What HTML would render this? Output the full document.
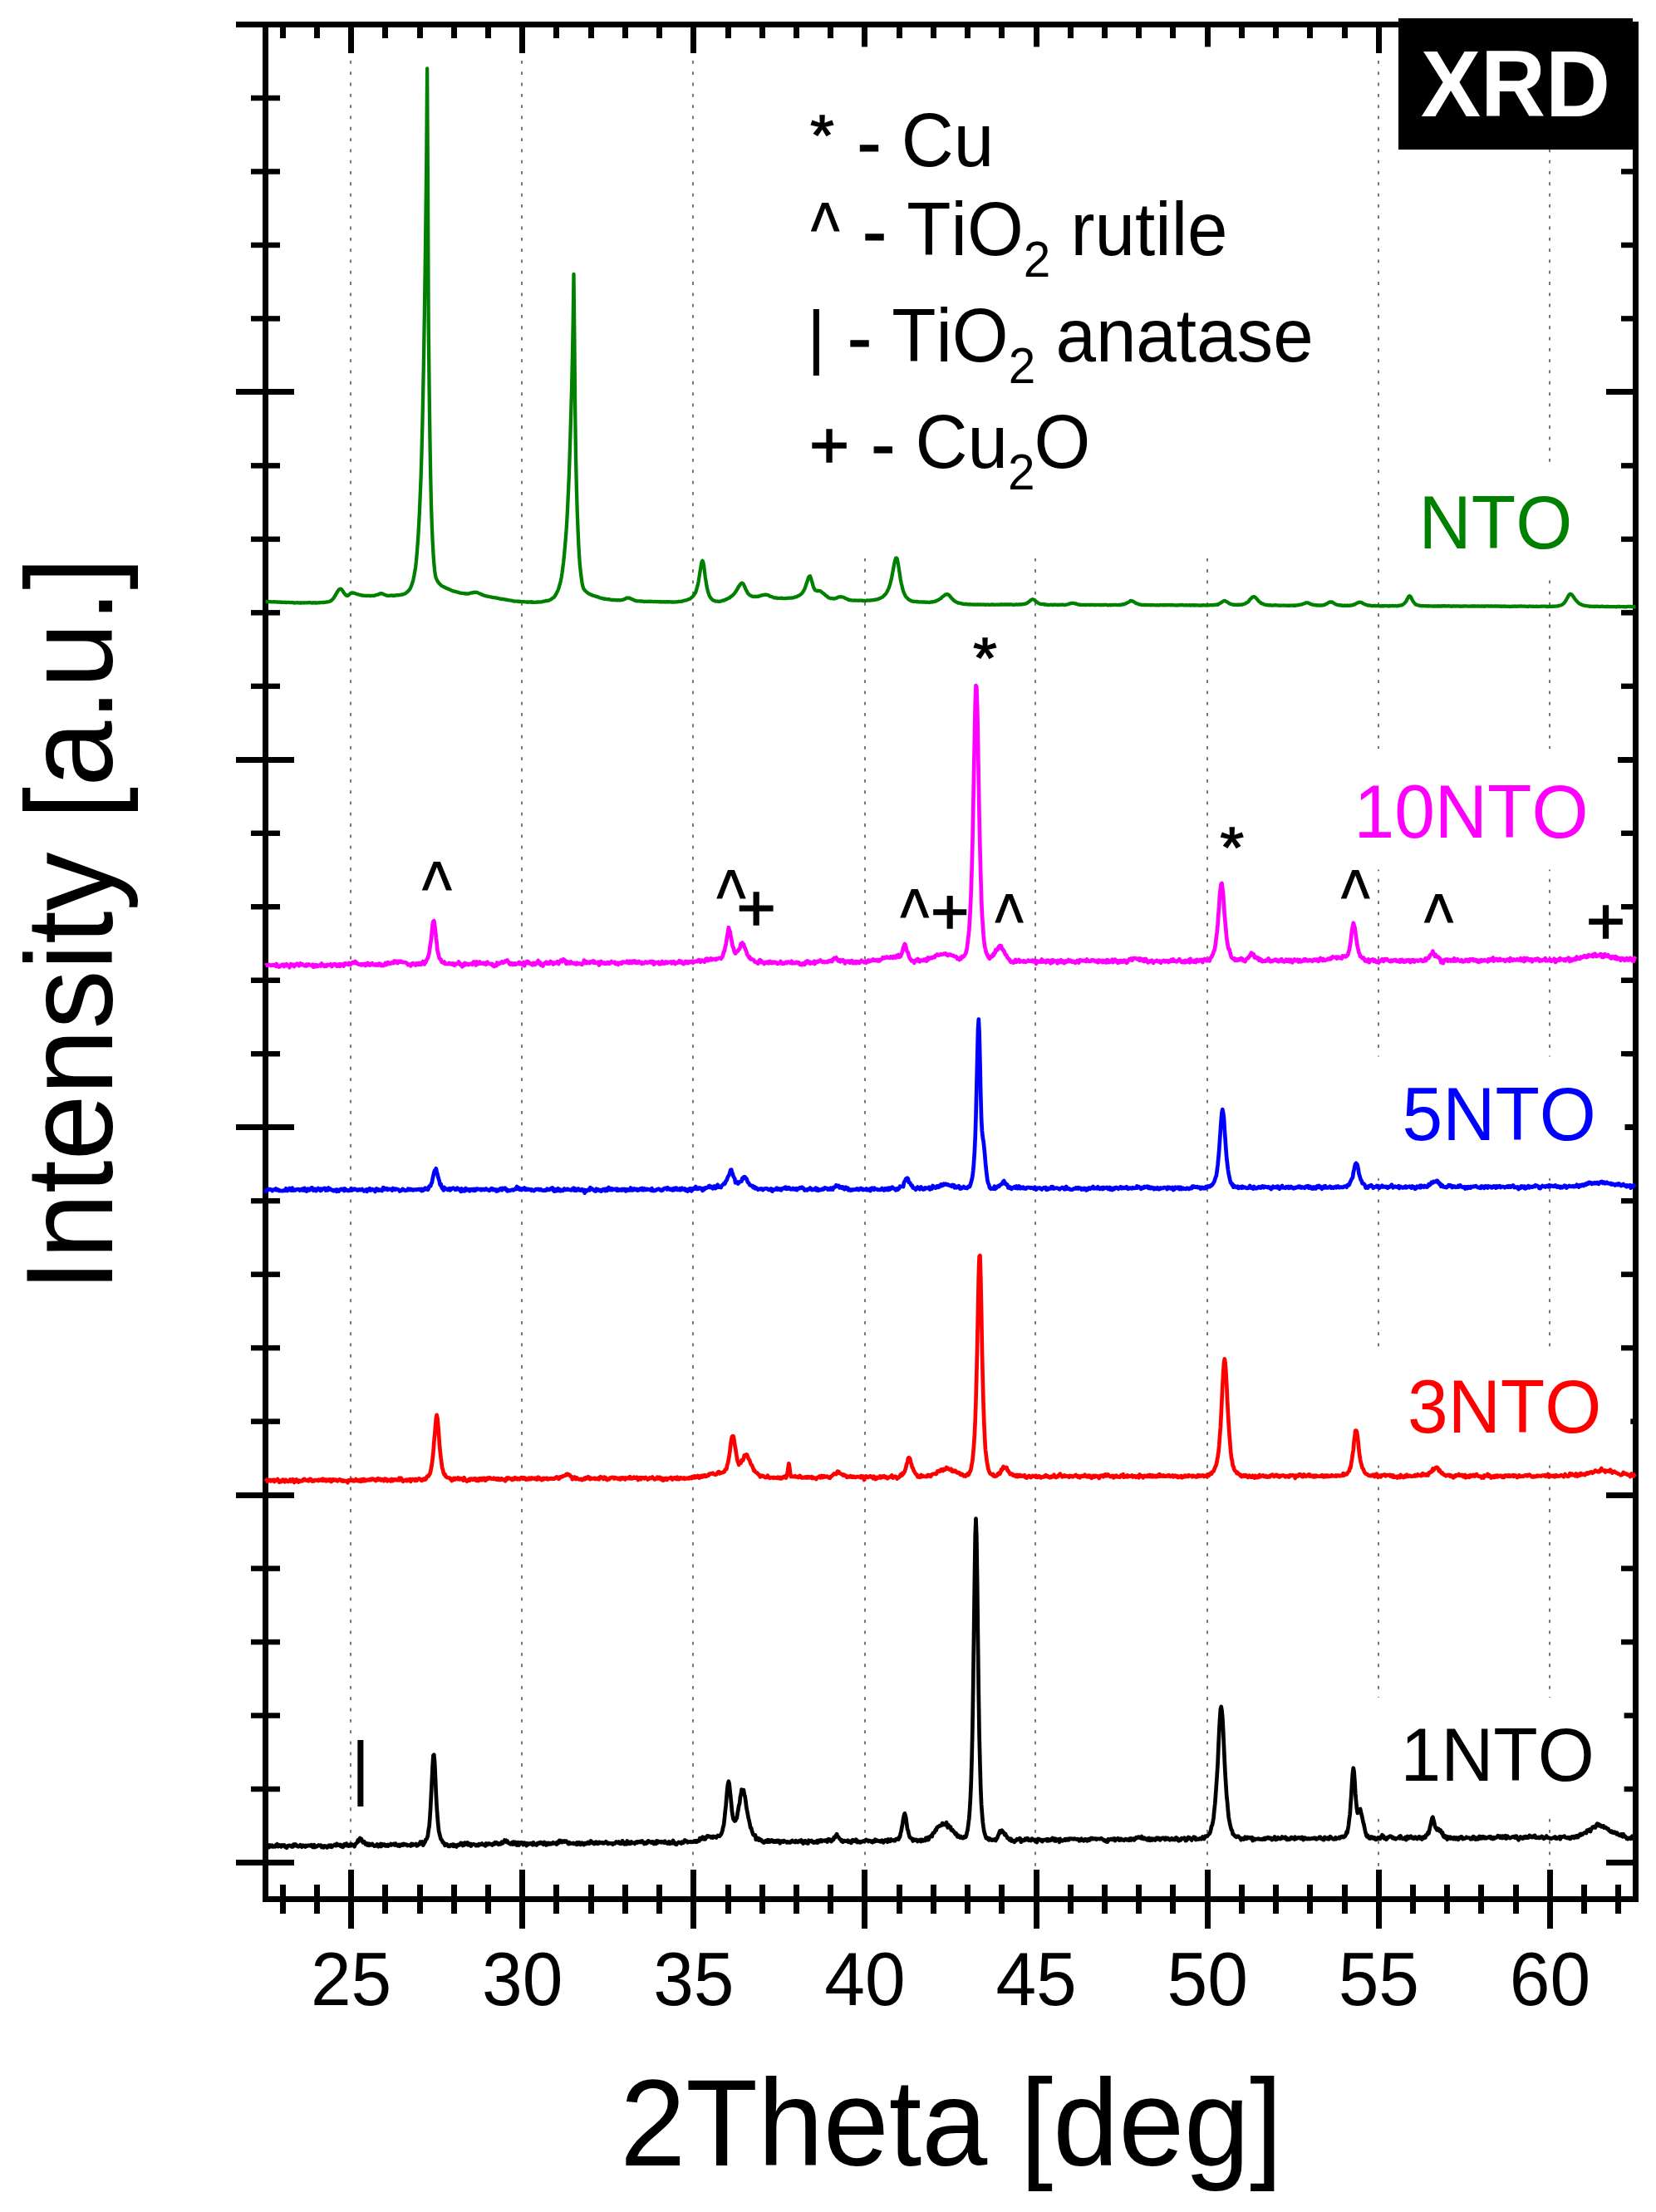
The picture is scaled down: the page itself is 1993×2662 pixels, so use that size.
<!DOCTYPE html>
<html lang="en"><head><meta charset="utf-8"><title>XRD</title>
<style>html,body{margin:0;padding:0;background:#fff}svg{display:block}</style></head>
<body>
<svg width="1993" height="2662" viewBox="0 0 1993 2662" font-family='"Liberation Sans", sans-serif' style="font-kerning:none">
<rect width="1993" height="2662" fill="#fff"/>
<g stroke="#777" stroke-width="2" stroke-dasharray="3.8 9.506" fill="none">
<path d="M422 73V2250"/>
<path d="M628 73V2250"/>
<path d="M834 73V2250"/>
<path d="M1041 73V2250"/>
<path d="M1246 73V2250"/>
<path d="M1453 73V2250"/>
<path d="M1659 73V2250"/>
<path d="M1865 73V2250"/>
</g>
<g fill="#000">
<rect x="284" y="26" width="1688" height="7"/>
<rect x="316" y="26" width="7" height="2263"/>
<rect x="1965" y="26" width="7" height="2263"/>
<rect x="316" y="2282" width="1656" height="7"/>
<rect x="337" y="26" width="7" height="20"/>
<rect x="337" y="2268" width="7" height="35"/>
<rect x="378" y="26" width="7" height="20"/>
<rect x="378" y="2268" width="7" height="35"/>
<rect x="419" y="26" width="7" height="38"/>
<rect x="419" y="2250" width="7" height="71"/>
<rect x="460" y="26" width="7" height="20"/>
<rect x="460" y="2268" width="7" height="35"/>
<rect x="502" y="26" width="7" height="20"/>
<rect x="502" y="2268" width="7" height="35"/>
<rect x="543" y="26" width="7" height="20"/>
<rect x="543" y="2268" width="7" height="35"/>
<rect x="584" y="26" width="7" height="20"/>
<rect x="584" y="2268" width="7" height="35"/>
<rect x="625" y="26" width="7" height="38"/>
<rect x="625" y="2250" width="7" height="71"/>
<rect x="666" y="26" width="7" height="20"/>
<rect x="666" y="2268" width="7" height="35"/>
<rect x="708" y="26" width="7" height="20"/>
<rect x="708" y="2268" width="7" height="35"/>
<rect x="749" y="26" width="7" height="20"/>
<rect x="749" y="2268" width="7" height="35"/>
<rect x="790" y="26" width="7" height="20"/>
<rect x="790" y="2268" width="7" height="35"/>
<rect x="831" y="26" width="7" height="38"/>
<rect x="831" y="2250" width="7" height="71"/>
<rect x="873" y="26" width="7" height="20"/>
<rect x="873" y="2268" width="7" height="35"/>
<rect x="914" y="26" width="7" height="20"/>
<rect x="914" y="2268" width="7" height="35"/>
<rect x="955" y="26" width="7" height="20"/>
<rect x="955" y="2268" width="7" height="35"/>
<rect x="996" y="26" width="7" height="20"/>
<rect x="996" y="2268" width="7" height="35"/>
<rect x="1037" y="26" width="7" height="38"/>
<rect x="1037" y="2250" width="7" height="71"/>
<rect x="1079" y="26" width="7" height="20"/>
<rect x="1079" y="2268" width="7" height="35"/>
<rect x="1120" y="26" width="7" height="20"/>
<rect x="1120" y="2268" width="7" height="35"/>
<rect x="1161" y="26" width="7" height="20"/>
<rect x="1161" y="2268" width="7" height="35"/>
<rect x="1202" y="26" width="7" height="20"/>
<rect x="1202" y="2268" width="7" height="35"/>
<rect x="1244" y="26" width="7" height="38"/>
<rect x="1244" y="2250" width="7" height="71"/>
<rect x="1285" y="26" width="7" height="20"/>
<rect x="1285" y="2268" width="7" height="35"/>
<rect x="1326" y="26" width="7" height="20"/>
<rect x="1326" y="2268" width="7" height="35"/>
<rect x="1367" y="26" width="7" height="20"/>
<rect x="1367" y="2268" width="7" height="35"/>
<rect x="1408" y="26" width="7" height="20"/>
<rect x="1408" y="2268" width="7" height="35"/>
<rect x="1450" y="26" width="7" height="38"/>
<rect x="1450" y="2250" width="7" height="71"/>
<rect x="1491" y="26" width="7" height="20"/>
<rect x="1491" y="2268" width="7" height="35"/>
<rect x="1532" y="26" width="7" height="20"/>
<rect x="1532" y="2268" width="7" height="35"/>
<rect x="1573" y="26" width="7" height="20"/>
<rect x="1573" y="2268" width="7" height="35"/>
<rect x="1615" y="26" width="7" height="20"/>
<rect x="1615" y="2268" width="7" height="35"/>
<rect x="1656" y="26" width="7" height="38"/>
<rect x="1656" y="2250" width="7" height="71"/>
<rect x="1697" y="26" width="7" height="20"/>
<rect x="1697" y="2268" width="7" height="35"/>
<rect x="1738" y="26" width="7" height="20"/>
<rect x="1738" y="2268" width="7" height="35"/>
<rect x="1779" y="26" width="7" height="20"/>
<rect x="1779" y="2268" width="7" height="35"/>
<rect x="1821" y="26" width="7" height="20"/>
<rect x="1821" y="2268" width="7" height="35"/>
<rect x="1862" y="26" width="7" height="38"/>
<rect x="1862" y="2250" width="7" height="71"/>
<rect x="1903" y="26" width="7" height="20"/>
<rect x="1903" y="2268" width="7" height="35"/>
<rect x="1944" y="26" width="7" height="20"/>
<rect x="1944" y="2268" width="7" height="35"/>
<rect x="284" y="26" width="70" height="7"/>
<rect x="1933" y="26" width="36" height="7"/>
<rect x="302" y="114.73" width="35" height="6.5"/>
<rect x="1951" y="114.73" width="17" height="6.5"/>
<rect x="302" y="203.21" width="35" height="6.5"/>
<rect x="1951" y="203.21" width="17" height="6.5"/>
<rect x="302" y="291.69" width="35" height="6.5"/>
<rect x="1951" y="291.69" width="17" height="6.5"/>
<rect x="302" y="380.17" width="35" height="6.5"/>
<rect x="1951" y="380.17" width="17" height="6.5"/>
<rect x="284" y="468" width="70" height="7"/>
<rect x="1933" y="468" width="36" height="7"/>
<rect x="302" y="557.13" width="35" height="6.5"/>
<rect x="1951" y="557.13" width="17" height="6.5"/>
<rect x="302" y="645.61" width="35" height="6.5"/>
<rect x="1951" y="645.61" width="17" height="6.5"/>
<rect x="302" y="734.09" width="35" height="6.5"/>
<rect x="1951" y="734.09" width="17" height="6.5"/>
<rect x="302" y="822.57" width="35" height="6.5"/>
<rect x="1951" y="822.57" width="17" height="6.5"/>
<rect x="284" y="911" width="70" height="7"/>
<rect x="1933" y="911" width="36" height="7"/>
<rect x="302" y="999.53" width="35" height="6.5"/>
<rect x="1951" y="999.53" width="17" height="6.5"/>
<rect x="302" y="1088.01" width="35" height="6.5"/>
<rect x="1951" y="1088.01" width="17" height="6.5"/>
<rect x="302" y="1176.49" width="35" height="6.5"/>
<rect x="1951" y="1176.49" width="17" height="6.5"/>
<rect x="302" y="1264.97" width="35" height="6.5"/>
<rect x="1951" y="1264.97" width="17" height="6.5"/>
<rect x="284" y="1353" width="70" height="7"/>
<rect x="1933" y="1353" width="36" height="7"/>
<rect x="302" y="1441.93" width="35" height="6.5"/>
<rect x="1951" y="1441.93" width="17" height="6.5"/>
<rect x="302" y="1530.41" width="35" height="6.5"/>
<rect x="1951" y="1530.41" width="17" height="6.5"/>
<rect x="302" y="1618.89" width="35" height="6.5"/>
<rect x="1951" y="1618.89" width="17" height="6.5"/>
<rect x="302" y="1707.37" width="35" height="6.5"/>
<rect x="1951" y="1707.37" width="17" height="6.5"/>
<rect x="284" y="1796" width="70" height="7"/>
<rect x="1933" y="1796" width="36" height="7"/>
<rect x="302" y="1884.33" width="35" height="6.5"/>
<rect x="1951" y="1884.33" width="17" height="6.5"/>
<rect x="302" y="1972.81" width="35" height="6.5"/>
<rect x="1951" y="1972.81" width="17" height="6.5"/>
<rect x="302" y="2061.29" width="35" height="6.5"/>
<rect x="1951" y="2061.29" width="17" height="6.5"/>
<rect x="302" y="2149.77" width="35" height="6.5"/>
<rect x="1951" y="2149.77" width="17" height="6.5"/>
<rect x="284" y="2238" width="70" height="7"/>
<rect x="1933" y="2238" width="36" height="7"/>
</g>
<g fill="#fff">
<rect x="938" y="56.4" width="675" height="615.6"/>
<rect x="1678" y="556" width="250" height="142"/>
<rect x="1603" y="901" width="344" height="145.5"/>
<rect x="1657" y="1271.5" width="298.5" height="146.5"/>
<rect x="1657" y="1626" width="305.3" height="137.5"/>
<rect x="1657" y="2043" width="297.6" height="146"/>
</g>
<rect x="1683" y="22" width="282" height="158" fill="#000"/>
<polyline points="319.5,723.9 320.3,723.9 321.1,724.1 322.0,724.1 322.8,724.3 323.6,724.2 324.4,724.0 325.3,724.0 326.1,724.3 326.9,724.4 327.7,724.3 328.6,724.4 329.4,724.2 330.2,724.1 331.0,724.3 331.9,724.4 332.7,724.4 333.5,724.5 334.3,724.5 335.2,724.6 336.0,724.7 336.8,724.5 337.6,724.8 338.5,724.6 339.3,724.6 340.1,724.8 340.9,724.8 341.8,724.9 342.6,724.7 343.4,725.0 344.2,724.8 345.1,725.2 345.9,724.8 346.7,724.9 347.5,725.0 348.4,724.8 349.2,725.2 350.0,725.2 350.8,725.1 351.7,725.0 352.5,725.1 353.3,725.4 354.1,725.5 355.0,725.6 355.8,725.3 356.6,725.3 357.4,725.4 358.3,725.1 359.1,725.3 359.9,725.5 360.7,725.6 361.5,725.4 362.4,725.6 363.2,725.4 364.0,725.4 364.8,725.4 365.7,725.5 366.5,725.4 367.3,725.4 368.1,725.3 369.0,725.4 369.8,725.3 370.6,725.1 371.4,725.3 372.3,725.2 373.1,725.0 373.9,725.3 374.7,725.5 375.6,725.6 376.4,725.5 377.2,725.1 378.0,725.4 378.9,725.5 379.7,725.1 380.5,725.5 381.3,725.5 382.2,725.4 383.0,725.3 383.8,725.2 384.6,725.4 385.5,725.0 386.3,725.1 387.1,725.1 387.9,725.1 388.8,724.8 389.6,725.1 390.4,724.9 391.2,724.8 392.1,724.6 392.9,724.5 393.7,724.4 394.5,724.3 395.4,724.2 396.2,724.0 397.0,723.6 397.8,723.1 398.7,722.9 399.5,721.9 400.3,721.1 401.1,720.4 401.9,719.2 402.8,717.7 403.6,716.5 404.4,714.9 405.2,713.6 406.1,712.0 406.9,710.9 407.7,709.8 408.5,709.0 409.4,708.7 410.2,708.9 411.0,709.1 411.8,710.3 412.7,711.4 413.5,713.0 414.3,713.9 415.1,715.3 416.0,715.7 416.8,716.7 417.6,716.9 418.4,716.8 419.3,716.4 420.1,715.7 420.9,715.1 421.7,714.3 422.6,713.6 423.4,713.5 424.2,713.8 425.0,713.5 425.9,713.7 426.7,713.8 427.5,714.2 428.3,714.5 429.2,714.8 430.0,715.2 430.8,715.2 431.6,715.5 432.5,715.8 433.3,715.9 434.1,716.0 434.9,716.5 435.8,716.4 436.6,716.7 437.4,716.7 438.2,716.9 439.1,716.8 439.9,716.8 440.7,716.9 441.5,717.0 442.4,716.8 443.2,716.9 444.0,716.9 444.8,717.0 445.6,717.1 446.5,717.0 447.3,716.8 448.1,716.8 448.9,716.8 449.8,716.8 450.6,716.8 451.4,716.4 452.2,716.2 453.1,716.0 453.9,715.6 454.7,715.7 455.5,715.1 456.4,715.0 457.2,714.3 458.0,714.5 458.8,714.2 459.7,714.4 460.5,714.6 461.3,714.9 462.1,715.3 463.0,715.8 463.8,716.0 464.6,716.4 465.4,716.6 466.3,716.8 467.1,716.7 467.9,716.8 468.7,716.8 469.6,716.7 470.4,716.7 471.2,716.5 472.0,716.6 472.9,716.9 473.7,716.7 474.5,716.6 475.3,716.8 476.2,716.5 477.0,716.4 477.8,716.2 478.6,716.4 479.5,716.1 480.3,716.1 481.1,716.1 481.9,715.9 482.8,715.7 483.6,715.6 484.4,715.5 485.2,715.4 486.0,714.8 486.9,714.6 487.7,714.3 488.5,713.7 489.3,712.9 490.2,712.4 491.0,711.6 491.8,710.7 492.6,709.8 493.5,708.7 494.3,706.9 495.1,705.1 495.9,702.7 496.8,699.9 497.6,696.7 498.4,692.7 499.2,688.1 500.1,682.8 500.9,675.8 501.7,667.0 502.5,656.6 503.4,643.6 504.2,629.4 505.0,613.1 505.8,594.2 506.7,571.8 507.5,545.1 508.3,513.7 509.1,476.1 510.0,431.6 510.8,381.7 511.6,328.0 512.4,265.3 513.3,189.1 514.1,82.4 514.9,215.4 515.7,390.0 516.6,468.8 517.4,526.0 518.2,572.2 519.0,608.3 519.9,634.4 520.7,653.2 521.5,667.2 522.3,678.1 523.2,686.8 524.0,692.7 524.8,695.6 525.6,697.3 526.4,699.1 527.3,700.5 528.1,701.4 528.9,702.5 529.7,703.4 530.6,704.2 531.4,704.9 532.2,705.3 533.0,705.8 533.9,706.1 534.7,706.7 535.5,706.9 536.3,707.4 537.2,707.9 538.0,708.1 538.8,708.6 539.6,708.9 540.5,709.2 541.3,709.5 542.1,709.8 542.9,710.5 543.8,710.7 544.6,711.0 545.4,711.4 546.2,711.5 547.1,711.7 547.9,712.0 548.7,711.9 549.5,712.2 550.4,712.7 551.2,712.8 552.0,712.9 552.8,713.4 553.7,713.6 554.5,713.7 555.3,713.8 556.1,713.8 557.0,714.0 557.8,714.2 558.6,714.2 559.4,714.4 560.3,714.5 561.1,714.6 561.9,714.3 562.7,714.6 563.6,714.7 564.4,714.2 565.2,713.9 566.0,713.9 566.8,713.5 567.7,713.3 568.5,713.5 569.3,713.0 570.1,713.1 571.0,712.7 571.8,713.0 572.6,712.8 573.4,712.8 574.3,713.0 575.1,713.4 575.9,713.7 576.7,714.1 577.6,714.5 578.4,714.7 579.2,715.3 580.0,715.4 580.9,716.0 581.7,716.3 582.5,716.7 583.3,716.7 584.2,717.0 585.0,717.3 585.8,717.5 586.6,717.6 587.5,717.8 588.3,718.0 589.1,718.2 589.9,718.2 590.8,718.5 591.6,718.7 592.4,718.9 593.2,719.0 594.1,719.1 594.9,719.2 595.7,719.3 596.5,719.4 597.4,719.5 598.2,720.0 599.0,719.8 599.8,720.0 600.7,720.3 601.5,720.5 602.3,720.6 603.1,720.9 604.0,721.0 604.8,721.0 605.6,720.8 606.4,721.3 607.3,721.3 608.1,721.5 608.9,721.6 609.7,721.9 610.5,721.9 611.4,722.2 612.2,722.3 613.0,722.3 613.8,722.5 614.7,722.7 615.5,722.7 616.3,723.0 617.1,723.1 618.0,723.3 618.8,723.5 619.6,723.6 620.4,723.6 621.3,723.6 622.1,723.7 622.9,723.5 623.7,724.0 624.6,723.7 625.4,724.1 626.2,723.9 627.0,724.1 627.9,724.1 628.7,724.2 629.5,724.1 630.3,724.0 631.2,724.4 632.0,724.3 632.8,724.3 633.6,724.4 634.5,724.8 635.3,724.5 636.1,724.6 636.9,724.4 637.8,724.7 638.6,724.4 639.4,724.1 640.2,724.9 641.1,724.4 641.9,724.8 642.7,724.8 643.5,724.8 644.4,724.7 645.2,724.7 646.0,724.8 646.8,724.5 647.7,724.5 648.5,724.6 649.3,724.4 650.1,724.3 650.9,724.5 651.8,724.3 652.6,724.1 653.4,723.9 654.2,723.6 655.1,723.7 655.9,723.5 656.7,722.9 657.5,723.0 658.4,723.0 659.2,723.0 660.0,722.7 660.8,722.3 661.7,722.1 662.5,721.5 663.3,721.2 664.1,720.4 665.0,719.9 665.8,719.3 666.6,718.9 667.4,717.8 668.3,716.6 669.1,715.2 669.9,713.6 670.7,712.1 671.6,710.0 672.4,707.9 673.2,705.2 674.0,702.4 674.9,698.7 675.7,694.6 676.5,689.5 677.3,683.5 678.2,676.5 679.0,668.3 679.8,659.9 680.6,650.3 681.5,638.9 682.3,626.4 683.1,611.3 683.9,593.8 684.8,573.7 685.6,550.6 686.4,523.9 687.2,496.8 688.1,466.1 688.9,431.1 689.7,387.3 690.5,330.0 691.3,400.3 692.2,494.5 693.0,550.0 693.8,584.6 694.6,612.1 695.5,636.2 696.3,654.5 697.1,668.5 697.9,679.8 698.8,688.3 699.6,694.9 700.4,700.3 701.2,704.8 702.1,707.6 702.9,709.2 703.7,710.3 704.5,711.1 705.4,712.0 706.2,712.6 707.0,713.2 707.8,714.0 708.7,714.4 709.5,715.0 710.3,715.1 711.1,715.6 712.0,715.9 712.8,716.4 713.6,716.6 714.4,716.8 715.3,717.0 716.1,717.5 716.9,717.8 717.7,718.1 718.6,717.8 719.4,718.2 720.2,718.9 721.0,719.0 721.9,719.3 722.7,719.7 723.5,719.8 724.3,719.9 725.2,720.1 726.0,720.6 726.8,720.3 727.6,720.8 728.5,720.7 729.3,720.8 730.1,721.2 730.9,721.0 731.7,721.3 732.6,721.2 733.4,721.2 734.2,721.5 735.0,721.9 735.9,721.8 736.7,722.0 737.5,722.0 738.3,722.0 739.2,722.0 740.0,722.2 740.8,722.0 741.6,722.3 742.5,722.1 743.3,722.4 744.1,722.4 744.9,722.2 745.8,722.4 746.6,722.3 747.4,722.2 748.2,722.0 749.1,721.9 749.9,721.8 750.7,721.3 751.5,720.9 752.4,720.8 753.2,720.0 754.0,719.7 754.8,719.5 755.7,719.6 756.5,719.6 757.3,719.7 758.1,719.9 759.0,720.4 759.8,720.8 760.6,721.1 761.4,721.3 762.3,721.9 763.1,722.2 763.9,722.6 764.7,722.8 765.6,723.2 766.4,723.4 767.2,723.4 768.0,723.3 768.9,723.3 769.7,723.4 770.5,723.4 771.3,723.6 772.2,723.5 773.0,723.6 773.8,723.6 774.6,723.9 775.4,724.0 776.3,723.9 777.1,723.8 777.9,724.0 778.7,723.9 779.6,723.8 780.4,724.0 781.2,723.9 782.0,723.7 782.9,724.0 783.7,724.0 784.5,723.8 785.3,723.8 786.2,724.1 787.0,724.1 787.8,724.1 788.6,723.9 789.5,724.1 790.3,724.2 791.1,723.9 791.9,724.1 792.8,724.1 793.6,724.3 794.4,723.9 795.2,724.2 796.1,724.5 796.9,724.2 797.7,724.3 798.5,724.4 799.4,724.2 800.2,724.5 801.0,724.4 801.8,724.1 802.7,724.4 803.5,724.2 804.3,724.5 805.1,724.2 806.0,724.3 806.8,724.3 807.6,724.4 808.4,724.6 809.3,724.4 810.1,724.5 810.9,724.7 811.7,724.4 812.6,724.4 813.4,724.3 814.2,724.4 815.0,724.4 815.8,724.1 816.7,724.0 817.5,723.9 818.3,723.8 819.1,724.0 820.0,723.7 820.8,723.7 821.6,723.4 822.4,723.1 823.3,722.8 824.1,722.7 824.9,722.6 825.7,722.3 826.6,722.1 827.4,721.7 828.2,721.4 829.0,721.0 829.9,720.8 830.7,720.5 831.5,719.7 832.3,718.9 833.2,718.5 834.0,717.4 834.8,716.6 835.6,715.4 836.5,713.9 837.3,712.6 838.1,709.8 838.9,707.0 839.8,703.8 840.6,699.8 841.4,695.0 842.2,689.7 843.1,684.5 843.9,679.6 844.7,675.9 845.5,674.7 846.4,677.0 847.2,681.4 848.0,688.0 848.8,694.5 849.7,700.1 850.5,705.3 851.3,709.1 852.1,712.3 853.0,714.8 853.8,717.1 854.6,718.4 855.4,719.8 856.2,720.6 857.1,721.5 857.9,722.3 858.7,722.6 859.5,722.8 860.4,723.2 861.2,723.6 862.0,723.7 862.8,723.7 863.7,723.5 864.5,723.8 865.3,723.8 866.1,723.8 867.0,723.6 867.8,723.4 868.6,723.2 869.4,723.0 870.3,722.5 871.1,722.7 871.9,722.1 872.7,722.0 873.6,721.4 874.4,720.8 875.2,720.8 876.0,720.1 876.9,719.7 877.7,719.6 878.5,719.1 879.3,718.1 880.2,717.8 881.0,716.9 881.8,716.4 882.6,715.7 883.5,714.5 884.3,713.7 885.1,712.3 885.9,711.5 886.8,709.8 887.6,708.5 888.4,707.2 889.2,705.5 890.1,704.6 890.9,703.1 891.7,702.5 892.5,701.7 893.4,701.7 894.2,702.2 895.0,703.4 895.8,705.2 896.6,706.9 897.5,709.2 898.3,710.7 899.1,711.9 899.9,713.9 900.8,714.7 901.6,715.7 902.4,716.2 903.2,716.5 904.1,717.2 904.9,717.4 905.7,717.8 906.5,717.9 907.4,718.0 908.2,717.8 909.0,718.0 909.8,717.9 910.7,718.0 911.5,717.7 912.3,717.7 913.1,717.8 914.0,717.1 914.8,717.1 915.6,716.9 916.4,716.5 917.3,716.4 918.1,716.2 918.9,716.1 919.7,715.8 920.6,715.7 921.4,715.8 922.2,715.7 923.0,715.9 923.9,716.1 924.7,716.2 925.5,716.9 926.3,717.5 927.2,717.6 928.0,717.9 928.8,718.2 929.6,718.4 930.5,718.8 931.3,719.2 932.1,719.5 932.9,719.5 933.8,719.4 934.6,719.5 935.4,720.0 936.2,719.9 937.1,719.9 937.9,719.9 938.7,719.8 939.5,720.1 940.3,719.9 941.2,719.7 942.0,720.1 942.8,720.1 943.6,720.1 944.5,720.2 945.3,720.0 946.1,720.2 946.9,719.8 947.8,719.8 948.6,719.7 949.4,719.8 950.2,719.7 951.1,719.7 951.9,719.7 952.7,719.6 953.5,719.4 954.4,719.3 955.2,719.3 956.0,718.8 956.8,718.4 957.7,718.5 958.5,718.3 959.3,717.7 960.1,717.5 961.0,716.9 961.8,716.6 962.6,716.2 963.4,715.6 964.3,714.7 965.1,714.1 965.9,712.9 966.7,711.8 967.6,710.2 968.4,708.6 969.2,706.6 970.0,704.1 970.9,701.6 971.7,699.1 972.5,696.6 973.3,694.5 974.2,693.5 975.0,693.3 975.8,695.4 976.6,698.1 977.5,701.0 978.3,704.2 979.1,706.7 979.9,708.3 980.7,709.9 981.6,710.6 982.4,710.6 983.2,711.1 984.0,711.0 984.9,710.9 985.7,711.0 986.5,711.2 987.3,711.4 988.2,711.9 989.0,712.6 989.8,713.3 990.6,714.0 991.5,714.5 992.3,715.2 993.1,715.9 993.9,716.8 994.8,717.2 995.6,717.9 996.4,718.6 997.2,719.3 998.1,719.5 998.9,719.9 999.7,720.1 1000.5,720.2 1001.4,720.2 1002.2,720.3 1003.0,720.5 1003.8,720.4 1004.7,720.4 1005.5,720.0 1006.3,719.9 1007.1,719.6 1008.0,719.0 1008.8,718.6 1009.6,718.4 1010.4,718.3 1011.3,718.2 1012.1,718.4 1012.9,718.3 1013.7,718.5 1014.6,718.7 1015.4,718.8 1016.2,719.5 1017.0,719.8 1017.9,720.2 1018.7,720.5 1019.5,721.0 1020.3,721.2 1021.1,721.8 1022.0,722.0 1022.8,722.0 1023.6,722.2 1024.4,722.4 1025.3,722.3 1026.1,722.7 1026.9,722.7 1027.7,722.6 1028.6,722.5 1029.4,722.6 1030.2,722.7 1031.0,722.6 1031.9,722.7 1032.7,722.6 1033.5,722.8 1034.3,722.7 1035.2,722.6 1036.0,722.7 1036.8,722.7 1037.6,722.6 1038.5,723.1 1039.3,722.9 1040.1,722.9 1040.9,723.0 1041.8,722.9 1042.6,722.9 1043.4,722.6 1044.2,722.5 1045.1,722.6 1045.9,722.7 1046.7,722.5 1047.5,722.5 1048.4,722.4 1049.2,722.4 1050.0,722.2 1050.8,722.2 1051.7,722.2 1052.5,721.7 1053.3,721.8 1054.1,721.5 1055.0,721.4 1055.8,721.4 1056.6,721.0 1057.4,720.9 1058.3,720.2 1059.1,720.0 1059.9,719.6 1060.7,719.2 1061.5,718.8 1062.4,718.3 1063.2,717.4 1064.0,716.7 1064.8,715.8 1065.7,715.2 1066.5,713.9 1067.3,712.6 1068.1,711.1 1069.0,709.2 1069.8,707.4 1070.6,705.0 1071.4,702.3 1072.3,698.9 1073.1,695.2 1073.9,691.0 1074.7,686.8 1075.6,682.2 1076.4,677.8 1077.2,674.3 1078.0,671.8 1078.9,671.4 1079.7,672.5 1080.5,676.0 1081.3,680.9 1082.2,686.6 1083.0,691.9 1083.8,697.1 1084.6,701.4 1085.5,705.1 1086.3,708.7 1087.1,711.2 1087.9,713.4 1088.8,715.3 1089.6,717.0 1090.4,718.4 1091.2,719.0 1092.1,719.8 1092.9,720.9 1093.7,721.5 1094.5,721.9 1095.4,722.4 1096.2,722.9 1097.0,723.4 1097.8,723.4 1098.7,723.8 1099.5,723.7 1100.3,723.8 1101.1,724.0 1102.0,723.8 1102.8,723.9 1103.6,724.3 1104.4,724.0 1105.2,724.4 1106.1,724.4 1106.9,724.5 1107.7,724.4 1108.5,724.3 1109.4,724.5 1110.2,724.5 1111.0,724.5 1111.8,724.6 1112.7,724.5 1113.5,724.6 1114.3,724.8 1115.1,724.7 1116.0,724.7 1116.8,724.8 1117.6,724.8 1118.4,725.0 1119.3,724.9 1120.1,724.5 1120.9,724.4 1121.7,724.5 1122.6,724.4 1123.4,724.1 1124.2,724.1 1125.0,723.8 1125.9,723.6 1126.7,723.1 1127.5,722.8 1128.3,722.4 1129.2,722.1 1130.0,721.5 1130.8,721.0 1131.6,720.5 1132.5,720.0 1133.3,719.1 1134.1,718.3 1134.9,717.8 1135.8,717.2 1136.6,716.5 1137.4,715.7 1138.2,715.5 1139.1,715.4 1139.9,715.2 1140.7,715.4 1141.5,715.8 1142.4,716.5 1143.2,717.2 1144.0,718.5 1144.8,719.3 1145.6,720.3 1146.5,721.2 1147.3,721.8 1148.1,722.8 1148.9,723.3 1149.8,724.0 1150.6,724.3 1151.4,724.8 1152.2,725.0 1153.1,725.6 1153.9,725.4 1154.7,725.8 1155.5,726.1 1156.4,726.1 1157.2,726.4 1158.0,726.4 1158.8,726.9 1159.7,726.8 1160.5,727.1 1161.3,727.0 1162.1,727.0 1163.0,726.9 1163.8,727.1 1164.6,727.3 1165.4,727.3 1166.3,727.4 1167.1,727.2 1167.9,727.6 1168.7,727.3 1169.6,727.3 1170.4,727.6 1171.2,727.7 1172.0,727.5 1172.9,727.5 1173.7,727.7 1174.5,727.5 1175.3,727.7 1176.2,727.4 1177.0,727.5 1177.8,727.6 1178.6,727.7 1179.5,727.4 1180.3,727.7 1181.1,727.7 1181.9,727.7 1182.8,727.6 1183.6,727.5 1184.4,727.6 1185.2,727.6 1186.0,727.8 1186.9,727.6 1187.7,727.6 1188.5,727.7 1189.3,727.5 1190.2,727.8 1191.0,727.8 1191.8,727.8 1192.6,727.6 1193.5,727.4 1194.3,727.4 1195.1,727.6 1195.9,727.6 1196.8,727.8 1197.6,727.8 1198.4,727.7 1199.2,727.6 1200.1,727.6 1200.9,727.6 1201.7,727.8 1202.5,727.7 1203.4,727.6 1204.2,727.4 1205.0,727.6 1205.8,727.3 1206.7,727.7 1207.5,727.7 1208.3,727.4 1209.1,727.5 1210.0,727.4 1210.8,727.5 1211.6,727.6 1212.4,727.5 1213.3,727.4 1214.1,727.6 1214.9,727.5 1215.7,727.5 1216.6,727.3 1217.4,727.5 1218.2,727.6 1219.0,727.7 1219.9,728.0 1220.7,727.8 1221.5,727.7 1222.3,727.7 1223.2,727.4 1224.0,727.6 1224.8,727.7 1225.6,727.3 1226.4,727.5 1227.3,727.5 1228.1,727.2 1228.9,727.5 1229.7,727.1 1230.6,727.1 1231.4,727.1 1232.2,726.9 1233.0,726.9 1233.9,726.6 1234.7,726.4 1235.5,726.0 1236.3,725.7 1237.2,724.8 1238.0,724.5 1238.8,723.8 1239.6,723.0 1240.5,722.3 1241.3,721.8 1242.1,721.5 1242.9,721.2 1243.8,721.5 1244.6,722.0 1245.4,722.3 1246.2,723.3 1247.1,724.2 1247.9,724.4 1248.7,725.3 1249.5,725.7 1250.4,726.2 1251.2,726.5 1252.0,726.9 1252.8,726.8 1253.7,727.1 1254.5,727.1 1255.3,727.1 1256.1,727.0 1257.0,727.5 1257.8,727.6 1258.6,727.5 1259.4,727.6 1260.3,727.9 1261.1,727.9 1261.9,728.0 1262.7,727.9 1263.6,727.8 1264.4,727.7 1265.2,727.6 1266.0,727.8 1266.9,728.1 1267.7,727.9 1268.5,727.8 1269.3,727.6 1270.1,727.7 1271.0,727.8 1271.8,727.8 1272.6,728.0 1273.4,727.9 1274.3,728.0 1275.1,727.8 1275.9,727.8 1276.7,727.9 1277.6,727.6 1278.4,727.7 1279.2,727.6 1280.0,727.8 1280.9,728.0 1281.7,727.9 1282.5,727.8 1283.3,727.7 1284.2,727.5 1285.0,727.3 1285.8,727.0 1286.6,726.6 1287.5,726.5 1288.3,726.3 1289.1,725.8 1289.9,725.8 1290.8,725.9 1291.6,725.8 1292.4,725.8 1293.2,726.2 1294.1,726.6 1294.9,726.5 1295.7,726.9 1296.5,727.0 1297.4,727.3 1298.2,727.5 1299.0,727.9 1299.8,727.7 1300.7,727.8 1301.5,727.8 1302.3,727.8 1303.1,727.8 1304.0,727.8 1304.8,727.9 1305.6,728.0 1306.4,728.1 1307.3,727.8 1308.1,727.8 1308.9,727.8 1309.7,727.9 1310.5,727.9 1311.4,728.0 1312.2,727.7 1313.0,728.0 1313.8,727.9 1314.7,727.8 1315.5,727.8 1316.3,728.0 1317.1,727.9 1318.0,728.2 1318.8,728.0 1319.6,728.0 1320.4,727.8 1321.3,727.8 1322.1,728.1 1322.9,728.1 1323.7,728.0 1324.6,728.0 1325.4,728.0 1326.2,728.1 1327.0,728.2 1327.9,727.8 1328.7,728.0 1329.5,727.8 1330.3,727.8 1331.2,727.9 1332.0,727.8 1332.8,728.3 1333.6,728.3 1334.5,728.1 1335.3,728.1 1336.1,727.9 1336.9,728.3 1337.8,728.0 1338.6,728.0 1339.4,728.1 1340.2,728.0 1341.1,727.8 1341.9,727.9 1342.7,727.9 1343.5,728.0 1344.4,728.1 1345.2,728.1 1346.0,728.1 1346.8,727.9 1347.7,728.0 1348.5,728.0 1349.3,727.6 1350.1,727.7 1350.9,727.4 1351.8,727.2 1352.6,727.4 1353.4,727.1 1354.2,726.7 1355.1,726.2 1355.9,726.1 1356.7,725.3 1357.5,725.0 1358.4,724.6 1359.2,724.2 1360.0,723.4 1360.8,722.8 1361.7,723.1 1362.5,723.3 1363.3,723.6 1364.1,723.9 1365.0,724.6 1365.8,724.9 1366.6,725.6 1367.4,726.1 1368.3,726.3 1369.1,726.5 1369.9,726.9 1370.7,727.2 1371.6,727.4 1372.4,727.7 1373.2,727.8 1374.0,728.1 1374.9,728.0 1375.7,727.8 1376.5,728.1 1377.3,728.0 1378.2,728.0 1379.0,728.1 1379.8,728.1 1380.6,727.9 1381.5,728.0 1382.3,728.2 1383.1,728.0 1383.9,728.1 1384.8,728.1 1385.6,728.3 1386.4,728.0 1387.2,728.1 1388.1,728.1 1388.9,728.2 1389.7,728.2 1390.5,728.3 1391.3,728.3 1392.2,728.4 1393.0,728.2 1393.8,728.3 1394.6,728.4 1395.5,728.4 1396.3,727.9 1397.1,728.2 1397.9,728.2 1398.8,728.0 1399.6,728.3 1400.4,728.4 1401.2,728.0 1402.1,728.0 1402.9,728.3 1403.7,728.3 1404.5,728.0 1405.4,728.0 1406.2,728.2 1407.0,728.0 1407.8,728.0 1408.7,728.3 1409.5,728.1 1410.3,727.9 1411.1,728.2 1412.0,728.1 1412.8,728.4 1413.6,728.4 1414.4,728.3 1415.3,728.4 1416.1,728.5 1416.9,728.4 1417.7,728.3 1418.6,728.2 1419.4,728.3 1420.2,728.1 1421.0,728.0 1421.9,728.1 1422.7,728.0 1423.5,728.1 1424.3,728.3 1425.2,728.3 1426.0,728.3 1426.8,728.4 1427.6,728.1 1428.5,728.4 1429.3,728.3 1430.1,728.3 1430.9,728.4 1431.8,728.1 1432.6,728.6 1433.4,728.3 1434.2,728.2 1435.0,728.4 1435.9,728.2 1436.7,728.4 1437.5,728.5 1438.3,728.2 1439.2,728.5 1440.0,728.3 1440.8,728.3 1441.6,728.3 1442.5,728.4 1443.3,728.6 1444.1,728.7 1444.9,728.6 1445.8,728.4 1446.6,728.5 1447.4,728.3 1448.2,728.2 1449.1,728.4 1449.9,728.3 1450.7,728.6 1451.5,728.4 1452.4,728.4 1453.2,728.5 1454.0,728.3 1454.8,728.3 1455.7,728.4 1456.5,728.1 1457.3,728.1 1458.1,728.2 1459.0,728.3 1459.8,728.1 1460.6,727.9 1461.4,727.9 1462.3,728.1 1463.1,727.8 1463.9,727.6 1464.7,727.4 1465.6,727.8 1466.4,727.2 1467.2,726.4 1468.0,726.1 1468.9,725.7 1469.7,725.0 1470.5,724.6 1471.3,724.1 1472.2,723.4 1473.0,723.1 1473.8,723.0 1474.6,723.3 1475.4,723.7 1476.3,724.1 1477.1,724.5 1477.9,725.3 1478.7,725.6 1479.6,726.4 1480.4,726.6 1481.2,727.0 1482.0,727.2 1482.9,727.4 1483.7,727.7 1484.5,727.7 1485.3,728.0 1486.2,727.7 1487.0,728.0 1487.8,727.8 1488.6,728.0 1489.5,727.6 1490.3,728.0 1491.1,727.8 1491.9,727.7 1492.8,727.9 1493.6,727.7 1494.4,727.7 1495.2,727.7 1496.1,727.2 1496.9,727.0 1497.7,726.8 1498.5,726.5 1499.4,725.9 1500.2,725.4 1501.0,725.1 1501.8,724.4 1502.7,723.7 1503.5,722.5 1504.3,721.3 1505.1,720.8 1506.0,719.9 1506.8,718.9 1507.6,718.5 1508.4,718.2 1509.3,718.1 1510.1,718.4 1510.9,719.0 1511.7,719.9 1512.6,720.6 1513.4,721.9 1514.2,722.6 1515.0,723.7 1515.8,724.2 1516.7,724.8 1517.5,725.7 1518.3,726.3 1519.1,726.3 1520.0,726.7 1520.8,727.2 1521.6,727.4 1522.4,727.8 1523.3,727.8 1524.1,728.0 1524.9,728.3 1525.7,728.0 1526.6,728.2 1527.4,728.5 1528.2,728.4 1529.0,728.2 1529.9,728.5 1530.7,728.7 1531.5,728.7 1532.3,728.4 1533.2,728.4 1534.0,728.4 1534.8,728.2 1535.6,728.4 1536.5,728.3 1537.3,728.4 1538.1,728.7 1538.9,728.6 1539.8,728.7 1540.6,728.9 1541.4,728.6 1542.2,728.7 1543.1,728.7 1543.9,728.7 1544.7,728.5 1545.5,728.6 1546.4,728.6 1547.2,728.6 1548.0,728.7 1548.8,728.8 1549.7,728.7 1550.5,728.8 1551.3,728.7 1552.1,728.9 1553.0,728.7 1553.8,728.7 1554.6,728.6 1555.4,728.7 1556.2,728.7 1557.1,728.9 1557.9,728.5 1558.7,728.8 1559.5,728.6 1560.4,728.4 1561.2,728.3 1562.0,728.4 1562.8,728.0 1563.7,728.0 1564.5,727.8 1565.3,727.7 1566.1,727.6 1567.0,727.2 1567.8,727.0 1568.6,726.5 1569.4,726.3 1570.3,726.1 1571.1,725.6 1571.9,725.4 1572.7,725.3 1573.6,725.3 1574.4,725.6 1575.2,725.9 1576.0,726.2 1576.9,726.6 1577.7,727.1 1578.5,727.1 1579.3,727.7 1580.2,727.6 1581.0,728.0 1581.8,728.2 1582.6,728.2 1583.5,728.4 1584.3,728.1 1585.1,728.5 1585.9,728.4 1586.8,728.4 1587.6,728.6 1588.4,728.6 1589.2,728.4 1590.1,728.6 1590.9,728.5 1591.7,728.3 1592.5,728.1 1593.4,728.1 1594.2,727.9 1595.0,727.4 1595.8,726.8 1596.7,726.6 1597.5,726.2 1598.3,725.5 1599.1,725.0 1599.9,724.7 1600.8,724.5 1601.6,724.4 1602.4,724.6 1603.2,724.5 1604.1,725.2 1604.9,725.6 1605.7,726.1 1606.5,726.6 1607.4,727.1 1608.2,727.5 1609.0,727.7 1609.8,728.0 1610.7,728.2 1611.5,728.2 1612.3,728.5 1613.1,728.1 1614.0,728.3 1614.8,728.8 1615.6,728.7 1616.4,728.8 1617.3,728.9 1618.1,728.5 1618.9,728.9 1619.7,728.6 1620.6,728.6 1621.4,728.8 1622.2,728.6 1623.0,728.8 1623.9,728.9 1624.7,728.6 1625.5,728.5 1626.3,728.5 1627.2,728.4 1628.0,728.1 1628.8,727.7 1629.6,727.8 1630.5,727.4 1631.3,726.7 1632.1,726.4 1632.9,725.9 1633.8,725.5 1634.6,725.2 1635.4,724.7 1636.2,724.8 1637.1,724.8 1637.9,724.8 1638.7,725.0 1639.5,725.6 1640.3,726.1 1641.2,726.6 1642.0,726.9 1642.8,727.3 1643.6,727.5 1644.5,727.8 1645.3,728.3 1646.1,728.5 1646.9,728.4 1647.8,728.6 1648.6,728.7 1649.4,728.7 1650.2,729.0 1651.1,729.1 1651.9,729.1 1652.7,729.0 1653.5,729.0 1654.4,729.0 1655.2,729.1 1656.0,729.0 1656.8,729.2 1657.7,729.2 1658.5,729.2 1659.3,729.0 1660.1,729.3 1661.0,729.3 1661.8,729.5 1662.6,729.3 1663.4,729.1 1664.3,729.1 1665.1,729.3 1665.9,729.1 1666.7,729.0 1667.6,729.2 1668.4,729.2 1669.2,729.2 1670.0,729.3 1670.9,729.2 1671.7,729.5 1672.5,729.0 1673.3,729.3 1674.2,729.2 1675.0,729.2 1675.8,729.0 1676.6,729.0 1677.5,729.3 1678.3,729.2 1679.1,729.0 1679.9,729.2 1680.7,729.3 1681.6,729.1 1682.4,728.9 1683.2,729.0 1684.0,728.6 1684.9,728.7 1685.7,728.6 1686.5,728.3 1687.3,728.1 1688.2,727.7 1689.0,727.1 1689.8,726.4 1690.6,725.7 1691.5,724.6 1692.3,723.6 1693.1,721.8 1693.9,720.6 1694.8,718.8 1695.6,717.6 1696.4,717.2 1697.2,717.6 1698.1,718.6 1698.9,720.5 1699.7,722.0 1700.5,723.4 1701.4,724.7 1702.2,725.8 1703.0,726.6 1703.8,727.5 1704.7,727.6 1705.5,728.0 1706.3,728.3 1707.1,728.6 1708.0,728.7 1708.8,728.9 1709.6,729.0 1710.4,729.2 1711.3,729.2 1712.1,729.3 1712.9,729.0 1713.7,729.2 1714.6,729.1 1715.4,729.3 1716.2,729.1 1717.0,729.3 1717.9,729.3 1718.7,729.5 1719.5,729.2 1720.3,729.4 1721.1,729.4 1722.0,729.4 1722.8,729.3 1723.6,729.4 1724.4,729.7 1725.3,729.4 1726.1,729.5 1726.9,729.5 1727.7,729.4 1728.6,729.4 1729.4,729.6 1730.2,729.5 1731.0,729.1 1731.9,729.5 1732.7,729.4 1733.5,729.5 1734.3,729.3 1735.2,729.6 1736.0,729.2 1736.8,729.4 1737.6,729.2 1738.5,729.4 1739.3,729.2 1740.1,729.5 1740.9,729.3 1741.8,729.5 1742.6,729.3 1743.4,729.1 1744.2,729.3 1745.1,729.3 1745.9,729.6 1746.7,729.8 1747.5,729.4 1748.4,729.5 1749.2,729.6 1750.0,729.3 1750.8,729.4 1751.7,729.6 1752.5,729.5 1753.3,729.4 1754.1,729.3 1755.0,729.5 1755.8,729.6 1756.6,729.5 1757.4,729.6 1758.3,729.8 1759.1,729.6 1759.9,729.6 1760.7,729.4 1761.6,729.5 1762.4,729.5 1763.2,729.4 1764.0,729.3 1764.8,729.3 1765.7,729.5 1766.5,729.6 1767.3,729.6 1768.1,729.7 1769.0,729.7 1769.8,729.5 1770.6,729.5 1771.4,729.5 1772.3,729.4 1773.1,729.6 1773.9,729.4 1774.7,729.6 1775.6,729.3 1776.4,729.5 1777.2,729.7 1778.0,729.3 1778.9,729.5 1779.7,729.5 1780.5,729.5 1781.3,729.6 1782.2,729.6 1783.0,729.4 1783.8,729.4 1784.6,729.6 1785.5,729.6 1786.3,729.4 1787.1,729.8 1787.9,729.4 1788.8,729.4 1789.6,729.3 1790.4,729.4 1791.2,729.4 1792.1,729.7 1792.9,729.3 1793.7,729.5 1794.5,729.6 1795.4,729.3 1796.2,729.5 1797.0,729.7 1797.8,729.5 1798.7,729.5 1799.5,729.5 1800.3,729.5 1801.1,729.6 1802.0,729.4 1802.8,729.6 1803.6,729.6 1804.4,729.6 1805.2,729.5 1806.1,729.8 1806.9,729.6 1807.7,729.8 1808.5,729.6 1809.4,729.6 1810.2,729.5 1811.0,729.6 1811.8,729.8 1812.7,729.7 1813.5,729.7 1814.3,729.8 1815.1,729.8 1816.0,729.7 1816.8,730.1 1817.6,730.1 1818.4,729.8 1819.3,729.6 1820.1,729.6 1820.9,729.8 1821.7,729.6 1822.6,729.7 1823.4,729.4 1824.2,729.8 1825.0,729.9 1825.9,729.6 1826.7,729.7 1827.5,729.7 1828.3,729.4 1829.2,729.7 1830.0,729.6 1830.8,729.5 1831.6,729.5 1832.5,729.7 1833.3,729.7 1834.1,729.7 1834.9,729.7 1835.8,729.6 1836.6,729.8 1837.4,729.8 1838.2,730.0 1839.1,730.0 1839.9,729.7 1840.7,729.5 1841.5,729.7 1842.4,729.6 1843.2,729.8 1844.0,729.8 1844.8,729.6 1845.6,729.8 1846.5,729.9 1847.3,729.8 1848.1,729.8 1848.9,729.7 1849.8,729.7 1850.6,730.0 1851.4,729.9 1852.2,729.9 1853.1,729.9 1853.9,729.9 1854.7,729.7 1855.5,729.7 1856.4,729.7 1857.2,729.7 1858.0,729.7 1858.8,729.7 1859.7,729.7 1860.5,729.7 1861.3,730.1 1862.1,729.9 1863.0,730.1 1863.8,729.8 1864.6,730.0 1865.4,729.8 1866.3,730.0 1867.1,729.7 1867.9,730.0 1868.7,729.7 1869.6,729.8 1870.4,729.6 1871.2,729.7 1872.0,729.7 1872.9,729.5 1873.7,729.3 1874.5,729.5 1875.3,729.2 1876.2,728.8 1877.0,728.8 1877.8,728.5 1878.6,728.3 1879.5,728.0 1880.3,727.5 1881.1,726.9 1881.9,726.1 1882.8,725.3 1883.6,724.1 1884.4,722.9 1885.2,721.6 1886.0,720.1 1886.9,718.4 1887.7,717.0 1888.5,715.7 1889.3,715.0 1890.2,715.0 1891.0,715.1 1891.8,715.7 1892.6,716.9 1893.5,717.8 1894.3,719.1 1895.1,720.5 1895.9,721.5 1896.8,722.4 1897.6,723.5 1898.4,724.2 1899.2,725.0 1900.1,725.8 1900.9,726.5 1901.7,726.9 1902.5,727.3 1903.4,727.6 1904.2,728.0 1905.0,728.3 1905.8,728.5 1906.7,728.6 1907.5,728.8 1908.3,729.0 1909.1,729.2 1910.0,729.2 1910.8,729.3 1911.6,729.4 1912.4,729.5 1913.3,729.8 1914.1,729.8 1914.9,729.6 1915.7,729.7 1916.6,729.8 1917.4,729.8 1918.2,729.7 1919.0,730.1 1919.9,729.7 1920.7,729.9 1921.5,729.8 1922.3,729.7 1923.2,729.9 1924.0,729.8 1924.8,730.0 1925.6,730.1 1926.5,729.8 1927.3,729.9 1928.1,729.6 1928.9,729.9 1929.7,729.8 1930.6,730.2 1931.4,730.1 1932.2,730.1 1933.0,730.0 1933.9,730.0 1934.7,730.1 1935.5,729.9 1936.3,730.2 1937.2,730.1 1938.0,730.2 1938.8,730.0 1939.6,730.2 1940.5,730.2 1941.3,730.1 1942.1,730.2 1942.9,730.1 1943.8,730.1 1944.6,730.3 1945.4,730.4 1946.2,729.9 1947.1,730.2 1947.9,729.9 1948.7,730.1 1949.5,730.0 1950.4,730.1 1951.2,730.1 1952.0,730.2 1952.8,730.2 1953.7,730.1 1954.5,730.3 1955.3,730.2 1956.1,730.3 1957.0,730.4 1957.8,730.2 1958.6,730.1 1959.4,729.8 1960.3,729.9 1961.1,730.0 1961.9,730.1 1962.7,730.0 1963.6,730.0 1964.4,730.2 1965.2,730.2 1966.0,730.3 1966.9,730.3 1967.7,730.1 1968.5,730.0" fill="none" stroke="#008000" stroke-width="4.3" stroke-linejoin="round" stroke-linecap="butt"/>
<polyline points="319.5,1161.9 320.3,1161.2 321.1,1161.6 322.0,1161.8 322.8,1161.1 323.6,1161.1 324.4,1161.2 325.3,1161.7 326.1,1162.1 326.9,1161.4 327.7,1161.1 328.6,1161.6 329.4,1161.2 330.2,1161.7 331.0,1162.0 331.9,1162.8 332.7,1159.9 333.5,1161.5 334.3,1162.4 335.2,1163.4 336.0,1163.6 336.8,1162.6 337.6,1162.8 338.5,1161.3 339.3,1161.1 340.1,1161.8 340.9,1160.7 341.8,1163.0 342.6,1160.9 343.4,1160.8 344.2,1162.2 345.1,1160.3 345.9,1161.8 346.7,1161.8 347.5,1162.8 348.4,1164.2 349.2,1161.5 350.0,1160.2 350.8,1161.5 351.7,1162.0 352.5,1160.7 353.3,1161.8 354.1,1163.0 355.0,1161.8 355.8,1160.5 356.6,1160.7 357.4,1159.8 358.3,1160.9 359.1,1160.8 359.9,1162.4 360.7,1159.7 361.5,1159.4 362.4,1160.8 363.2,1161.2 364.0,1160.2 364.8,1161.1 365.7,1161.7 366.5,1162.2 367.3,1162.3 368.1,1162.5 369.0,1160.6 369.8,1162.2 370.6,1161.1 371.4,1160.3 372.3,1160.8 373.1,1161.3 373.9,1161.6 374.7,1162.1 375.6,1162.0 376.4,1160.8 377.2,1163.8 378.0,1161.9 378.9,1163.2 379.7,1161.1 380.5,1162.9 381.3,1161.4 382.2,1163.0 383.0,1162.5 383.8,1162.3 384.6,1161.3 385.5,1161.5 386.3,1162.4 387.1,1159.4 387.9,1161.0 388.8,1161.0 389.6,1161.5 390.4,1163.0 391.2,1162.8 392.1,1161.6 392.9,1162.7 393.7,1161.0 394.5,1160.9 395.4,1161.5 396.2,1161.5 397.0,1160.9 397.8,1160.3 398.7,1161.9 399.5,1163.1 400.3,1161.4 401.1,1161.5 401.9,1160.3 402.8,1161.2 403.6,1160.2 404.4,1161.3 405.2,1162.7 406.1,1162.0 406.9,1161.1 407.7,1162.5 408.5,1160.3 409.4,1162.7 410.2,1161.6 411.0,1160.4 411.8,1161.1 412.7,1160.4 413.5,1162.7 414.3,1161.1 415.1,1159.3 416.0,1159.6 416.8,1160.4 417.6,1159.9 418.4,1160.7 419.3,1160.8 420.1,1159.0 420.9,1160.5 421.7,1161.1 422.6,1159.4 423.4,1159.2 424.2,1158.2 425.0,1158.2 425.9,1158.8 426.7,1157.7 427.5,1157.0 428.3,1159.2 429.2,1158.4 430.0,1159.7 430.8,1159.9 431.6,1160.5 432.5,1160.7 433.3,1160.7 434.1,1160.2 434.9,1161.4 435.8,1160.4 436.6,1161.1 437.4,1160.1 438.2,1160.6 439.1,1159.9 439.9,1162.1 440.7,1161.1 441.5,1160.2 442.4,1158.9 443.2,1159.4 444.0,1161.4 444.8,1159.9 445.6,1161.5 446.5,1160.6 447.3,1160.2 448.1,1159.2 448.9,1160.5 449.8,1161.3 450.6,1161.4 451.4,1161.5 452.2,1160.4 453.1,1161.6 453.9,1160.5 454.7,1160.8 455.5,1161.4 456.4,1159.6 457.2,1160.9 458.0,1160.1 458.8,1162.1 459.7,1161.1 460.5,1161.7 461.3,1162.2 462.1,1161.5 463.0,1161.1 463.8,1158.9 464.6,1161.2 465.4,1158.9 466.3,1159.8 467.1,1158.1 467.9,1159.8 468.7,1159.4 469.6,1159.7 470.4,1158.7 471.2,1159.1 472.0,1158.2 472.9,1158.2 473.7,1159.1 474.5,1156.5 475.3,1158.3 476.2,1158.2 477.0,1156.8 477.8,1157.6 478.6,1159.1 479.5,1157.9 480.3,1156.8 481.1,1157.7 481.9,1157.7 482.8,1156.7 483.6,1157.6 484.4,1158.1 485.2,1158.0 486.0,1158.2 486.9,1158.1 487.7,1158.4 488.5,1158.4 489.3,1159.1 490.2,1159.6 491.0,1161.2 491.8,1160.8 492.6,1160.5 493.5,1161.3 494.3,1162.4 495.1,1159.8 495.9,1160.7 496.8,1159.1 497.6,1159.8 498.4,1160.5 499.2,1160.8 500.1,1161.7 500.9,1159.3 501.7,1159.8 502.5,1160.9 503.4,1160.9 504.2,1159.0 505.0,1159.8 505.8,1160.7 506.7,1160.8 507.5,1158.7 508.3,1159.6 509.1,1157.0 510.0,1159.8 510.8,1160.4 511.6,1157.6 512.4,1157.9 513.3,1155.2 514.1,1154.1 514.9,1152.8 515.7,1150.0 516.6,1146.5 517.4,1140.4 518.2,1134.9 519.0,1130.0 519.9,1120.5 520.7,1112.6 521.5,1108.8 522.3,1108.2 523.2,1113.6 524.0,1120.3 524.8,1128.3 525.6,1134.6 526.4,1143.5 527.3,1147.1 528.1,1150.5 528.9,1153.4 529.7,1154.3 530.6,1154.7 531.4,1157.2 532.2,1158.1 533.0,1158.6 533.9,1158.2 534.7,1157.6 535.5,1159.9 536.3,1159.9 537.2,1159.8 538.0,1159.9 538.8,1160.2 539.6,1159.8 540.5,1158.9 541.3,1160.0 542.1,1159.5 542.9,1160.4 543.8,1160.0 544.6,1160.7 545.4,1159.5 546.2,1160.7 547.1,1161.8 547.9,1159.6 548.7,1160.0 549.5,1160.2 550.4,1159.6 551.2,1159.3 552.0,1157.5 552.8,1158.5 553.7,1160.9 554.5,1160.6 555.3,1161.5 556.1,1163.3 557.0,1160.2 557.8,1162.3 558.6,1161.6 559.4,1159.0 560.3,1159.9 561.1,1160.8 561.9,1159.8 562.7,1159.8 563.6,1161.1 564.4,1160.3 565.2,1160.5 566.0,1159.9 566.8,1159.9 567.7,1159.6 568.5,1160.8 569.3,1158.8 570.1,1157.5 571.0,1158.6 571.8,1158.6 572.6,1161.5 573.4,1157.4 574.3,1159.2 575.1,1158.7 575.9,1159.9 576.7,1157.7 577.6,1157.7 578.4,1159.4 579.2,1159.7 580.0,1159.2 580.9,1159.4 581.7,1158.8 582.5,1160.1 583.3,1159.7 584.2,1159.1 585.0,1160.7 585.8,1158.5 586.6,1157.7 587.5,1159.1 588.3,1159.6 589.1,1159.9 589.9,1160.0 590.8,1160.6 591.6,1159.9 592.4,1159.8 593.2,1162.3 594.1,1161.3 594.9,1163.0 595.7,1161.9 596.5,1161.9 597.4,1162.2 598.2,1158.5 599.0,1160.6 599.8,1159.2 600.7,1159.9 601.5,1158.8 602.3,1159.1 603.1,1158.9 604.0,1157.4 604.8,1157.6 605.6,1158.7 606.4,1157.8 607.3,1157.8 608.1,1156.4 608.9,1156.5 609.7,1156.4 610.5,1155.4 611.4,1157.5 612.2,1157.8 613.0,1160.1 613.8,1160.6 614.7,1160.5 615.5,1159.2 616.3,1159.3 617.1,1160.9 618.0,1159.8 618.8,1160.6 619.6,1159.5 620.4,1160.9 621.3,1159.9 622.1,1159.5 622.9,1159.9 623.7,1158.7 624.6,1157.9 625.4,1160.2 626.2,1159.7 627.0,1159.0 627.9,1159.7 628.7,1160.9 629.5,1159.6 630.3,1158.0 631.2,1162.3 632.0,1158.7 632.8,1159.4 633.6,1157.4 634.5,1157.0 635.3,1159.1 636.1,1157.4 636.9,1159.4 637.8,1159.0 638.6,1159.4 639.4,1160.6 640.2,1160.6 641.1,1161.3 641.9,1158.8 642.7,1159.3 643.5,1160.6 644.4,1160.6 645.2,1159.1 646.0,1158.1 646.8,1159.0 647.7,1156.0 648.5,1157.3 649.3,1159.9 650.1,1158.1 650.9,1161.4 651.8,1160.0 652.6,1160.5 653.4,1162.5 654.2,1160.7 655.1,1159.3 655.9,1158.7 656.7,1158.8 657.5,1157.7 658.4,1159.9 659.2,1159.6 660.0,1158.7 660.8,1159.8 661.7,1158.2 662.5,1157.0 663.3,1157.5 664.1,1158.4 665.0,1158.9 665.8,1160.5 666.6,1158.4 667.4,1159.2 668.3,1159.3 669.1,1158.6 669.9,1158.4 670.7,1157.1 671.6,1157.8 672.4,1160.0 673.2,1157.8 674.0,1157.2 674.9,1155.8 675.7,1156.6 676.5,1157.3 677.3,1154.9 678.2,1154.4 679.0,1155.2 679.8,1155.6 680.6,1156.4 681.5,1159.8 682.3,1159.4 683.1,1157.5 683.9,1158.7 684.8,1159.4 685.6,1158.1 686.4,1159.2 687.2,1157.4 688.1,1159.0 688.9,1158.6 689.7,1159.5 690.5,1159.3 691.3,1159.0 692.2,1160.1 693.0,1160.3 693.8,1160.5 694.6,1158.7 695.5,1159.4 696.3,1159.6 697.1,1159.5 697.9,1159.4 698.8,1159.8 699.6,1160.7 700.4,1160.8 701.2,1160.0 702.1,1159.1 702.9,1155.6 703.7,1157.8 704.5,1158.7 705.4,1157.2 706.2,1159.1 707.0,1157.6 707.8,1158.7 708.7,1158.5 709.5,1159.0 710.3,1157.4 711.1,1158.2 712.0,1157.5 712.8,1157.1 713.6,1156.5 714.4,1158.7 715.3,1156.8 716.1,1158.7 716.9,1158.3 717.7,1159.0 718.6,1158.8 719.4,1158.8 720.2,1157.8 721.0,1161.4 721.9,1160.0 722.7,1159.8 723.5,1156.9 724.3,1158.4 725.2,1158.4 726.0,1159.3 726.8,1158.6 727.6,1159.6 728.5,1158.9 729.3,1159.5 730.1,1159.8 730.9,1158.2 731.7,1158.5 732.6,1158.3 733.4,1159.8 734.2,1158.7 735.0,1158.0 735.9,1157.0 736.7,1158.1 737.5,1158.1 738.3,1158.5 739.2,1158.4 740.0,1157.7 740.8,1160.1 741.6,1158.9 742.5,1159.4 743.3,1158.7 744.1,1160.8 744.9,1159.1 745.8,1159.2 746.6,1158.7 747.4,1158.2 748.2,1159.6 749.1,1158.2 749.9,1157.4 750.7,1158.1 751.5,1157.8 752.4,1158.1 753.2,1157.6 754.0,1158.4 754.8,1156.7 755.7,1157.4 756.5,1158.9 757.3,1159.1 758.1,1156.7 759.0,1158.5 759.8,1158.1 760.6,1158.9 761.4,1156.7 762.3,1157.9 763.1,1158.2 763.9,1156.4 764.7,1157.2 765.6,1158.7 766.4,1157.7 767.2,1158.8 768.0,1158.2 768.9,1156.9 769.7,1158.3 770.5,1158.8 771.3,1158.2 772.2,1160.0 773.0,1158.3 773.8,1159.5 774.6,1159.5 775.4,1158.8 776.3,1158.0 777.1,1157.3 777.9,1157.9 778.7,1158.8 779.6,1158.4 780.4,1158.3 781.2,1157.6 782.0,1157.2 782.9,1157.6 783.7,1158.6 784.5,1157.0 785.3,1158.7 786.2,1157.2 787.0,1160.6 787.8,1157.8 788.6,1158.1 789.5,1159.0 790.3,1158.3 791.1,1158.4 791.9,1159.1 792.8,1157.7 793.6,1160.3 794.4,1158.6 795.2,1158.9 796.1,1160.0 796.9,1157.0 797.7,1158.4 798.5,1158.8 799.4,1159.8 800.2,1158.1 801.0,1159.2 801.8,1157.4 802.7,1159.0 803.5,1158.9 804.3,1157.9 805.1,1157.9 806.0,1157.8 806.8,1157.7 807.6,1157.5 808.4,1159.4 809.3,1158.6 810.1,1158.8 810.9,1157.2 811.7,1158.7 812.6,1160.0 813.4,1159.0 814.2,1158.3 815.0,1158.3 815.8,1158.7 816.7,1157.8 817.5,1156.1 818.3,1157.5 819.1,1158.5 820.0,1156.9 820.8,1158.3 821.6,1158.6 822.4,1160.1 823.3,1159.6 824.1,1158.9 824.9,1157.0 825.7,1158.9 826.6,1157.2 827.4,1157.4 828.2,1159.1 829.0,1157.3 829.9,1158.1 830.7,1157.3 831.5,1157.8 832.3,1156.8 833.2,1157.0 834.0,1158.8 834.8,1157.9 835.6,1157.4 836.5,1156.9 837.3,1157.2 838.1,1156.6 838.9,1157.2 839.8,1156.6 840.6,1155.1 841.4,1155.0 842.2,1155.7 843.1,1157.8 843.9,1156.9 844.7,1155.6 845.5,1155.6 846.4,1156.3 847.2,1157.0 848.0,1157.6 848.8,1155.3 849.7,1153.8 850.5,1154.0 851.3,1153.6 852.1,1156.2 853.0,1155.0 853.8,1155.5 854.6,1155.3 855.4,1153.5 856.2,1155.1 857.1,1155.0 857.9,1154.0 858.7,1154.5 859.5,1154.1 860.4,1154.6 861.2,1155.1 862.0,1153.8 862.8,1154.3 863.7,1153.5 864.5,1153.5 865.3,1153.1 866.1,1152.9 867.0,1153.3 867.8,1153.8 868.6,1152.2 869.4,1151.6 870.3,1148.8 871.1,1145.1 871.9,1144.7 872.7,1140.0 873.6,1136.7 874.4,1131.5 875.2,1126.6 876.0,1121.9 876.9,1116.2 877.7,1119.3 878.5,1121.0 879.3,1125.5 880.2,1130.4 881.0,1134.6 881.8,1139.0 882.6,1140.4 883.5,1144.3 884.3,1146.5 885.1,1147.4 885.9,1146.1 886.8,1144.7 887.6,1144.8 888.4,1144.0 889.2,1142.5 890.1,1141.8 890.9,1139.1 891.7,1135.5 892.5,1135.6 893.4,1134.6 894.2,1136.3 895.0,1136.3 895.8,1140.1 896.6,1140.8 897.5,1143.3 898.3,1145.1 899.1,1148.6 899.9,1149.6 900.8,1151.2 901.6,1152.6 902.4,1151.8 903.2,1154.4 904.1,1154.2 904.9,1154.2 905.7,1154.7 906.5,1155.1 907.4,1155.5 908.2,1157.4 909.0,1157.6 909.8,1158.2 910.7,1157.8 911.5,1158.4 912.3,1159.6 913.1,1157.7 914.0,1155.5 914.8,1155.2 915.6,1158.1 916.4,1156.4 917.3,1158.1 918.1,1158.5 918.9,1158.7 919.7,1160.0 920.6,1158.1 921.4,1159.0 922.2,1158.3 923.0,1157.7 923.9,1157.7 924.7,1159.3 925.5,1159.1 926.3,1156.8 927.2,1158.5 928.0,1157.8 928.8,1159.0 929.6,1157.6 930.5,1158.7 931.3,1158.6 932.1,1157.7 932.9,1157.9 933.8,1158.0 934.6,1158.5 935.4,1159.9 936.2,1159.7 937.1,1159.5 937.9,1158.4 938.7,1158.8 939.5,1157.0 940.3,1158.4 941.2,1159.8 942.0,1159.5 942.8,1158.9 943.6,1159.7 944.5,1159.1 945.3,1158.8 946.1,1157.8 946.9,1158.9 947.8,1158.2 948.6,1157.4 949.4,1157.9 950.2,1158.2 951.1,1158.7 951.9,1158.8 952.7,1156.6 953.5,1159.4 954.4,1159.2 955.2,1158.7 956.0,1159.1 956.8,1159.2 957.7,1158.1 958.5,1157.8 959.3,1157.9 960.1,1158.9 961.0,1159.5 961.8,1158.5 962.6,1160.6 963.4,1160.5 964.3,1159.9 965.1,1161.1 965.9,1160.4 966.7,1159.2 967.6,1160.2 968.4,1160.8 969.2,1158.4 970.0,1157.2 970.9,1158.9 971.7,1156.4 972.5,1157.0 973.3,1158.3 974.2,1157.7 975.0,1159.6 975.8,1158.1 976.6,1158.6 977.5,1159.0 978.3,1158.3 979.1,1158.9 979.9,1156.7 980.7,1160.0 981.6,1158.1 982.4,1157.6 983.2,1157.2 984.0,1157.8 984.9,1156.7 985.7,1157.0 986.5,1156.2 987.3,1155.5 988.2,1156.4 989.0,1156.7 989.8,1158.0 990.6,1157.9 991.5,1157.4 992.3,1158.2 993.1,1157.4 993.9,1158.0 994.8,1157.6 995.6,1158.1 996.4,1156.7 997.2,1157.1 998.1,1157.1 998.9,1156.0 999.7,1156.9 1000.5,1156.6 1001.4,1157.1 1002.2,1154.8 1003.0,1153.9 1003.8,1153.1 1004.7,1154.0 1005.5,1152.9 1006.3,1152.3 1007.1,1153.5 1008.0,1154.8 1008.8,1156.5 1009.6,1156.6 1010.4,1155.6 1011.3,1157.4 1012.1,1155.4 1012.9,1156.4 1013.7,1156.7 1014.6,1155.2 1015.4,1157.1 1016.2,1157.3 1017.0,1159.4 1017.9,1156.7 1018.7,1157.7 1019.5,1156.9 1020.3,1157.2 1021.1,1156.4 1022.0,1158.3 1022.8,1158.6 1023.6,1158.6 1024.4,1156.2 1025.3,1156.2 1026.1,1158.0 1026.9,1159.2 1027.7,1158.7 1028.6,1157.6 1029.4,1157.1 1030.2,1159.2 1031.0,1159.0 1031.9,1157.2 1032.7,1157.6 1033.5,1157.3 1034.3,1158.9 1035.2,1157.4 1036.0,1157.6 1036.8,1155.7 1037.6,1157.0 1038.5,1156.9 1039.3,1157.6 1040.1,1158.3 1040.9,1157.8 1041.8,1156.8 1042.6,1158.7 1043.4,1156.7 1044.2,1156.7 1045.1,1155.6 1045.9,1157.3 1046.7,1156.8 1047.5,1156.0 1048.4,1155.8 1049.2,1156.3 1050.0,1155.6 1050.8,1154.5 1051.7,1155.4 1052.5,1155.9 1053.3,1155.4 1054.1,1155.8 1055.0,1155.2 1055.8,1156.3 1056.6,1155.7 1057.4,1154.9 1058.3,1156.5 1059.1,1155.8 1059.9,1155.1 1060.7,1154.4 1061.5,1154.2 1062.4,1152.3 1063.2,1153.0 1064.0,1153.2 1064.8,1152.2 1065.7,1152.7 1066.5,1152.4 1067.3,1151.5 1068.1,1152.4 1069.0,1152.4 1069.8,1152.2 1070.6,1152.8 1071.4,1151.6 1072.3,1151.3 1073.1,1151.8 1073.9,1152.7 1074.7,1152.9 1075.6,1151.0 1076.4,1151.8 1077.2,1151.5 1078.0,1152.4 1078.9,1149.9 1079.7,1151.8 1080.5,1150.4 1081.3,1149.0 1082.2,1151.9 1083.0,1150.2 1083.8,1150.9 1084.6,1148.8 1085.5,1146.9 1086.3,1143.7 1087.1,1140.1 1087.9,1138.6 1088.8,1136.0 1089.6,1136.9 1090.4,1140.2 1091.2,1144.2 1092.1,1145.4 1092.9,1146.7 1093.7,1149.9 1094.5,1152.3 1095.4,1154.1 1096.2,1154.4 1097.0,1156.5 1097.8,1156.5 1098.7,1156.5 1099.5,1156.2 1100.3,1158.8 1101.1,1156.3 1102.0,1155.9 1102.8,1154.9 1103.6,1155.9 1104.4,1154.0 1105.2,1156.5 1106.1,1155.0 1106.9,1157.3 1107.7,1155.7 1108.5,1155.6 1109.4,1155.8 1110.2,1156.2 1111.0,1155.3 1111.8,1154.6 1112.7,1155.4 1113.5,1156.2 1114.3,1154.2 1115.1,1156.6 1116.0,1155.0 1116.8,1152.3 1117.6,1154.5 1118.4,1153.8 1119.3,1153.2 1120.1,1152.8 1120.9,1152.2 1121.7,1153.0 1122.6,1152.2 1123.4,1152.3 1124.2,1151.3 1125.0,1151.9 1125.9,1149.8 1126.7,1149.9 1127.5,1148.7 1128.3,1148.7 1129.2,1149.6 1130.0,1149.6 1130.8,1149.0 1131.6,1148.8 1132.5,1148.2 1133.3,1148.8 1134.1,1148.3 1134.9,1148.5 1135.8,1147.7 1136.6,1147.5 1137.4,1148.3 1138.2,1147.6 1139.1,1148.7 1139.9,1149.2 1140.7,1149.9 1141.5,1148.6 1142.4,1148.6 1143.2,1149.2 1144.0,1148.6 1144.8,1149.6 1145.6,1149.9 1146.5,1150.1 1147.3,1149.8 1148.1,1150.7 1148.9,1151.1 1149.8,1151.2 1150.6,1151.1 1151.4,1152.2 1152.2,1153.9 1153.1,1153.2 1153.9,1153.2 1154.7,1155.0 1155.5,1152.7 1156.4,1154.1 1157.2,1152.7 1158.0,1150.9 1158.8,1151.7 1159.7,1151.1 1160.5,1150.3 1161.3,1148.9 1162.1,1147.9 1163.0,1144.5 1163.8,1141.4 1164.6,1134.5 1165.4,1127.5 1166.3,1119.4 1167.1,1107.2 1167.9,1091.8 1168.7,1072.9 1169.6,1046.6 1170.4,1014.9 1171.2,977.1 1172.0,934.0 1172.9,888.8 1173.7,847.9 1174.5,825.1 1175.3,826.4 1176.2,851.2 1177.0,891.7 1177.8,940.3 1178.6,984.1 1179.5,1023.3 1180.3,1054.6 1181.1,1080.9 1181.9,1100.0 1182.8,1113.2 1183.6,1125.2 1184.4,1133.1 1185.2,1138.9 1186.0,1142.6 1186.9,1146.6 1187.7,1147.8 1188.5,1149.8 1189.3,1151.3 1190.2,1152.9 1191.0,1153.8 1191.8,1150.9 1192.6,1152.0 1193.5,1150.7 1194.3,1151.0 1195.1,1148.3 1195.9,1149.8 1196.8,1146.4 1197.6,1146.7 1198.4,1142.9 1199.2,1143.4 1200.1,1143.5 1200.9,1142.3 1201.7,1139.6 1202.5,1138.8 1203.4,1138.0 1204.2,1139.8 1205.0,1138.4 1205.8,1142.0 1206.7,1142.1 1207.5,1144.3 1208.3,1144.2 1209.1,1146.6 1210.0,1148.9 1210.8,1149.0 1211.6,1150.2 1212.4,1152.6 1213.3,1153.0 1214.1,1154.4 1214.9,1154.4 1215.7,1156.7 1216.6,1157.9 1217.4,1157.5 1218.2,1157.1 1219.0,1158.4 1219.9,1158.6 1220.7,1157.6 1221.5,1156.1 1222.3,1154.9 1223.2,1157.8 1224.0,1156.9 1224.8,1156.4 1225.6,1156.2 1226.4,1154.9 1227.3,1157.7 1228.1,1156.6 1228.9,1156.9 1229.7,1156.5 1230.6,1156.8 1231.4,1157.6 1232.2,1156.2 1233.0,1157.0 1233.9,1157.7 1234.7,1157.8 1235.5,1156.9 1236.3,1156.8 1237.2,1155.6 1238.0,1155.8 1238.8,1156.6 1239.6,1156.5 1240.5,1156.5 1241.3,1156.9 1242.1,1155.6 1242.9,1155.7 1243.8,1157.4 1244.6,1156.6 1245.4,1155.8 1246.2,1156.7 1247.1,1159.8 1247.9,1156.4 1248.7,1157.7 1249.5,1157.7 1250.4,1157.0 1251.2,1156.6 1252.0,1157.7 1252.8,1155.8 1253.7,1154.6 1254.5,1157.7 1255.3,1155.8 1256.1,1157.3 1257.0,1157.0 1257.8,1156.5 1258.6,1158.3 1259.4,1155.8 1260.3,1157.0 1261.1,1157.3 1261.9,1155.7 1262.7,1156.4 1263.6,1158.1 1264.4,1159.3 1265.2,1158.0 1266.0,1155.3 1266.9,1158.2 1267.7,1155.6 1268.5,1156.1 1269.3,1156.8 1270.1,1156.9 1271.0,1156.6 1271.8,1156.8 1272.6,1159.4 1273.4,1155.9 1274.3,1157.5 1275.1,1158.0 1275.9,1157.5 1276.7,1155.3 1277.6,1158.0 1278.4,1158.2 1279.2,1156.5 1280.0,1157.0 1280.9,1159.1 1281.7,1157.8 1282.5,1156.5 1283.3,1157.7 1284.2,1156.4 1285.0,1156.1 1285.8,1155.1 1286.6,1157.1 1287.5,1155.9 1288.3,1155.7 1289.1,1156.2 1289.9,1157.4 1290.8,1156.7 1291.6,1157.7 1292.4,1156.9 1293.2,1158.1 1294.1,1158.7 1294.9,1157.3 1295.7,1157.4 1296.5,1155.9 1297.4,1156.8 1298.2,1158.6 1299.0,1157.4 1299.8,1155.1 1300.7,1155.5 1301.5,1155.8 1302.3,1156.3 1303.1,1156.2 1304.0,1155.9 1304.8,1156.3 1305.6,1156.0 1306.4,1155.8 1307.3,1156.9 1308.1,1154.4 1308.9,1156.0 1309.7,1156.5 1310.5,1156.9 1311.4,1156.5 1312.2,1156.8 1313.0,1156.5 1313.8,1155.4 1314.7,1155.4 1315.5,1155.8 1316.3,1155.4 1317.1,1155.9 1318.0,1157.0 1318.8,1156.3 1319.6,1157.4 1320.4,1157.5 1321.3,1158.2 1322.1,1155.5 1322.9,1155.9 1323.7,1157.4 1324.6,1155.9 1325.4,1156.8 1326.2,1156.1 1327.0,1158.1 1327.9,1155.9 1328.7,1156.8 1329.5,1156.5 1330.3,1158.3 1331.2,1157.1 1332.0,1155.2 1332.8,1158.3 1333.6,1155.5 1334.5,1157.2 1335.3,1158.0 1336.1,1156.6 1336.9,1156.4 1337.8,1155.5 1338.6,1154.8 1339.4,1158.2 1340.2,1156.5 1341.1,1157.0 1341.9,1154.6 1342.7,1156.1 1343.5,1155.7 1344.4,1157.8 1345.2,1158.8 1346.0,1156.6 1346.8,1156.4 1347.7,1158.2 1348.5,1155.8 1349.3,1157.4 1350.1,1156.4 1350.9,1157.7 1351.8,1156.8 1352.6,1155.8 1353.4,1157.4 1354.2,1155.8 1355.1,1157.5 1355.9,1158.8 1356.7,1158.3 1357.5,1155.9 1358.4,1155.6 1359.2,1154.2 1360.0,1155.0 1360.8,1153.8 1361.7,1153.4 1362.5,1155.7 1363.3,1153.9 1364.1,1153.6 1365.0,1152.9 1365.8,1153.4 1366.6,1153.5 1367.4,1153.3 1368.3,1154.1 1369.1,1154.6 1369.9,1153.6 1370.7,1153.5 1371.6,1155.9 1372.4,1153.4 1373.2,1155.0 1374.0,1154.9 1374.9,1156.2 1375.7,1154.4 1376.5,1154.1 1377.3,1157.1 1378.2,1155.2 1379.0,1154.0 1379.8,1155.1 1380.6,1156.7 1381.5,1158.4 1382.3,1158.0 1383.1,1157.6 1383.9,1156.4 1384.8,1156.6 1385.6,1157.1 1386.4,1155.7 1387.2,1157.1 1388.1,1158.9 1388.9,1157.2 1389.7,1157.0 1390.5,1156.6 1391.3,1156.5 1392.2,1155.7 1393.0,1156.9 1393.8,1156.8 1394.6,1157.4 1395.5,1156.6 1396.3,1158.0 1397.1,1158.7 1397.9,1157.0 1398.8,1156.6 1399.6,1156.5 1400.4,1155.8 1401.2,1156.0 1402.1,1157.4 1402.9,1156.7 1403.7,1156.2 1404.5,1156.3 1405.4,1156.2 1406.2,1158.0 1407.0,1156.4 1407.8,1157.1 1408.7,1156.9 1409.5,1155.0 1410.3,1156.2 1411.1,1156.7 1412.0,1154.5 1412.8,1155.5 1413.6,1156.8 1414.4,1156.6 1415.3,1157.0 1416.1,1157.4 1416.9,1156.2 1417.7,1156.2 1418.6,1156.2 1419.4,1154.2 1420.2,1156.0 1421.0,1156.4 1421.9,1157.8 1422.7,1156.8 1423.5,1157.9 1424.3,1158.2 1425.2,1156.4 1426.0,1155.9 1426.8,1158.2 1427.6,1156.2 1428.5,1157.6 1429.3,1156.6 1430.1,1157.2 1430.9,1154.9 1431.8,1158.4 1432.6,1153.9 1433.4,1155.1 1434.2,1156.5 1435.0,1157.4 1435.9,1157.2 1436.7,1157.6 1437.5,1156.0 1438.3,1157.2 1439.2,1158.0 1440.0,1154.9 1440.8,1154.9 1441.6,1155.9 1442.5,1156.9 1443.3,1156.5 1444.1,1155.1 1444.9,1155.7 1445.8,1156.0 1446.6,1154.9 1447.4,1158.1 1448.2,1155.6 1449.1,1155.2 1449.9,1153.9 1450.7,1155.2 1451.5,1155.1 1452.4,1156.3 1453.2,1156.1 1454.0,1155.4 1454.8,1155.6 1455.7,1156.2 1456.5,1152.9 1457.3,1152.1 1458.1,1152.0 1459.0,1149.3 1459.8,1148.6 1460.6,1145.1 1461.4,1144.0 1462.3,1140.3 1463.1,1134.3 1463.9,1127.6 1464.7,1121.5 1465.6,1112.2 1466.4,1100.2 1467.2,1090.5 1468.0,1077.1 1468.9,1069.1 1469.7,1063.6 1470.5,1063.0 1471.3,1069.1 1472.2,1077.1 1473.0,1089.6 1473.8,1101.4 1474.6,1110.3 1475.4,1119.1 1476.3,1129.1 1477.1,1133.8 1477.9,1139.3 1478.7,1142.5 1479.6,1142.4 1480.4,1146.6 1481.2,1149.7 1482.0,1151.8 1482.9,1153.0 1483.7,1153.2 1484.5,1154.1 1485.3,1153.5 1486.2,1155.7 1487.0,1153.8 1487.8,1154.4 1488.6,1155.9 1489.5,1154.7 1490.3,1155.4 1491.1,1154.3 1491.9,1154.9 1492.8,1155.1 1493.6,1153.2 1494.4,1153.3 1495.2,1153.9 1496.1,1156.1 1496.9,1156.2 1497.7,1156.6 1498.5,1157.2 1499.4,1154.9 1500.2,1153.9 1501.0,1153.5 1501.8,1152.7 1502.7,1152.6 1503.5,1150.7 1504.3,1150.1 1505.1,1148.3 1506.0,1146.6 1506.8,1149.3 1507.6,1147.9 1508.4,1148.0 1509.3,1149.6 1510.1,1152.6 1510.9,1151.4 1511.7,1152.5 1512.6,1152.9 1513.4,1153.8 1514.2,1152.6 1515.0,1155.7 1515.8,1154.7 1516.7,1154.1 1517.5,1156.2 1518.3,1155.2 1519.1,1157.1 1520.0,1155.9 1520.8,1156.2 1521.6,1156.6 1522.4,1156.8 1523.3,1155.7 1524.1,1155.7 1524.9,1156.3 1525.7,1154.4 1526.6,1153.5 1527.4,1156.1 1528.2,1156.5 1529.0,1157.3 1529.9,1156.0 1530.7,1156.8 1531.5,1156.8 1532.3,1155.8 1533.2,1155.3 1534.0,1155.1 1534.8,1155.8 1535.6,1154.7 1536.5,1156.1 1537.3,1156.8 1538.1,1155.7 1538.9,1157.2 1539.8,1155.6 1540.6,1156.3 1541.4,1156.3 1542.2,1154.3 1543.1,1155.7 1543.9,1156.9 1544.7,1157.3 1545.5,1157.5 1546.4,1155.9 1547.2,1156.5 1548.0,1154.7 1548.8,1156.6 1549.7,1155.9 1550.5,1156.7 1551.3,1154.8 1552.1,1157.3 1553.0,1156.3 1553.8,1155.1 1554.6,1157.1 1555.4,1158.3 1556.2,1156.7 1557.1,1156.4 1557.9,1154.5 1558.7,1155.4 1559.5,1156.2 1560.4,1155.5 1561.2,1155.0 1562.0,1154.8 1562.8,1157.5 1563.7,1155.8 1564.5,1155.3 1565.3,1157.3 1566.1,1157.2 1567.0,1156.8 1567.8,1156.2 1568.6,1155.5 1569.4,1154.5 1570.3,1156.3 1571.1,1154.2 1571.9,1154.7 1572.7,1156.0 1573.6,1156.5 1574.4,1156.2 1575.2,1155.5 1576.0,1155.1 1576.9,1155.9 1577.7,1155.7 1578.5,1155.8 1579.3,1156.8 1580.2,1155.5 1581.0,1155.9 1581.8,1154.5 1582.6,1154.6 1583.5,1155.3 1584.3,1155.9 1585.1,1154.6 1585.9,1154.7 1586.8,1156.9 1587.6,1155.2 1588.4,1154.2 1589.2,1153.0 1590.1,1154.0 1590.9,1155.6 1591.7,1156.1 1592.5,1154.0 1593.4,1155.2 1594.2,1155.8 1595.0,1155.8 1595.8,1155.3 1596.7,1154.9 1597.5,1155.0 1598.3,1153.7 1599.1,1154.2 1599.9,1154.3 1600.8,1153.2 1601.6,1154.2 1602.4,1153.5 1603.2,1151.7 1604.1,1151.2 1604.9,1151.9 1605.7,1152.0 1606.5,1152.2 1607.4,1152.1 1608.2,1151.6 1609.0,1153.5 1609.8,1153.1 1610.7,1151.7 1611.5,1152.0 1612.3,1152.4 1613.1,1153.2 1614.0,1152.9 1614.8,1153.4 1615.6,1150.5 1616.4,1151.3 1617.3,1151.1 1618.1,1150.4 1618.9,1151.5 1619.7,1151.3 1620.6,1150.7 1621.4,1149.4 1622.2,1149.3 1623.0,1145.5 1623.9,1143.4 1624.7,1138.0 1625.5,1133.5 1626.3,1125.8 1627.2,1118.5 1628.0,1114.6 1628.8,1110.7 1629.6,1113.4 1630.5,1116.3 1631.3,1122.1 1632.1,1128.7 1632.9,1133.8 1633.8,1139.5 1634.6,1142.5 1635.4,1146.3 1636.2,1147.7 1637.1,1151.1 1637.9,1151.2 1638.7,1151.8 1639.5,1153.1 1640.3,1152.8 1641.2,1152.6 1642.0,1154.9 1642.8,1156.3 1643.6,1155.3 1644.5,1156.8 1645.3,1156.9 1646.1,1156.5 1646.9,1154.4 1647.8,1158.2 1648.6,1156.9 1649.4,1155.9 1650.2,1155.2 1651.1,1154.9 1651.9,1154.4 1652.7,1155.6 1653.5,1156.9 1654.4,1155.1 1655.2,1156.3 1656.0,1157.4 1656.8,1157.9 1657.7,1157.3 1658.5,1156.5 1659.3,1158.5 1660.1,1157.0 1661.0,1156.5 1661.8,1156.4 1662.6,1154.8 1663.4,1154.4 1664.3,1154.5 1665.1,1156.9 1665.9,1155.8 1666.7,1154.0 1667.6,1154.1 1668.4,1155.0 1669.2,1154.2 1670.0,1155.5 1670.9,1156.0 1671.7,1156.3 1672.5,1156.8 1673.3,1157.2 1674.2,1155.6 1675.0,1155.5 1675.8,1156.8 1676.6,1155.7 1677.5,1155.4 1678.3,1155.8 1679.1,1155.2 1679.9,1155.1 1680.7,1156.7 1681.6,1155.8 1682.4,1156.3 1683.2,1157.0 1684.0,1157.5 1684.9,1155.1 1685.7,1157.4 1686.5,1156.7 1687.3,1155.0 1688.2,1156.7 1689.0,1155.8 1689.8,1157.7 1690.6,1156.8 1691.5,1157.3 1692.3,1155.4 1693.1,1156.2 1693.9,1155.6 1694.8,1156.3 1695.6,1155.3 1696.4,1156.4 1697.2,1158.1 1698.1,1155.8 1698.9,1156.8 1699.7,1155.5 1700.5,1156.8 1701.4,1155.2 1702.2,1157.6 1703.0,1156.1 1703.8,1155.8 1704.7,1155.8 1705.5,1155.7 1706.3,1156.5 1707.1,1155.9 1708.0,1156.2 1708.8,1155.9 1709.6,1154.8 1710.4,1155.2 1711.3,1156.5 1712.1,1157.0 1712.9,1156.6 1713.7,1156.6 1714.6,1155.0 1715.4,1153.5 1716.2,1156.1 1717.0,1154.3 1717.9,1152.9 1718.7,1153.1 1719.5,1153.2 1720.3,1151.3 1721.1,1149.4 1722.0,1148.5 1722.8,1148.1 1723.6,1147.3 1724.4,1144.6 1725.3,1148.1 1726.1,1148.9 1726.9,1150.9 1727.7,1148.8 1728.6,1151.2 1729.4,1151.1 1730.2,1152.0 1731.0,1151.7 1731.9,1153.0 1732.7,1153.0 1733.5,1155.3 1734.3,1158.3 1735.2,1156.1 1736.0,1156.0 1736.8,1159.2 1737.6,1155.6 1738.5,1155.1 1739.3,1156.0 1740.1,1154.6 1740.9,1155.6 1741.8,1154.6 1742.6,1156.5 1743.4,1155.1 1744.2,1155.0 1745.1,1155.2 1745.9,1156.6 1746.7,1155.2 1747.5,1155.3 1748.4,1155.9 1749.2,1156.5 1750.0,1153.3 1750.8,1156.4 1751.7,1156.4 1752.5,1156.3 1753.3,1155.7 1754.1,1154.3 1755.0,1155.7 1755.8,1155.9 1756.6,1156.4 1757.4,1156.6 1758.3,1156.7 1759.1,1155.2 1759.9,1157.2 1760.7,1157.4 1761.6,1157.1 1762.4,1157.0 1763.2,1156.5 1764.0,1154.9 1764.8,1156.0 1765.7,1155.1 1766.5,1156.7 1767.3,1155.4 1768.1,1157.0 1769.0,1154.3 1769.8,1155.5 1770.6,1155.2 1771.4,1154.3 1772.3,1154.2 1773.1,1154.4 1773.9,1156.2 1774.7,1155.1 1775.6,1155.0 1776.4,1155.2 1777.2,1156.9 1778.0,1155.5 1778.9,1157.7 1779.7,1157.9 1780.5,1156.4 1781.3,1155.6 1782.2,1157.0 1783.0,1155.1 1783.8,1156.5 1784.6,1156.2 1785.5,1155.8 1786.3,1155.2 1787.1,1156.1 1787.9,1155.7 1788.8,1155.9 1789.6,1155.6 1790.4,1157.4 1791.2,1154.4 1792.1,1154.6 1792.9,1156.2 1793.7,1155.6 1794.5,1154.0 1795.4,1155.6 1796.2,1155.0 1797.0,1152.4 1797.8,1156.6 1798.7,1155.0 1799.5,1154.9 1800.3,1154.9 1801.1,1153.9 1802.0,1154.5 1802.8,1156.1 1803.6,1154.7 1804.4,1155.6 1805.2,1153.8 1806.1,1155.7 1806.9,1155.0 1807.7,1155.3 1808.5,1155.0 1809.4,1155.1 1810.2,1155.2 1811.0,1156.7 1811.8,1156.9 1812.7,1155.4 1813.5,1155.8 1814.3,1154.6 1815.1,1154.5 1816.0,1155.0 1816.8,1156.6 1817.6,1153.1 1818.4,1154.8 1819.3,1155.9 1820.1,1156.0 1820.9,1155.4 1821.7,1154.4 1822.6,1155.3 1823.4,1155.4 1824.2,1155.5 1825.0,1154.7 1825.9,1154.2 1826.7,1155.1 1827.5,1155.5 1828.3,1154.5 1829.2,1154.5 1830.0,1153.2 1830.8,1156.0 1831.6,1155.3 1832.5,1153.7 1833.3,1156.3 1834.1,1157.0 1834.9,1153.0 1835.8,1156.3 1836.6,1154.4 1837.4,1155.0 1838.2,1153.3 1839.1,1155.1 1839.9,1155.1 1840.7,1155.7 1841.5,1154.4 1842.4,1154.7 1843.2,1154.2 1844.0,1157.3 1844.8,1156.1 1845.6,1155.0 1846.5,1155.1 1847.3,1154.2 1848.1,1154.7 1848.9,1155.5 1849.8,1153.7 1850.6,1153.6 1851.4,1154.1 1852.2,1154.6 1853.1,1156.7 1853.9,1155.6 1854.7,1155.3 1855.5,1156.1 1856.4,1155.6 1857.2,1155.1 1858.0,1154.8 1858.8,1155.1 1859.7,1153.2 1860.5,1156.3 1861.3,1156.1 1862.1,1156.2 1863.0,1156.0 1863.8,1155.2 1864.6,1155.5 1865.4,1154.4 1866.3,1156.6 1867.1,1156.7 1867.9,1156.2 1868.7,1155.5 1869.6,1155.9 1870.4,1153.7 1871.2,1154.8 1872.0,1158.0 1872.9,1155.6 1873.7,1155.4 1874.5,1156.2 1875.3,1155.1 1876.2,1154.1 1877.0,1155.6 1877.8,1153.2 1878.6,1155.0 1879.5,1154.6 1880.3,1154.7 1881.1,1155.1 1881.9,1154.4 1882.8,1156.1 1883.6,1154.4 1884.4,1156.1 1885.2,1153.9 1886.0,1153.9 1886.9,1153.8 1887.7,1152.6 1888.5,1153.0 1889.3,1157.0 1890.2,1155.3 1891.0,1154.5 1891.8,1156.1 1892.6,1154.9 1893.5,1155.2 1894.3,1153.8 1895.1,1153.8 1895.9,1155.1 1896.8,1152.7 1897.6,1151.6 1898.4,1153.9 1899.2,1153.4 1900.1,1153.2 1900.9,1152.7 1901.7,1153.8 1902.5,1151.6 1903.4,1151.8 1904.2,1152.3 1905.0,1151.3 1905.8,1151.5 1906.7,1150.2 1907.5,1150.6 1908.3,1151.9 1909.1,1150.6 1910.0,1152.0 1910.8,1151.6 1911.6,1149.3 1912.4,1149.2 1913.3,1150.3 1914.1,1150.3 1914.9,1150.3 1915.7,1150.6 1916.6,1148.9 1917.4,1151.3 1918.2,1149.0 1919.0,1148.1 1919.9,1147.8 1920.7,1149.8 1921.5,1151.1 1922.3,1150.0 1923.2,1150.2 1924.0,1150.0 1924.8,1149.1 1925.6,1149.9 1926.5,1148.2 1927.3,1149.7 1928.1,1151.9 1928.9,1149.1 1929.7,1151.9 1930.6,1149.2 1931.4,1148.2 1932.2,1149.9 1933.0,1149.9 1933.9,1151.0 1934.7,1150.9 1935.5,1149.3 1936.3,1151.0 1937.2,1152.2 1938.0,1151.5 1938.8,1153.5 1939.6,1153.5 1940.5,1151.2 1941.3,1151.8 1942.1,1151.4 1942.9,1153.4 1943.8,1153.6 1944.6,1151.2 1945.4,1152.3 1946.2,1154.4 1947.1,1152.5 1947.9,1154.1 1948.7,1154.4 1949.5,1153.4 1950.4,1155.7 1951.2,1154.7 1952.0,1153.2 1952.8,1154.6 1953.7,1153.6 1954.5,1155.1 1955.3,1155.9 1956.1,1155.1 1957.0,1153.5 1957.8,1153.1 1958.6,1155.3 1959.4,1155.1 1960.3,1155.4 1961.1,1154.7 1961.9,1153.0 1962.7,1153.4 1963.6,1154.7 1964.4,1156.2 1965.2,1154.4 1966.0,1156.9 1966.9,1152.8 1967.7,1153.3 1968.5,1154.2" fill="none" stroke="#ff00ff" stroke-width="4.7" stroke-linejoin="round" stroke-linecap="butt"/>
<polyline points="319.5,1431.1 320.3,1433.7 321.1,1431.9 322.0,1432.7 322.8,1431.0 323.6,1431.7 324.4,1431.1 325.3,1431.1 326.1,1431.7 326.9,1431.9 327.7,1433.0 328.6,1431.6 329.4,1432.0 330.2,1431.5 331.0,1431.9 331.9,1430.6 332.7,1432.4 333.5,1431.1 334.3,1431.5 335.2,1431.7 336.0,1433.1 336.8,1433.0 337.6,1432.9 338.5,1433.0 339.3,1433.2 340.1,1433.2 340.9,1432.7 341.8,1433.0 342.6,1433.0 343.4,1432.0 344.2,1430.3 345.1,1432.8 345.9,1433.1 346.7,1431.3 347.5,1431.5 348.4,1430.0 349.2,1432.1 350.0,1430.5 350.8,1432.7 351.7,1429.6 352.5,1432.0 353.3,1432.8 354.1,1432.3 355.0,1431.7 355.8,1432.3 356.6,1431.4 357.4,1431.1 358.3,1431.5 359.1,1431.1 359.9,1431.6 360.7,1432.7 361.5,1431.6 362.4,1432.0 363.2,1431.1 364.0,1432.3 364.8,1430.6 365.7,1432.6 366.5,1429.8 367.3,1431.9 368.1,1431.3 369.0,1433.5 369.8,1432.4 370.6,1430.6 371.4,1431.0 372.3,1432.3 373.1,1431.0 373.9,1431.4 374.7,1429.5 375.6,1429.3 376.4,1431.1 377.2,1432.7 378.0,1430.7 378.9,1432.0 379.7,1431.1 380.5,1433.1 381.3,1431.6 382.2,1431.4 383.0,1430.0 383.8,1431.0 384.6,1431.7 385.5,1432.9 386.3,1430.7 387.1,1432.3 387.9,1430.9 388.8,1430.7 389.6,1430.3 390.4,1429.8 391.2,1430.2 392.1,1432.6 392.9,1430.4 393.7,1431.0 394.5,1432.2 395.4,1429.5 396.2,1431.4 397.0,1430.4 397.8,1431.3 398.7,1432.2 399.5,1431.8 400.3,1432.2 401.1,1433.1 401.9,1433.2 402.8,1432.1 403.6,1432.6 404.4,1431.7 405.2,1433.9 406.1,1431.7 406.9,1432.6 407.7,1433.6 408.5,1432.5 409.4,1431.5 410.2,1431.0 411.0,1430.8 411.8,1431.8 412.7,1431.2 413.5,1430.8 414.3,1433.1 415.1,1430.5 416.0,1431.2 416.8,1431.9 417.6,1432.5 418.4,1432.8 419.3,1432.3 420.1,1433.0 420.9,1432.8 421.7,1432.1 422.6,1430.2 423.4,1432.6 424.2,1431.1 425.0,1431.2 425.9,1431.6 426.7,1430.7 427.5,1430.9 428.3,1431.5 429.2,1431.5 430.0,1432.4 430.8,1431.6 431.6,1432.3 432.5,1431.3 433.3,1431.7 434.1,1432.1 434.9,1431.7 435.8,1430.9 436.6,1432.1 437.4,1432.5 438.2,1433.5 439.1,1432.5 439.9,1432.1 440.7,1431.4 441.5,1433.9 442.4,1431.5 443.2,1431.3 444.0,1431.8 444.8,1430.2 445.6,1432.5 446.5,1431.7 447.3,1432.0 448.1,1431.0 448.9,1431.2 449.8,1432.2 450.6,1432.3 451.4,1434.0 452.2,1432.7 453.1,1430.4 453.9,1431.8 454.7,1431.3 455.5,1432.6 456.4,1431.8 457.2,1432.5 458.0,1432.0 458.8,1432.5 459.7,1433.0 460.5,1430.8 461.3,1429.1 462.1,1429.6 463.0,1431.4 463.8,1430.6 464.6,1430.4 465.4,1430.1 466.3,1432.0 467.1,1431.4 467.9,1431.1 468.7,1430.8 469.6,1431.2 470.4,1431.2 471.2,1432.0 472.0,1432.6 472.9,1430.0 473.7,1430.5 474.5,1431.6 475.3,1431.8 476.2,1430.6 477.0,1431.1 477.8,1431.1 478.6,1431.3 479.5,1431.5 480.3,1432.2 481.1,1433.5 481.9,1433.1 482.8,1432.8 483.6,1432.0 484.4,1430.8 485.2,1431.1 486.0,1432.1 486.9,1432.0 487.7,1432.8 488.5,1432.5 489.3,1432.4 490.2,1432.5 491.0,1430.7 491.8,1431.5 492.6,1430.9 493.5,1432.1 494.3,1430.9 495.1,1431.9 495.9,1431.5 496.8,1432.3 497.6,1432.4 498.4,1431.5 499.2,1431.6 500.1,1431.6 500.9,1432.0 501.7,1431.3 502.5,1431.6 503.4,1431.3 504.2,1431.0 505.0,1431.8 505.8,1431.9 506.7,1431.1 507.5,1433.1 508.3,1431.3 509.1,1432.7 510.0,1432.1 510.8,1430.2 511.6,1431.3 512.4,1429.8 513.3,1430.9 514.1,1431.3 514.9,1431.8 515.7,1430.3 516.6,1427.6 517.4,1427.4 518.2,1427.4 519.0,1424.3 519.9,1423.2 520.7,1418.2 521.5,1415.2 522.3,1411.1 523.2,1408.7 524.0,1408.1 524.8,1406.3 525.6,1409.8 526.4,1412.8 527.3,1416.7 528.1,1419.2 528.9,1422.1 529.7,1426.0 530.6,1425.0 531.4,1428.3 532.2,1430.2 533.0,1430.5 533.9,1432.4 534.7,1428.9 535.5,1431.2 536.3,1430.4 537.2,1430.9 538.0,1431.2 538.8,1431.8 539.6,1430.7 540.5,1432.0 541.3,1430.1 542.1,1432.2 542.9,1431.4 543.8,1430.3 544.6,1430.0 545.4,1429.7 546.2,1430.1 547.1,1430.7 547.9,1431.8 548.7,1431.5 549.5,1430.1 550.4,1429.6 551.2,1431.4 552.0,1430.8 552.8,1431.8 553.7,1431.4 554.5,1433.9 555.3,1430.3 556.1,1432.0 557.0,1433.3 557.8,1431.5 558.6,1431.2 559.4,1433.2 560.3,1430.0 561.1,1430.5 561.9,1431.0 562.7,1432.2 563.6,1432.4 564.4,1431.5 565.2,1433.3 566.0,1431.4 566.8,1431.6 567.7,1431.2 568.5,1432.3 569.3,1431.3 570.1,1431.0 571.0,1432.9 571.8,1432.7 572.6,1432.4 573.4,1430.6 574.3,1430.6 575.1,1431.1 575.9,1431.1 576.7,1431.0 577.6,1431.4 578.4,1432.2 579.2,1430.9 580.0,1432.0 580.9,1431.3 581.7,1431.1 582.5,1431.2 583.3,1432.0 584.2,1431.5 585.0,1430.6 585.8,1431.6 586.6,1431.7 587.5,1432.3 588.3,1432.2 589.1,1432.9 589.9,1432.1 590.8,1430.6 591.6,1430.2 592.4,1430.3 593.2,1432.0 594.1,1431.0 594.9,1431.2 595.7,1431.6 596.5,1432.7 597.4,1433.6 598.2,1431.8 599.0,1433.3 599.8,1431.9 600.7,1432.3 601.5,1430.9 602.3,1430.2 603.1,1431.7 604.0,1432.2 604.8,1429.8 605.6,1430.8 606.4,1430.8 607.3,1431.2 608.1,1429.8 608.9,1430.6 609.7,1432.2 610.5,1433.3 611.4,1432.2 612.2,1433.1 613.0,1432.6 613.8,1432.9 614.7,1432.3 615.5,1432.2 616.3,1431.7 617.1,1431.9 618.0,1432.4 618.8,1431.4 619.6,1431.5 620.4,1430.2 621.3,1431.1 622.1,1428.0 622.9,1429.4 623.7,1430.5 624.6,1429.5 625.4,1431.8 626.2,1431.8 627.0,1430.9 627.9,1431.9 628.7,1430.3 629.5,1430.6 630.3,1430.8 631.2,1429.6 632.0,1431.7 632.8,1430.2 633.6,1431.8 634.5,1431.1 635.3,1431.7 636.1,1431.0 636.9,1431.4 637.8,1431.3 638.6,1431.9 639.4,1432.8 640.2,1431.6 641.1,1432.3 641.9,1432.7 642.7,1433.1 643.5,1432.0 644.4,1431.3 645.2,1431.0 646.0,1431.2 646.8,1431.5 647.7,1430.8 648.5,1431.2 649.3,1432.1 650.1,1431.6 650.9,1431.2 651.8,1432.4 652.6,1432.5 653.4,1432.6 654.2,1432.8 655.1,1432.1 655.9,1432.7 656.7,1432.6 657.5,1432.4 658.4,1430.6 659.2,1431.8 660.0,1432.0 660.8,1432.0 661.7,1431.2 662.5,1431.3 663.3,1430.0 664.1,1430.4 665.0,1429.4 665.8,1431.9 666.6,1433.4 667.4,1433.6 668.3,1431.2 669.1,1432.7 669.9,1433.0 670.7,1431.6 671.6,1430.2 672.4,1432.9 673.2,1431.6 674.0,1431.7 674.9,1433.3 675.7,1432.2 676.5,1432.4 677.3,1432.9 678.2,1431.4 679.0,1430.6 679.8,1431.9 680.6,1431.2 681.5,1431.8 682.3,1431.5 683.1,1430.8 683.9,1431.6 684.8,1431.5 685.6,1431.8 686.4,1432.1 687.2,1432.4 688.1,1432.1 688.9,1430.6 689.7,1431.7 690.5,1429.6 691.3,1432.7 692.2,1430.5 693.0,1431.3 693.8,1432.8 694.6,1431.6 695.5,1430.7 696.3,1430.7 697.1,1432.3 697.9,1432.3 698.8,1432.6 699.6,1432.0 700.4,1431.2 701.2,1432.3 702.1,1433.4 702.9,1431.9 703.7,1435.7 704.5,1432.2 705.4,1433.3 706.2,1433.4 707.0,1432.3 707.8,1431.7 708.7,1432.0 709.5,1432.4 710.3,1429.1 711.1,1431.4 712.0,1430.6 712.8,1430.7 713.6,1431.7 714.4,1432.3 715.3,1433.1 716.1,1432.2 716.9,1433.5 717.7,1430.7 718.6,1431.4 719.4,1431.3 720.2,1432.5 721.0,1432.1 721.9,1433.0 722.7,1431.9 723.5,1433.6 724.3,1433.2 725.2,1432.2 726.0,1431.1 726.8,1431.4 727.6,1431.0 728.5,1433.1 729.3,1432.5 730.1,1430.7 730.9,1432.7 731.7,1430.4 732.6,1428.9 733.4,1431.6 734.2,1432.0 735.0,1431.2 735.9,1430.4 736.7,1432.1 737.5,1430.6 738.3,1431.0 739.2,1431.4 740.0,1431.2 740.8,1430.9 741.6,1430.7 742.5,1432.7 743.3,1430.8 744.1,1432.7 744.9,1432.4 745.8,1432.4 746.6,1431.5 747.4,1432.0 748.2,1432.5 749.1,1431.0 749.9,1431.8 750.7,1432.1 751.5,1430.8 752.4,1431.2 753.2,1433.4 754.0,1432.8 754.8,1431.3 755.7,1432.2 756.5,1431.6 757.3,1432.5 758.1,1432.4 759.0,1429.4 759.8,1431.1 760.6,1432.4 761.4,1432.5 762.3,1430.8 763.1,1430.4 763.9,1431.7 764.7,1431.1 765.6,1431.8 766.4,1431.0 767.2,1432.7 768.0,1432.5 768.9,1432.3 769.7,1430.9 770.5,1430.4 771.3,1430.7 772.2,1432.0 773.0,1429.9 773.8,1431.6 774.6,1432.2 775.4,1430.3 776.3,1430.7 777.1,1431.8 777.9,1431.9 778.7,1430.8 779.6,1431.2 780.4,1431.5 781.2,1431.3 782.0,1432.0 782.9,1431.7 783.7,1432.5 784.5,1430.1 785.3,1432.9 786.2,1433.1 787.0,1432.4 787.8,1433.0 788.6,1433.0 789.5,1432.0 790.3,1431.4 791.1,1431.6 791.9,1431.0 792.8,1430.7 793.6,1431.3 794.4,1431.7 795.2,1432.4 796.1,1432.8 796.9,1431.8 797.7,1432.3 798.5,1430.8 799.4,1430.1 800.2,1430.0 801.0,1429.8 801.8,1430.2 802.7,1431.4 803.5,1429.2 804.3,1430.9 805.1,1430.7 806.0,1431.6 806.8,1430.7 807.6,1431.8 808.4,1431.2 809.3,1432.4 810.1,1430.3 810.9,1432.2 811.7,1432.0 812.6,1429.6 813.4,1431.4 814.2,1429.7 815.0,1431.7 815.8,1431.2 816.7,1432.0 817.5,1431.9 818.3,1430.3 819.1,1432.2 820.0,1431.7 820.8,1429.7 821.6,1431.3 822.4,1431.5 823.3,1430.7 824.1,1430.5 824.9,1432.5 825.7,1431.2 826.6,1432.4 827.4,1433.5 828.2,1432.3 829.0,1431.1 829.9,1432.4 830.7,1430.2 831.5,1430.4 832.3,1433.4 833.2,1430.3 834.0,1431.3 834.8,1429.9 835.6,1430.5 836.5,1430.6 837.3,1428.0 838.1,1429.7 838.9,1430.8 839.8,1430.9 840.6,1430.5 841.4,1429.4 842.2,1430.4 843.1,1429.8 843.9,1429.8 844.7,1430.7 845.5,1432.8 846.4,1430.2 847.2,1431.8 848.0,1430.9 848.8,1429.4 849.7,1429.5 850.5,1429.8 851.3,1428.9 852.1,1428.8 853.0,1427.4 853.8,1427.0 854.6,1429.0 855.4,1428.5 856.2,1428.0 857.1,1429.0 857.9,1430.4 858.7,1428.4 859.5,1427.6 860.4,1429.5 861.2,1430.1 862.0,1429.3 862.8,1426.8 863.7,1425.8 864.5,1428.7 865.3,1427.8 866.1,1428.5 867.0,1428.1 867.8,1429.0 868.6,1427.0 869.4,1426.1 870.3,1425.7 871.1,1424.3 871.9,1424.9 872.7,1424.0 873.6,1421.3 874.4,1420.6 875.2,1418.6 876.0,1416.1 876.9,1415.2 877.7,1413.3 878.5,1410.6 879.3,1408.0 880.2,1407.6 881.0,1411.2 881.8,1412.7 882.6,1415.5 883.5,1417.3 884.3,1418.5 885.1,1423.4 885.9,1422.0 886.8,1422.9 887.6,1422.5 888.4,1424.6 889.2,1422.9 890.1,1422.5 890.9,1422.2 891.7,1421.5 892.5,1421.7 893.4,1417.9 894.2,1418.6 895.0,1416.5 895.8,1416.3 896.6,1416.4 897.5,1418.1 898.3,1418.1 899.1,1420.2 899.9,1422.7 900.8,1423.2 901.6,1424.6 902.4,1426.1 903.2,1426.6 904.1,1426.7 904.9,1427.3 905.7,1427.1 906.5,1429.0 907.4,1428.1 908.2,1428.3 909.0,1430.3 909.8,1429.3 910.7,1429.9 911.5,1430.8 912.3,1431.7 913.1,1430.9 914.0,1430.7 914.8,1430.5 915.6,1431.1 916.4,1430.4 917.3,1431.1 918.1,1432.1 918.9,1430.9 919.7,1430.8 920.6,1430.4 921.4,1430.5 922.2,1430.2 923.0,1430.4 923.9,1430.9 924.7,1431.8 925.5,1431.9 926.3,1431.1 927.2,1431.7 928.0,1430.4 928.8,1433.2 929.6,1433.6 930.5,1431.4 931.3,1431.8 932.1,1431.3 932.9,1431.6 933.8,1430.4 934.6,1429.7 935.4,1431.6 936.2,1430.2 937.1,1431.5 937.9,1430.6 938.7,1430.7 939.5,1432.2 940.3,1432.3 941.2,1430.5 942.0,1430.0 942.8,1430.3 943.6,1429.8 944.5,1429.0 945.3,1430.5 946.1,1428.8 946.9,1430.8 947.8,1430.0 948.6,1430.6 949.4,1429.3 950.2,1429.8 951.1,1430.8 951.9,1431.4 952.7,1430.9 953.5,1430.8 954.4,1429.9 955.2,1431.3 956.0,1431.1 956.8,1430.6 957.7,1431.8 958.5,1430.1 959.3,1432.1 960.1,1430.3 961.0,1430.3 961.8,1430.5 962.6,1429.3 963.4,1429.7 964.3,1429.8 965.1,1428.7 965.9,1429.7 966.7,1429.6 967.6,1430.9 968.4,1432.5 969.2,1431.6 970.0,1432.0 970.9,1432.4 971.7,1431.1 972.5,1431.9 973.3,1431.0 974.2,1430.5 975.0,1429.5 975.8,1430.2 976.6,1431.7 977.5,1432.0 978.3,1431.1 979.1,1431.7 979.9,1431.2 980.7,1430.6 981.6,1429.8 982.4,1432.3 983.2,1430.2 984.0,1431.3 984.9,1432.7 985.7,1431.5 986.5,1431.8 987.3,1432.2 988.2,1431.4 989.0,1431.6 989.8,1430.8 990.6,1431.6 991.5,1431.0 992.3,1429.6 993.1,1429.4 993.9,1430.0 994.8,1430.1 995.6,1430.1 996.4,1431.7 997.2,1430.7 998.1,1431.0 998.9,1431.5 999.7,1429.7 1000.5,1431.5 1001.4,1431.3 1002.2,1431.6 1003.0,1429.1 1003.8,1428.9 1004.7,1428.8 1005.5,1427.8 1006.3,1426.3 1007.1,1427.8 1008.0,1426.9 1008.8,1427.7 1009.6,1427.1 1010.4,1429.4 1011.3,1428.5 1012.1,1428.4 1012.9,1429.7 1013.7,1429.9 1014.6,1428.6 1015.4,1430.5 1016.2,1431.2 1017.0,1430.2 1017.9,1428.8 1018.7,1430.3 1019.5,1431.0 1020.3,1429.6 1021.1,1432.3 1022.0,1431.4 1022.8,1431.6 1023.6,1432.7 1024.4,1431.7 1025.3,1432.4 1026.1,1431.5 1026.9,1431.9 1027.7,1431.5 1028.6,1431.7 1029.4,1431.6 1030.2,1431.2 1031.0,1430.5 1031.9,1431.5 1032.7,1430.8 1033.5,1432.0 1034.3,1431.4 1035.2,1430.7 1036.0,1429.9 1036.8,1430.3 1037.6,1431.6 1038.5,1430.9 1039.3,1432.0 1040.1,1431.6 1040.9,1431.6 1041.8,1431.6 1042.6,1430.5 1043.4,1432.2 1044.2,1431.8 1045.1,1431.6 1045.9,1432.4 1046.7,1431.0 1047.5,1433.0 1048.4,1430.2 1049.2,1431.2 1050.0,1429.7 1050.8,1430.6 1051.7,1431.8 1052.5,1429.8 1053.3,1431.2 1054.1,1431.1 1055.0,1431.2 1055.8,1431.4 1056.6,1431.9 1057.4,1431.7 1058.3,1431.8 1059.1,1432.0 1059.9,1431.7 1060.7,1431.0 1061.5,1430.0 1062.4,1431.8 1063.2,1431.0 1064.0,1432.5 1064.8,1430.6 1065.7,1430.1 1066.5,1431.9 1067.3,1430.5 1068.1,1430.0 1069.0,1432.0 1069.8,1429.6 1070.6,1431.6 1071.4,1429.6 1072.3,1430.6 1073.1,1430.3 1073.9,1428.6 1074.7,1429.9 1075.6,1429.9 1076.4,1430.7 1077.2,1431.3 1078.0,1432.3 1078.9,1430.6 1079.7,1430.4 1080.5,1431.8 1081.3,1430.3 1082.2,1430.0 1083.0,1427.7 1083.8,1427.6 1084.6,1427.9 1085.5,1427.8 1086.3,1427.7 1087.1,1428.1 1087.9,1423.2 1088.8,1421.6 1089.6,1420.2 1090.4,1418.4 1091.2,1418.4 1092.1,1417.7 1092.9,1418.6 1093.7,1422.8 1094.5,1423.2 1095.4,1423.6 1096.2,1425.6 1097.0,1426.9 1097.8,1426.7 1098.7,1429.4 1099.5,1429.6 1100.3,1429.7 1101.1,1429.9 1102.0,1431.8 1102.8,1430.5 1103.6,1429.8 1104.4,1428.5 1105.2,1429.2 1106.1,1430.5 1106.9,1431.2 1107.7,1429.1 1108.5,1428.5 1109.4,1430.3 1110.2,1430.5 1111.0,1431.5 1111.8,1430.3 1112.7,1431.1 1113.5,1429.4 1114.3,1429.7 1115.1,1429.9 1116.0,1429.5 1116.8,1430.1 1117.6,1430.4 1118.4,1428.7 1119.3,1431.5 1120.1,1429.5 1120.9,1429.7 1121.7,1430.4 1122.6,1427.0 1123.4,1427.8 1124.2,1428.3 1125.0,1428.9 1125.9,1429.7 1126.7,1429.4 1127.5,1427.5 1128.3,1428.7 1129.2,1427.6 1130.0,1428.7 1130.8,1426.8 1131.6,1427.5 1132.5,1425.5 1133.3,1427.1 1134.1,1425.5 1134.9,1426.4 1135.8,1424.8 1136.6,1425.7 1137.4,1424.9 1138.2,1424.7 1139.1,1425.5 1139.9,1425.9 1140.7,1425.4 1141.5,1425.8 1142.4,1426.4 1143.2,1426.9 1144.0,1426.9 1144.8,1426.4 1145.6,1427.8 1146.5,1426.0 1147.3,1427.4 1148.1,1426.2 1148.9,1429.4 1149.8,1427.5 1150.6,1428.1 1151.4,1429.2 1152.2,1428.0 1153.1,1427.8 1153.9,1427.2 1154.7,1428.6 1155.5,1430.5 1156.4,1429.0 1157.2,1430.3 1158.0,1429.7 1158.8,1428.7 1159.7,1427.9 1160.5,1428.9 1161.3,1429.7 1162.1,1429.1 1163.0,1429.6 1163.8,1430.1 1164.6,1429.1 1165.4,1427.9 1166.3,1428.3 1167.1,1428.1 1167.9,1425.4 1168.7,1423.0 1169.6,1419.6 1170.4,1415.5 1171.2,1409.0 1172.0,1399.8 1172.9,1386.0 1173.7,1368.8 1174.5,1343.1 1175.3,1310.2 1176.2,1271.9 1177.0,1239.7 1177.8,1226.6 1178.6,1243.1 1179.5,1280.2 1180.3,1318.2 1181.1,1346.5 1181.9,1360.9 1182.8,1369.2 1183.6,1373.5 1184.4,1380.9 1185.2,1389.0 1186.0,1399.0 1186.9,1408.1 1187.7,1414.8 1188.5,1421.2 1189.3,1423.9 1190.2,1425.8 1191.0,1429.2 1191.8,1430.0 1192.6,1430.7 1193.5,1430.0 1194.3,1430.3 1195.1,1430.6 1195.9,1429.5 1196.8,1427.7 1197.6,1430.8 1198.4,1429.7 1199.2,1429.6 1200.1,1428.4 1200.9,1427.5 1201.7,1427.9 1202.5,1427.7 1203.4,1425.9 1204.2,1425.6 1205.0,1425.4 1205.8,1424.8 1206.7,1422.9 1207.5,1421.7 1208.3,1421.0 1209.1,1424.4 1210.0,1423.8 1210.8,1425.4 1211.6,1425.8 1212.4,1425.6 1213.3,1429.3 1214.1,1428.7 1214.9,1429.7 1215.7,1428.5 1216.6,1429.5 1217.4,1430.9 1218.2,1429.7 1219.0,1429.3 1219.9,1428.8 1220.7,1428.3 1221.5,1429.7 1222.3,1428.9 1223.2,1427.4 1224.0,1430.2 1224.8,1430.1 1225.6,1429.9 1226.4,1427.5 1227.3,1429.2 1228.1,1430.2 1228.9,1428.7 1229.7,1429.3 1230.6,1429.9 1231.4,1428.6 1232.2,1430.1 1233.0,1430.5 1233.9,1430.0 1234.7,1430.5 1235.5,1429.2 1236.3,1429.0 1237.2,1429.2 1238.0,1429.1 1238.8,1429.1 1239.6,1429.5 1240.5,1429.8 1241.3,1429.1 1242.1,1429.7 1242.9,1429.8 1243.8,1430.6 1244.6,1430.0 1245.4,1428.6 1246.2,1429.4 1247.1,1431.6 1247.9,1430.7 1248.7,1429.7 1249.5,1429.8 1250.4,1429.8 1251.2,1429.4 1252.0,1430.2 1252.8,1430.8 1253.7,1431.4 1254.5,1430.2 1255.3,1429.8 1256.1,1429.4 1257.0,1429.6 1257.8,1430.3 1258.6,1429.1 1259.4,1431.8 1260.3,1430.8 1261.1,1431.6 1261.9,1430.0 1262.7,1430.6 1263.6,1430.2 1264.4,1430.4 1265.2,1428.3 1266.0,1430.0 1266.9,1428.1 1267.7,1429.7 1268.5,1430.5 1269.3,1429.8 1270.1,1429.8 1271.0,1429.8 1271.8,1429.6 1272.6,1429.8 1273.4,1430.4 1274.3,1430.3 1275.1,1431.3 1275.9,1430.4 1276.7,1429.9 1277.6,1429.9 1278.4,1429.0 1279.2,1429.5 1280.0,1429.3 1280.9,1431.2 1281.7,1430.0 1282.5,1430.9 1283.3,1427.9 1284.2,1429.7 1285.0,1430.6 1285.8,1430.4 1286.6,1430.3 1287.5,1431.4 1288.3,1431.5 1289.1,1431.8 1289.9,1431.5 1290.8,1431.6 1291.6,1430.8 1292.4,1430.6 1293.2,1430.3 1294.1,1430.5 1294.9,1429.4 1295.7,1430.2 1296.5,1429.4 1297.4,1430.4 1298.2,1429.3 1299.0,1429.9 1299.8,1430.1 1300.7,1429.8 1301.5,1431.6 1302.3,1431.3 1303.1,1430.6 1304.0,1431.2 1304.8,1429.9 1305.6,1430.0 1306.4,1431.1 1307.3,1432.4 1308.1,1430.5 1308.9,1431.7 1309.7,1430.4 1310.5,1429.5 1311.4,1430.3 1312.2,1430.8 1313.0,1429.7 1313.8,1429.7 1314.7,1428.8 1315.5,1428.1 1316.3,1430.3 1317.1,1429.3 1318.0,1430.2 1318.8,1429.7 1319.6,1430.1 1320.4,1430.4 1321.3,1428.3 1322.1,1429.4 1322.9,1429.6 1323.7,1430.9 1324.6,1429.9 1325.4,1429.3 1326.2,1429.3 1327.0,1431.1 1327.9,1428.9 1328.7,1429.7 1329.5,1430.1 1330.3,1429.3 1331.2,1429.7 1332.0,1428.9 1332.8,1429.7 1333.6,1430.8 1334.5,1430.5 1335.3,1428.9 1336.1,1431.7 1336.9,1429.7 1337.8,1429.9 1338.6,1432.0 1339.4,1430.7 1340.2,1430.0 1341.1,1431.0 1341.9,1429.5 1342.7,1429.8 1343.5,1429.0 1344.4,1429.5 1345.2,1429.6 1346.0,1430.8 1346.8,1429.6 1347.7,1429.9 1348.5,1428.3 1349.3,1428.5 1350.1,1430.2 1350.9,1429.2 1351.8,1429.1 1352.6,1429.9 1353.4,1429.2 1354.2,1429.8 1355.1,1429.6 1355.9,1428.2 1356.7,1430.3 1357.5,1430.8 1358.4,1430.5 1359.2,1429.5 1360.0,1429.5 1360.8,1429.5 1361.7,1430.4 1362.5,1430.3 1363.3,1429.3 1364.1,1429.8 1365.0,1430.0 1365.8,1429.7 1366.6,1429.5 1367.4,1429.6 1368.3,1427.4 1369.1,1429.5 1369.9,1428.6 1370.7,1428.1 1371.6,1429.0 1372.4,1429.0 1373.2,1430.9 1374.0,1429.1 1374.9,1430.1 1375.7,1429.8 1376.5,1428.4 1377.3,1427.9 1378.2,1429.1 1379.0,1428.6 1379.8,1428.3 1380.6,1427.8 1381.5,1429.3 1382.3,1429.9 1383.1,1428.2 1383.9,1429.4 1384.8,1430.2 1385.6,1430.2 1386.4,1429.0 1387.2,1429.6 1388.1,1429.5 1388.9,1431.2 1389.7,1429.6 1390.5,1430.6 1391.3,1430.8 1392.2,1430.6 1393.0,1429.2 1393.8,1430.2 1394.6,1431.2 1395.5,1429.9 1396.3,1430.7 1397.1,1429.6 1397.9,1430.2 1398.8,1430.0 1399.6,1430.0 1400.4,1429.2 1401.2,1429.1 1402.1,1429.0 1402.9,1429.6 1403.7,1429.5 1404.5,1431.1 1405.4,1428.8 1406.2,1429.8 1407.0,1428.9 1407.8,1429.0 1408.7,1430.3 1409.5,1429.9 1410.3,1430.2 1411.1,1428.9 1412.0,1432.0 1412.8,1431.7 1413.6,1429.4 1414.4,1428.7 1415.3,1429.2 1416.1,1430.0 1416.9,1428.9 1417.7,1429.7 1418.6,1428.7 1419.4,1431.1 1420.2,1429.0 1421.0,1428.9 1421.9,1431.1 1422.7,1430.0 1423.5,1429.8 1424.3,1429.9 1425.2,1430.7 1426.0,1430.3 1426.8,1431.0 1427.6,1430.7 1428.5,1429.7 1429.3,1430.1 1430.1,1430.2 1430.9,1431.0 1431.8,1430.0 1432.6,1429.7 1433.4,1429.9 1434.2,1430.1 1435.0,1427.6 1435.9,1428.9 1436.7,1427.7 1437.5,1428.1 1438.3,1428.6 1439.2,1428.8 1440.0,1428.5 1440.8,1428.1 1441.6,1429.2 1442.5,1428.7 1443.3,1429.0 1444.1,1428.8 1444.9,1430.7 1445.8,1430.3 1446.6,1428.9 1447.4,1429.0 1448.2,1430.1 1449.1,1430.3 1449.9,1429.1 1450.7,1430.1 1451.5,1427.9 1452.4,1428.3 1453.2,1429.0 1454.0,1427.4 1454.8,1428.2 1455.7,1428.2 1456.5,1427.9 1457.3,1426.4 1458.1,1426.6 1459.0,1425.9 1459.8,1424.5 1460.6,1423.2 1461.4,1421.9 1462.3,1418.9 1463.1,1416.6 1463.9,1414.7 1464.7,1409.0 1465.6,1401.8 1466.4,1393.3 1467.2,1384.2 1468.0,1372.7 1468.9,1359.3 1469.7,1347.8 1470.5,1338.7 1471.3,1335.1 1472.2,1339.8 1473.0,1346.1 1473.8,1359.4 1474.6,1370.6 1475.4,1382.5 1476.3,1393.9 1477.1,1400.6 1477.9,1407.5 1478.7,1412.5 1479.6,1416.7 1480.4,1420.3 1481.2,1423.3 1482.0,1423.6 1482.9,1426.1 1483.7,1425.3 1484.5,1428.7 1485.3,1427.1 1486.2,1427.5 1487.0,1428.4 1487.8,1428.6 1488.6,1428.7 1489.5,1427.8 1490.3,1430.0 1491.1,1429.9 1491.9,1428.9 1492.8,1428.2 1493.6,1429.1 1494.4,1429.8 1495.2,1427.6 1496.1,1428.2 1496.9,1429.2 1497.7,1428.6 1498.5,1429.0 1499.4,1429.3 1500.2,1430.0 1501.0,1429.8 1501.8,1429.8 1502.7,1429.5 1503.5,1428.1 1504.3,1427.0 1505.1,1429.5 1506.0,1429.7 1506.8,1429.8 1507.6,1428.7 1508.4,1430.6 1509.3,1428.0 1510.1,1430.2 1510.9,1430.0 1511.7,1430.2 1512.6,1430.2 1513.4,1429.1 1514.2,1428.8 1515.0,1428.3 1515.8,1429.3 1516.7,1429.2 1517.5,1429.5 1518.3,1427.9 1519.1,1427.5 1520.0,1428.8 1520.8,1429.3 1521.6,1427.7 1522.4,1427.9 1523.3,1428.2 1524.1,1428.6 1524.9,1428.4 1525.7,1429.0 1526.6,1428.2 1527.4,1428.9 1528.2,1429.9 1529.0,1428.9 1529.9,1431.1 1530.7,1429.1 1531.5,1429.5 1532.3,1427.8 1533.2,1429.1 1534.0,1428.7 1534.8,1428.5 1535.6,1429.1 1536.5,1428.0 1537.3,1429.2 1538.1,1427.6 1538.9,1429.0 1539.8,1430.8 1540.6,1429.5 1541.4,1429.5 1542.2,1427.8 1543.1,1426.9 1543.9,1429.3 1544.7,1429.3 1545.5,1429.5 1546.4,1429.1 1547.2,1429.8 1548.0,1428.3 1548.8,1429.1 1549.7,1429.1 1550.5,1428.0 1551.3,1429.9 1552.1,1428.9 1553.0,1429.4 1553.8,1428.0 1554.6,1428.6 1555.4,1429.3 1556.2,1430.1 1557.1,1430.3 1557.9,1429.5 1558.7,1429.0 1559.5,1429.5 1560.4,1428.6 1561.2,1428.7 1562.0,1428.8 1562.8,1427.8 1563.7,1428.9 1564.5,1427.7 1565.3,1428.2 1566.1,1429.4 1567.0,1428.4 1567.8,1429.3 1568.6,1429.0 1569.4,1428.7 1570.3,1429.7 1571.1,1428.6 1571.9,1427.7 1572.7,1427.6 1573.6,1428.3 1574.4,1427.2 1575.2,1429.7 1576.0,1429.1 1576.9,1428.0 1577.7,1428.7 1578.5,1430.4 1579.3,1429.2 1580.2,1430.5 1581.0,1428.5 1581.8,1429.0 1582.6,1430.3 1583.5,1430.4 1584.3,1428.0 1585.1,1429.1 1585.9,1427.2 1586.8,1427.8 1587.6,1426.9 1588.4,1429.1 1589.2,1428.3 1590.1,1428.6 1590.9,1430.8 1591.7,1429.9 1592.5,1429.0 1593.4,1427.7 1594.2,1429.4 1595.0,1427.3 1595.8,1428.4 1596.7,1429.5 1597.5,1429.5 1598.3,1428.8 1599.1,1429.2 1599.9,1428.6 1600.8,1427.7 1601.6,1428.4 1602.4,1429.8 1603.2,1428.7 1604.1,1429.3 1604.9,1429.8 1605.7,1428.6 1606.5,1428.7 1607.4,1428.1 1608.2,1429.3 1609.0,1428.4 1609.8,1427.7 1610.7,1427.6 1611.5,1429.1 1612.3,1429.1 1613.1,1428.8 1614.0,1428.6 1614.8,1429.0 1615.6,1428.6 1616.4,1428.9 1617.3,1428.2 1618.1,1427.6 1618.9,1427.6 1619.7,1428.0 1620.6,1428.7 1621.4,1426.4 1622.2,1425.8 1623.0,1426.6 1623.9,1425.7 1624.7,1423.1 1625.5,1421.5 1626.3,1419.7 1627.2,1418.0 1628.0,1417.3 1628.8,1410.9 1629.6,1407.7 1630.5,1403.3 1631.3,1400.8 1632.1,1399.8 1632.9,1400.7 1633.8,1402.4 1634.6,1406.4 1635.4,1412.0 1636.2,1414.8 1637.1,1417.6 1637.9,1420.2 1638.7,1421.0 1639.5,1424.1 1640.3,1423.8 1641.2,1424.5 1642.0,1425.2 1642.8,1426.6 1643.6,1429.5 1644.5,1427.9 1645.3,1428.5 1646.1,1429.6 1646.9,1428.1 1647.8,1427.1 1648.6,1427.6 1649.4,1427.5 1650.2,1426.1 1651.1,1427.3 1651.9,1427.8 1652.7,1429.7 1653.5,1429.2 1654.4,1428.6 1655.2,1428.0 1656.0,1427.9 1656.8,1427.0 1657.7,1428.6 1658.5,1427.1 1659.3,1428.5 1660.1,1429.8 1661.0,1428.0 1661.8,1428.5 1662.6,1427.5 1663.4,1426.8 1664.3,1428.4 1665.1,1427.9 1665.9,1428.3 1666.7,1427.9 1667.6,1428.5 1668.4,1427.9 1669.2,1429.0 1670.0,1429.8 1670.9,1428.3 1671.7,1428.1 1672.5,1428.5 1673.3,1427.3 1674.2,1426.8 1675.0,1425.8 1675.8,1427.4 1676.6,1429.3 1677.5,1427.9 1678.3,1428.2 1679.1,1427.7 1679.9,1428.4 1680.7,1428.4 1681.6,1428.6 1682.4,1427.7 1683.2,1427.2 1684.0,1430.0 1684.9,1428.7 1685.7,1428.0 1686.5,1428.7 1687.3,1429.1 1688.2,1429.5 1689.0,1429.0 1689.8,1428.5 1690.6,1429.1 1691.5,1427.6 1692.3,1427.8 1693.1,1429.3 1693.9,1428.4 1694.8,1428.2 1695.6,1427.9 1696.4,1427.7 1697.2,1428.7 1698.1,1428.4 1698.9,1429.6 1699.7,1427.5 1700.5,1428.5 1701.4,1428.6 1702.2,1428.4 1703.0,1430.8 1703.8,1430.4 1704.7,1429.3 1705.5,1427.8 1706.3,1428.9 1707.1,1428.9 1708.0,1427.9 1708.8,1426.9 1709.6,1429.3 1710.4,1426.7 1711.3,1428.5 1712.1,1427.3 1712.9,1427.6 1713.7,1428.7 1714.6,1427.0 1715.4,1427.6 1716.2,1427.8 1717.0,1428.6 1717.9,1428.4 1718.7,1427.0 1719.5,1425.3 1720.3,1426.6 1721.1,1424.6 1722.0,1424.9 1722.8,1422.8 1723.6,1423.5 1724.4,1423.5 1725.3,1421.9 1726.1,1422.0 1726.9,1422.1 1727.7,1422.3 1728.6,1421.1 1729.4,1420.9 1730.2,1421.0 1731.0,1423.4 1731.9,1423.2 1732.7,1425.6 1733.5,1424.5 1734.3,1427.8 1735.2,1427.5 1736.0,1426.6 1736.8,1428.2 1737.6,1428.5 1738.5,1428.6 1739.3,1428.3 1740.1,1429.0 1740.9,1429.1 1741.8,1427.9 1742.6,1427.8 1743.4,1426.3 1744.2,1427.6 1745.1,1426.2 1745.9,1427.4 1746.7,1427.0 1747.5,1429.0 1748.4,1428.4 1749.2,1427.4 1750.0,1428.3 1750.8,1427.8 1751.7,1428.8 1752.5,1428.5 1753.3,1428.6 1754.1,1428.6 1755.0,1427.0 1755.8,1428.3 1756.6,1428.2 1757.4,1426.5 1758.3,1427.7 1759.1,1428.2 1759.9,1428.4 1760.7,1429.0 1761.6,1429.1 1762.4,1428.3 1763.2,1430.5 1764.0,1428.8 1764.8,1428.4 1765.7,1430.1 1766.5,1428.4 1767.3,1429.6 1768.1,1428.2 1769.0,1429.6 1769.8,1429.6 1770.6,1428.0 1771.4,1428.5 1772.3,1428.4 1773.1,1427.7 1773.9,1428.1 1774.7,1427.7 1775.6,1427.4 1776.4,1427.2 1777.2,1428.2 1778.0,1428.7 1778.9,1429.2 1779.7,1429.1 1780.5,1429.5 1781.3,1428.4 1782.2,1429.8 1783.0,1427.5 1783.8,1428.4 1784.6,1427.8 1785.5,1427.8 1786.3,1429.8 1787.1,1428.8 1787.9,1427.4 1788.8,1428.4 1789.6,1427.7 1790.4,1429.5 1791.2,1427.4 1792.1,1428.1 1792.9,1427.8 1793.7,1427.9 1794.5,1429.0 1795.4,1429.4 1796.2,1429.2 1797.0,1427.8 1797.8,1427.3 1798.7,1428.2 1799.5,1427.8 1800.3,1429.7 1801.1,1427.5 1802.0,1429.0 1802.8,1427.6 1803.6,1427.7 1804.4,1427.2 1805.2,1427.4 1806.1,1429.0 1806.9,1428.1 1807.7,1428.0 1808.5,1428.1 1809.4,1428.2 1810.2,1428.5 1811.0,1429.2 1811.8,1428.2 1812.7,1428.0 1813.5,1427.8 1814.3,1428.6 1815.1,1427.4 1816.0,1428.5 1816.8,1427.4 1817.6,1427.4 1818.4,1428.6 1819.3,1427.8 1820.1,1427.2 1820.9,1426.4 1821.7,1427.3 1822.6,1429.1 1823.4,1428.3 1824.2,1428.7 1825.0,1428.5 1825.9,1429.6 1826.7,1428.5 1827.5,1431.2 1828.3,1429.2 1829.2,1428.9 1830.0,1429.6 1830.8,1427.5 1831.6,1427.7 1832.5,1427.7 1833.3,1428.1 1834.1,1429.7 1834.9,1427.7 1835.8,1430.4 1836.6,1429.3 1837.4,1429.7 1838.2,1428.6 1839.1,1427.2 1839.9,1427.3 1840.7,1429.3 1841.5,1427.9 1842.4,1428.2 1843.2,1428.0 1844.0,1428.7 1844.8,1428.4 1845.6,1427.6 1846.5,1427.3 1847.3,1428.0 1848.1,1426.3 1848.9,1427.0 1849.8,1426.9 1850.6,1427.7 1851.4,1427.7 1852.2,1429.7 1853.1,1428.9 1853.9,1430.1 1854.7,1428.1 1855.5,1428.1 1856.4,1427.0 1857.2,1428.0 1858.0,1428.0 1858.8,1427.6 1859.7,1428.4 1860.5,1427.4 1861.3,1427.5 1862.1,1426.9 1863.0,1428.2 1863.8,1426.6 1864.6,1426.3 1865.4,1428.1 1866.3,1427.4 1867.1,1426.8 1867.9,1427.3 1868.7,1427.7 1869.6,1427.2 1870.4,1427.8 1871.2,1426.8 1872.0,1426.5 1872.9,1427.9 1873.7,1428.7 1874.5,1428.5 1875.3,1427.5 1876.2,1428.5 1877.0,1428.0 1877.8,1429.5 1878.6,1428.2 1879.5,1428.2 1880.3,1429.2 1881.1,1428.6 1881.9,1427.7 1882.8,1426.8 1883.6,1427.6 1884.4,1427.1 1885.2,1429.5 1886.0,1428.1 1886.9,1428.4 1887.7,1427.7 1888.5,1427.0 1889.3,1427.8 1890.2,1428.0 1891.0,1427.7 1891.8,1427.7 1892.6,1428.0 1893.5,1427.2 1894.3,1428.2 1895.1,1427.8 1895.9,1427.5 1896.8,1427.8 1897.6,1425.6 1898.4,1426.3 1899.2,1427.3 1900.1,1428.5 1900.9,1427.6 1901.7,1426.1 1902.5,1427.4 1903.4,1426.2 1904.2,1425.5 1905.0,1425.8 1905.8,1427.0 1906.7,1426.3 1907.5,1424.9 1908.3,1424.6 1909.1,1425.8 1910.0,1424.0 1910.8,1424.2 1911.6,1424.6 1912.4,1422.8 1913.3,1422.9 1914.1,1423.6 1914.9,1423.4 1915.7,1424.9 1916.6,1423.9 1917.4,1424.5 1918.2,1424.4 1919.0,1423.2 1919.9,1424.1 1920.7,1424.3 1921.5,1423.2 1922.3,1423.0 1923.2,1423.4 1924.0,1424.9 1924.8,1423.6 1925.6,1423.1 1926.5,1422.2 1927.3,1422.9 1928.1,1422.0 1928.9,1423.9 1929.7,1422.8 1930.6,1422.7 1931.4,1424.3 1932.2,1423.7 1933.0,1423.8 1933.9,1422.7 1934.7,1424.1 1935.5,1423.9 1936.3,1423.9 1937.2,1424.6 1938.0,1424.9 1938.8,1424.1 1939.6,1425.5 1940.5,1424.8 1941.3,1424.7 1942.1,1425.6 1942.9,1425.4 1943.8,1426.4 1944.6,1425.3 1945.4,1424.9 1946.2,1425.2 1947.1,1426.0 1947.9,1424.3 1948.7,1424.5 1949.5,1425.8 1950.4,1426.7 1951.2,1427.1 1952.0,1426.6 1952.8,1425.5 1953.7,1424.9 1954.5,1426.5 1955.3,1426.4 1956.1,1427.1 1957.0,1427.9 1957.8,1426.4 1958.6,1428.0 1959.4,1426.7 1960.3,1426.9 1961.1,1427.5 1961.9,1426.2 1962.7,1429.6 1963.6,1427.6 1964.4,1428.5 1965.2,1426.9 1966.0,1426.2 1966.9,1426.7 1967.7,1426.5 1968.5,1425.8" fill="none" stroke="#0000ff" stroke-width="4.7" stroke-linejoin="round" stroke-linecap="butt"/>
<polyline points="319.5,1782.7 320.3,1781.7 321.1,1780.8 322.0,1782.8 322.8,1781.7 323.6,1781.0 324.4,1781.3 325.3,1781.1 326.1,1782.4 326.9,1781.2 327.7,1781.0 328.6,1781.4 329.4,1780.9 330.2,1783.0 331.0,1781.2 331.9,1781.9 332.7,1780.8 333.5,1781.1 334.3,1780.1 335.2,1782.0 336.0,1783.8 336.8,1783.5 337.6,1782.4 338.5,1783.1 339.3,1781.2 340.1,1780.7 340.9,1782.4 341.8,1781.0 342.6,1783.3 343.4,1782.9 344.2,1781.0 345.1,1781.9 345.9,1782.2 346.7,1783.0 347.5,1782.1 348.4,1782.0 349.2,1780.5 350.0,1782.8 350.8,1782.1 351.7,1781.5 352.5,1780.3 353.3,1781.7 354.1,1784.0 355.0,1782.0 355.8,1782.7 356.6,1780.3 357.4,1782.2 358.3,1782.4 359.1,1783.5 359.9,1781.7 360.7,1782.9 361.5,1782.9 362.4,1782.0 363.2,1781.7 364.0,1782.2 364.8,1780.7 365.7,1780.0 366.5,1779.8 367.3,1781.3 368.1,1781.2 369.0,1781.6 369.8,1781.0 370.6,1781.1 371.4,1782.3 372.3,1780.1 373.1,1779.8 373.9,1779.8 374.7,1780.6 375.6,1782.5 376.4,1782.2 377.2,1782.4 378.0,1782.3 378.9,1781.1 379.7,1781.2 380.5,1781.4 381.3,1781.2 382.2,1781.7 383.0,1782.1 383.8,1780.7 384.6,1781.4 385.5,1781.4 386.3,1780.5 387.1,1781.4 387.9,1781.8 388.8,1779.8 389.6,1781.6 390.4,1781.8 391.2,1781.8 392.1,1780.4 392.9,1782.4 393.7,1781.5 394.5,1781.0 395.4,1780.5 396.2,1782.0 397.0,1781.5 397.8,1780.6 398.7,1783.1 399.5,1780.6 400.3,1781.9 401.1,1780.3 401.9,1780.5 402.8,1781.3 403.6,1780.7 404.4,1781.5 405.2,1781.1 406.1,1782.3 406.9,1781.6 407.7,1781.3 408.5,1780.3 409.4,1780.5 410.2,1781.0 411.0,1782.4 411.8,1782.5 412.7,1781.6 413.5,1782.6 414.3,1781.9 415.1,1782.2 416.0,1782.3 416.8,1782.2 417.6,1782.6 418.4,1784.4 419.3,1781.3 420.1,1782.1 420.9,1781.8 421.7,1781.0 422.6,1781.6 423.4,1780.6 424.2,1781.2 425.0,1782.3 425.9,1782.5 426.7,1781.4 427.5,1781.1 428.3,1780.1 429.2,1782.0 430.0,1781.1 430.8,1781.2 431.6,1782.4 432.5,1782.1 433.3,1780.9 434.1,1782.8 434.9,1780.4 435.8,1780.4 436.6,1782.4 437.4,1781.3 438.2,1780.1 439.1,1782.2 439.9,1782.1 440.7,1781.0 441.5,1780.9 442.4,1781.0 443.2,1781.4 444.0,1780.8 444.8,1780.3 445.6,1781.2 446.5,1780.9 447.3,1779.7 448.1,1780.3 448.9,1779.7 449.8,1780.4 450.6,1781.1 451.4,1780.4 452.2,1782.1 453.1,1780.0 453.9,1779.9 454.7,1779.2 455.5,1781.0 456.4,1781.0 457.2,1779.7 458.0,1780.8 458.8,1781.6 459.7,1780.3 460.5,1780.8 461.3,1780.4 462.1,1782.2 463.0,1779.6 463.8,1780.7 464.6,1779.8 465.4,1780.2 466.3,1782.4 467.1,1781.6 467.9,1781.4 468.7,1780.8 469.6,1780.9 470.4,1782.5 471.2,1780.0 472.0,1782.1 472.9,1782.1 473.7,1780.4 474.5,1781.3 475.3,1780.3 476.2,1780.6 477.0,1781.2 477.8,1780.6 478.6,1781.4 479.5,1781.0 480.3,1778.7 481.1,1781.4 481.9,1780.0 482.8,1778.8 483.6,1780.9 484.4,1780.8 485.2,1782.8 486.0,1781.9 486.9,1781.7 487.7,1781.1 488.5,1781.9 489.3,1780.7 490.2,1782.0 491.0,1780.5 491.8,1780.6 492.6,1780.8 493.5,1779.9 494.3,1782.9 495.1,1780.7 495.9,1780.2 496.8,1780.0 497.6,1780.4 498.4,1781.1 499.2,1781.9 500.1,1779.9 500.9,1780.4 501.7,1781.8 502.5,1780.1 503.4,1779.7 504.2,1779.3 505.0,1779.6 505.8,1780.0 506.7,1781.4 507.5,1781.8 508.3,1780.3 509.1,1780.1 510.0,1780.8 510.8,1779.6 511.6,1780.5 512.4,1780.2 513.3,1778.3 514.1,1776.6 514.9,1776.5 515.7,1776.6 516.6,1774.4 517.4,1773.8 518.2,1770.6 519.0,1766.5 519.9,1761.4 520.7,1754.5 521.5,1747.8 522.3,1736.1 523.2,1726.8 524.0,1717.0 524.8,1707.4 525.6,1702.9 526.4,1706.0 527.3,1715.4 528.1,1725.9 528.9,1738.3 529.7,1746.3 530.6,1754.5 531.4,1760.3 532.2,1766.8 533.0,1768.6 533.9,1773.1 534.7,1774.5 535.5,1774.2 536.3,1776.8 537.2,1777.2 538.0,1778.0 538.8,1778.2 539.6,1778.3 540.5,1778.7 541.3,1778.7 542.1,1780.2 542.9,1779.4 543.8,1782.0 544.6,1780.3 545.4,1780.6 546.2,1779.0 547.1,1780.6 547.9,1778.9 548.7,1780.1 549.5,1779.6 550.4,1780.0 551.2,1778.5 552.0,1778.8 552.8,1780.4 553.7,1780.0 554.5,1779.3 555.3,1780.3 556.1,1779.9 557.0,1779.4 557.8,1781.6 558.6,1778.2 559.4,1780.1 560.3,1781.3 561.1,1781.2 561.9,1782.7 562.7,1781.5 563.6,1781.4 564.4,1780.2 565.2,1781.7 566.0,1779.7 566.8,1779.7 567.7,1779.7 568.5,1780.5 569.3,1779.8 570.1,1780.6 571.0,1780.2 571.8,1779.3 572.6,1779.9 573.4,1781.8 574.3,1779.8 575.1,1780.2 575.9,1782.1 576.7,1779.3 577.6,1780.4 578.4,1780.8 579.2,1779.1 580.0,1781.1 580.9,1780.6 581.7,1779.0 582.5,1780.0 583.3,1778.9 584.2,1781.8 585.0,1781.0 585.8,1779.3 586.6,1778.7 587.5,1779.7 588.3,1778.5 589.1,1779.2 589.9,1778.5 590.8,1779.2 591.6,1779.8 592.4,1779.6 593.2,1779.8 594.1,1778.8 594.9,1779.9 595.7,1779.2 596.5,1779.4 597.4,1780.5 598.2,1779.5 599.0,1779.2 599.8,1780.9 600.7,1779.8 601.5,1781.0 602.3,1780.9 603.1,1779.3 604.0,1779.6 604.8,1779.9 605.6,1780.8 606.4,1781.2 607.3,1780.6 608.1,1782.4 608.9,1780.9 609.7,1778.7 610.5,1780.1 611.4,1778.4 612.2,1778.5 613.0,1778.9 613.8,1779.2 614.7,1779.9 615.5,1780.4 616.3,1780.9 617.1,1779.3 618.0,1779.5 618.8,1780.3 619.6,1778.3 620.4,1780.0 621.3,1779.8 622.1,1778.9 622.9,1780.2 623.7,1779.4 624.6,1779.5 625.4,1780.3 626.2,1779.1 627.0,1778.3 627.9,1779.0 628.7,1778.2 629.5,1779.6 630.3,1778.5 631.2,1778.4 632.0,1778.7 632.8,1780.5 633.6,1780.0 634.5,1780.5 635.3,1779.9 636.1,1778.9 636.9,1778.7 637.8,1780.3 638.6,1779.1 639.4,1779.9 640.2,1778.5 641.1,1779.3 641.9,1779.1 642.7,1778.9 643.5,1779.9 644.4,1779.9 645.2,1778.8 646.0,1780.5 646.8,1778.9 647.7,1777.7 648.5,1779.7 649.3,1778.5 650.1,1779.6 650.9,1780.5 651.8,1781.2 652.6,1780.7 653.4,1779.1 654.2,1780.3 655.1,1779.0 655.9,1779.4 656.7,1779.7 657.5,1778.9 658.4,1778.8 659.2,1780.4 660.0,1779.8 660.8,1779.6 661.7,1779.9 662.5,1779.1 663.3,1779.1 664.1,1779.6 665.0,1779.8 665.8,1779.1 666.6,1779.6 667.4,1779.4 668.3,1779.1 669.1,1777.8 669.9,1777.4 670.7,1777.8 671.6,1777.9 672.4,1779.8 673.2,1779.5 674.0,1777.4 674.9,1777.8 675.7,1777.5 676.5,1776.7 677.3,1777.0 678.2,1776.1 679.0,1776.0 679.8,1775.8 680.6,1775.5 681.5,1774.2 682.3,1775.1 683.1,1773.8 683.9,1774.3 684.8,1774.9 685.6,1774.8 686.4,1776.7 687.2,1776.6 688.1,1777.3 688.9,1780.3 689.7,1779.1 690.5,1779.4 691.3,1777.5 692.2,1778.8 693.0,1780.0 693.8,1778.3 694.6,1778.6 695.5,1779.8 696.3,1780.0 697.1,1780.5 697.9,1780.4 698.8,1780.0 699.6,1779.8 700.4,1781.1 701.2,1780.8 702.1,1780.5 702.9,1779.1 703.7,1778.7 704.5,1780.0 705.4,1778.2 706.2,1779.0 707.0,1778.6 707.8,1777.3 708.7,1779.2 709.5,1778.0 710.3,1780.2 711.1,1778.9 712.0,1779.0 712.8,1779.4 713.6,1779.5 714.4,1779.0 715.3,1778.8 716.1,1779.9 716.9,1779.1 717.7,1779.9 718.6,1779.6 719.4,1779.9 720.2,1778.8 721.0,1780.2 721.9,1777.8 722.7,1777.2 723.5,1777.6 724.3,1777.9 725.2,1778.5 726.0,1780.0 726.8,1777.6 727.6,1779.2 728.5,1778.0 729.3,1780.1 730.1,1779.8 730.9,1781.1 731.7,1779.6 732.6,1780.2 733.4,1780.0 734.2,1778.6 735.0,1778.5 735.9,1778.0 736.7,1777.9 737.5,1778.2 738.3,1777.9 739.2,1779.5 740.0,1778.7 740.8,1778.1 741.6,1778.9 742.5,1779.3 743.3,1778.9 744.1,1779.9 744.9,1778.8 745.8,1779.0 746.6,1780.5 747.4,1778.4 748.2,1778.9 749.1,1779.3 749.9,1778.2 750.7,1778.8 751.5,1779.7 752.4,1780.4 753.2,1778.5 754.0,1779.4 754.8,1778.8 755.7,1778.6 756.5,1777.9 757.3,1779.2 758.1,1777.2 759.0,1779.4 759.8,1779.2 760.6,1779.4 761.4,1779.2 762.3,1778.1 763.1,1777.6 763.9,1778.6 764.7,1778.6 765.6,1778.5 766.4,1777.8 767.2,1779.6 768.0,1781.0 768.9,1778.7 769.7,1778.1 770.5,1778.5 771.3,1780.2 772.2,1778.2 773.0,1778.5 773.8,1778.6 774.6,1778.3 775.4,1779.2 776.3,1778.3 777.1,1778.0 777.9,1779.3 778.7,1779.1 779.6,1780.6 780.4,1779.6 781.2,1779.7 782.0,1778.3 782.9,1778.7 783.7,1779.0 784.5,1778.9 785.3,1777.5 786.2,1779.2 787.0,1779.0 787.8,1780.4 788.6,1780.2 789.5,1779.2 790.3,1779.4 791.1,1777.7 791.9,1779.4 792.8,1778.1 793.6,1777.9 794.4,1777.9 795.2,1780.3 796.1,1780.3 796.9,1778.9 797.7,1781.5 798.5,1779.3 799.4,1781.2 800.2,1779.1 801.0,1779.7 801.8,1778.9 802.7,1780.9 803.5,1779.9 804.3,1779.1 805.1,1779.1 806.0,1778.8 806.8,1779.0 807.6,1777.9 808.4,1779.6 809.3,1780.5 810.1,1778.9 810.9,1778.5 811.7,1778.3 812.6,1778.5 813.4,1779.7 814.2,1778.9 815.0,1777.6 815.8,1780.0 816.7,1778.8 817.5,1780.0 818.3,1779.0 819.1,1778.3 820.0,1779.2 820.8,1778.6 821.6,1779.3 822.4,1779.3 823.3,1778.4 824.1,1779.9 824.9,1778.9 825.7,1779.4 826.6,1779.3 827.4,1778.6 828.2,1778.8 829.0,1779.4 829.9,1778.0 830.7,1778.0 831.5,1777.6 832.3,1779.1 833.2,1777.1 834.0,1777.9 834.8,1778.4 835.6,1776.4 836.5,1778.4 837.3,1776.6 838.1,1777.9 838.9,1777.3 839.8,1776.0 840.6,1777.1 841.4,1778.6 842.2,1777.4 843.1,1776.3 843.9,1777.8 844.7,1777.6 845.5,1775.8 846.4,1776.9 847.2,1775.8 848.0,1775.3 848.8,1776.8 849.7,1776.4 850.5,1776.6 851.3,1775.7 852.1,1774.7 853.0,1775.4 853.8,1773.6 854.6,1773.6 855.4,1773.8 856.2,1773.2 857.1,1773.4 857.9,1772.8 858.7,1774.1 859.5,1774.4 860.4,1774.1 861.2,1774.8 862.0,1774.3 862.8,1773.9 863.7,1771.9 864.5,1772.8 865.3,1771.1 866.1,1773.3 867.0,1772.7 867.8,1772.5 868.6,1772.3 869.4,1771.9 870.3,1772.0 871.1,1771.3 871.9,1771.0 872.7,1768.7 873.6,1767.9 874.4,1767.9 875.2,1762.9 876.0,1760.8 876.9,1756.0 877.7,1751.8 878.5,1745.8 879.3,1738.6 880.2,1732.4 881.0,1728.8 881.8,1728.3 882.6,1728.3 883.5,1732.7 884.3,1739.0 885.1,1742.8 885.9,1747.9 886.8,1754.0 887.6,1758.1 888.4,1760.2 889.2,1762.9 890.1,1760.7 890.9,1760.8 891.7,1760.7 892.5,1757.3 893.4,1757.1 894.2,1757.4 895.0,1755.0 895.8,1751.4 896.6,1752.7 897.5,1751.5 898.3,1750.5 899.1,1750.8 899.9,1753.2 900.8,1755.6 901.6,1756.6 902.4,1757.9 903.2,1760.9 904.1,1762.8 904.9,1763.2 905.7,1765.2 906.5,1767.3 907.4,1770.1 908.2,1769.7 909.0,1771.1 909.8,1772.1 910.7,1772.0 911.5,1772.7 912.3,1773.8 913.1,1775.1 914.0,1774.9 914.8,1777.3 915.6,1776.4 916.4,1776.8 917.3,1775.7 918.1,1776.2 918.9,1776.4 919.7,1777.0 920.6,1778.0 921.4,1778.2 922.2,1778.0 923.0,1777.7 923.9,1775.7 924.7,1777.4 925.5,1778.3 926.3,1778.8 927.2,1778.0 928.0,1778.3 928.8,1778.0 929.6,1778.0 930.5,1778.8 931.3,1777.9 932.1,1778.0 932.9,1778.6 933.8,1778.4 934.6,1778.1 935.4,1778.8 936.2,1777.8 937.1,1778.5 937.9,1779.2 938.7,1777.8 939.5,1778.1 940.3,1779.4 941.2,1778.1 942.0,1778.6 942.8,1777.0 943.6,1777.0 944.5,1776.4 945.3,1776.5 946.1,1778.6 946.9,1776.3 947.8,1771.8 948.6,1765.9 949.4,1761.2 950.2,1765.5 951.1,1772.4 951.9,1777.1 952.7,1776.7 953.5,1776.5 954.4,1777.1 955.2,1777.1 956.0,1776.7 956.8,1776.2 957.7,1777.3 958.5,1777.3 959.3,1777.2 960.1,1777.1 961.0,1778.1 961.8,1776.8 962.6,1775.9 963.4,1776.4 964.3,1778.4 965.1,1777.7 965.9,1778.5 966.7,1778.5 967.6,1778.2 968.4,1777.5 969.2,1777.8 970.0,1778.5 970.9,1777.2 971.7,1778.2 972.5,1778.4 973.3,1777.2 974.2,1777.9 975.0,1778.3 975.8,1777.8 976.6,1777.2 977.5,1779.0 978.3,1777.7 979.1,1779.0 979.9,1778.9 980.7,1778.6 981.6,1779.4 982.4,1780.0 983.2,1778.5 984.0,1777.9 984.9,1777.6 985.7,1777.5 986.5,1776.5 987.3,1778.4 988.2,1777.3 989.0,1776.1 989.8,1778.0 990.6,1777.5 991.5,1776.1 992.3,1777.5 993.1,1776.9 993.9,1777.4 994.8,1776.5 995.6,1776.7 996.4,1777.5 997.2,1778.3 998.1,1777.7 998.9,1778.8 999.7,1776.9 1000.5,1776.6 1001.4,1775.9 1002.2,1775.3 1003.0,1774.4 1003.8,1773.5 1004.7,1773.8 1005.5,1773.9 1006.3,1774.2 1007.1,1772.3 1008.0,1770.6 1008.8,1772.4 1009.6,1771.2 1010.4,1773.0 1011.3,1773.3 1012.1,1773.6 1012.9,1774.2 1013.7,1774.5 1014.6,1775.6 1015.4,1774.5 1016.2,1775.2 1017.0,1775.3 1017.9,1775.8 1018.7,1777.4 1019.5,1777.9 1020.3,1776.7 1021.1,1776.9 1022.0,1777.3 1022.8,1777.2 1023.6,1776.2 1024.4,1777.7 1025.3,1777.6 1026.1,1776.7 1026.9,1777.7 1027.7,1776.9 1028.6,1777.9 1029.4,1777.9 1030.2,1777.9 1031.0,1777.1 1031.9,1777.0 1032.7,1777.2 1033.5,1777.5 1034.3,1777.0 1035.2,1777.8 1036.0,1778.3 1036.8,1776.1 1037.6,1778.2 1038.5,1778.2 1039.3,1776.6 1040.1,1781.0 1040.9,1778.4 1041.8,1778.0 1042.6,1776.5 1043.4,1777.9 1044.2,1777.7 1045.1,1777.9 1045.9,1776.9 1046.7,1776.3 1047.5,1776.3 1048.4,1777.5 1049.2,1776.9 1050.0,1777.9 1050.8,1779.1 1051.7,1776.6 1052.5,1777.9 1053.3,1780.0 1054.1,1778.5 1055.0,1779.5 1055.8,1777.9 1056.6,1778.7 1057.4,1778.2 1058.3,1778.2 1059.1,1776.4 1059.9,1778.5 1060.7,1777.3 1061.5,1776.8 1062.4,1777.8 1063.2,1776.6 1064.0,1776.2 1064.8,1777.2 1065.7,1778.2 1066.5,1777.3 1067.3,1778.4 1068.1,1779.3 1069.0,1778.1 1069.8,1778.0 1070.6,1777.4 1071.4,1777.3 1072.3,1777.5 1073.1,1775.3 1073.9,1777.3 1074.7,1778.5 1075.6,1777.2 1076.4,1777.1 1077.2,1776.7 1078.0,1778.0 1078.9,1777.5 1079.7,1779.6 1080.5,1778.5 1081.3,1778.5 1082.2,1777.8 1083.0,1776.7 1083.8,1774.4 1084.6,1775.4 1085.5,1775.6 1086.3,1772.6 1087.1,1773.6 1087.9,1772.4 1088.8,1770.8 1089.6,1768.3 1090.4,1765.5 1091.2,1761.7 1092.1,1759.9 1092.9,1755.2 1093.7,1754.1 1094.5,1754.4 1095.4,1756.1 1096.2,1760.0 1097.0,1762.1 1097.8,1765.9 1098.7,1766.6 1099.5,1769.4 1100.3,1770.6 1101.1,1772.4 1102.0,1773.6 1102.8,1774.5 1103.6,1774.8 1104.4,1777.3 1105.2,1776.4 1106.1,1777.5 1106.9,1777.9 1107.7,1777.2 1108.5,1774.9 1109.4,1777.1 1110.2,1775.8 1111.0,1776.8 1111.8,1776.6 1112.7,1776.8 1113.5,1776.8 1114.3,1777.0 1115.1,1777.1 1116.0,1775.4 1116.8,1775.0 1117.6,1776.2 1118.4,1775.3 1119.3,1775.5 1120.1,1776.7 1120.9,1775.7 1121.7,1774.2 1122.6,1773.9 1123.4,1773.8 1124.2,1773.7 1125.0,1773.7 1125.9,1773.8 1126.7,1774.0 1127.5,1772.5 1128.3,1770.4 1129.2,1771.1 1130.0,1770.4 1130.8,1769.7 1131.6,1770.6 1132.5,1768.3 1133.3,1768.6 1134.1,1768.6 1134.9,1770.1 1135.8,1767.8 1136.6,1768.0 1137.4,1768.6 1138.2,1768.0 1139.1,1766.0 1139.9,1767.6 1140.7,1766.8 1141.5,1767.7 1142.4,1768.4 1143.2,1768.6 1144.0,1768.6 1144.8,1767.8 1145.6,1770.5 1146.5,1771.0 1147.3,1771.0 1148.1,1769.6 1148.9,1770.4 1149.8,1769.9 1150.6,1771.6 1151.4,1771.3 1152.2,1772.6 1153.1,1772.3 1153.9,1772.0 1154.7,1772.5 1155.5,1774.4 1156.4,1774.8 1157.2,1774.3 1158.0,1774.0 1158.8,1774.9 1159.7,1776.3 1160.5,1775.8 1161.3,1775.4 1162.1,1776.6 1163.0,1775.8 1163.8,1774.4 1164.6,1773.4 1165.4,1775.1 1166.3,1773.6 1167.1,1771.3 1167.9,1770.3 1168.7,1767.3 1169.6,1762.0 1170.4,1757.4 1171.2,1749.7 1172.0,1740.3 1172.9,1726.3 1173.7,1709.6 1174.5,1685.6 1175.3,1655.0 1176.2,1615.9 1177.0,1575.0 1177.8,1534.7 1178.6,1512.1 1179.5,1511.0 1180.3,1537.3 1181.1,1578.2 1181.9,1623.5 1182.8,1662.4 1183.6,1691.8 1184.4,1714.1 1185.2,1731.3 1186.0,1744.7 1186.9,1752.0 1187.7,1758.8 1188.5,1763.0 1189.3,1767.6 1190.2,1770.1 1191.0,1772.1 1191.8,1773.5 1192.6,1773.7 1193.5,1774.7 1194.3,1774.7 1195.1,1774.1 1195.9,1776.4 1196.8,1775.4 1197.6,1776.8 1198.4,1776.3 1199.2,1776.4 1200.1,1775.4 1200.9,1773.5 1201.7,1774.4 1202.5,1772.5 1203.4,1773.7 1204.2,1771.9 1205.0,1768.4 1205.8,1769.3 1206.7,1767.6 1207.5,1765.0 1208.3,1766.1 1209.1,1765.9 1210.0,1766.8 1210.8,1767.0 1211.6,1766.0 1212.4,1769.6 1213.3,1769.6 1214.1,1771.8 1214.9,1772.1 1215.7,1774.2 1216.6,1774.2 1217.4,1773.7 1218.2,1773.9 1219.0,1775.6 1219.9,1775.6 1220.7,1775.0 1221.5,1776.1 1222.3,1776.9 1223.2,1775.8 1224.0,1775.0 1224.8,1777.2 1225.6,1775.9 1226.4,1776.2 1227.3,1775.1 1228.1,1776.6 1228.9,1776.4 1229.7,1775.7 1230.6,1776.6 1231.4,1776.2 1232.2,1776.0 1233.0,1775.3 1233.9,1777.7 1234.7,1777.4 1235.5,1778.6 1236.3,1778.2 1237.2,1776.6 1238.0,1777.1 1238.8,1776.0 1239.6,1776.9 1240.5,1778.1 1241.3,1777.0 1242.1,1777.2 1242.9,1776.0 1243.8,1776.6 1244.6,1776.6 1245.4,1777.1 1246.2,1775.8 1247.1,1775.9 1247.9,1777.9 1248.7,1777.9 1249.5,1777.4 1250.4,1776.4 1251.2,1776.5 1252.0,1777.0 1252.8,1778.5 1253.7,1777.9 1254.5,1777.6 1255.3,1777.2 1256.1,1777.4 1257.0,1776.2 1257.8,1776.9 1258.6,1775.1 1259.4,1775.4 1260.3,1776.2 1261.1,1777.3 1261.9,1776.9 1262.7,1778.1 1263.6,1778.1 1264.4,1778.2 1265.2,1776.8 1266.0,1777.5 1266.9,1776.3 1267.7,1776.6 1268.5,1774.6 1269.3,1777.3 1270.1,1777.1 1271.0,1778.0 1271.8,1776.9 1272.6,1777.2 1273.4,1776.7 1274.3,1775.0 1275.1,1775.3 1275.9,1773.6 1276.7,1775.8 1277.6,1775.8 1278.4,1777.3 1279.2,1776.9 1280.0,1776.3 1280.9,1775.4 1281.7,1776.9 1282.5,1775.9 1283.3,1776.4 1284.2,1776.5 1285.0,1776.3 1285.8,1777.3 1286.6,1777.7 1287.5,1775.9 1288.3,1776.4 1289.1,1776.6 1289.9,1776.1 1290.8,1777.4 1291.6,1777.1 1292.4,1776.7 1293.2,1776.0 1294.1,1775.2 1294.9,1775.0 1295.7,1776.5 1296.5,1776.3 1297.4,1777.6 1298.2,1776.2 1299.0,1776.8 1299.8,1778.3 1300.7,1777.3 1301.5,1776.2 1302.3,1776.6 1303.1,1776.2 1304.0,1776.6 1304.8,1775.8 1305.6,1774.7 1306.4,1776.4 1307.3,1777.0 1308.1,1776.6 1308.9,1777.4 1309.7,1775.8 1310.5,1776.3 1311.4,1775.7 1312.2,1777.9 1313.0,1776.4 1313.8,1778.8 1314.7,1777.9 1315.5,1775.9 1316.3,1777.1 1317.1,1777.5 1318.0,1775.9 1318.8,1776.6 1319.6,1776.1 1320.4,1776.6 1321.3,1777.3 1322.1,1778.2 1322.9,1779.0 1323.7,1776.0 1324.6,1775.9 1325.4,1776.0 1326.2,1776.3 1327.0,1775.4 1327.9,1777.2 1328.7,1775.3 1329.5,1774.8 1330.3,1776.3 1331.2,1774.5 1332.0,1776.2 1332.8,1775.7 1333.6,1774.4 1334.5,1775.5 1335.3,1776.4 1336.1,1777.1 1336.9,1777.1 1337.8,1776.1 1338.6,1776.6 1339.4,1775.9 1340.2,1778.4 1341.1,1776.3 1341.9,1777.2 1342.7,1777.3 1343.5,1775.7 1344.4,1776.9 1345.2,1777.2 1346.0,1777.5 1346.8,1777.0 1347.7,1777.7 1348.5,1777.0 1349.3,1775.4 1350.1,1776.1 1350.9,1774.8 1351.8,1774.2 1352.6,1777.7 1353.4,1776.7 1354.2,1776.4 1355.1,1777.0 1355.9,1777.3 1356.7,1775.4 1357.5,1777.2 1358.4,1776.2 1359.2,1776.3 1360.0,1776.7 1360.8,1776.3 1361.7,1775.7 1362.5,1775.5 1363.3,1777.5 1364.1,1776.8 1365.0,1776.3 1365.8,1776.2 1366.6,1777.4 1367.4,1777.9 1368.3,1777.0 1369.1,1776.3 1369.9,1776.0 1370.7,1778.3 1371.6,1774.5 1372.4,1776.2 1373.2,1776.5 1374.0,1776.0 1374.9,1777.0 1375.7,1778.2 1376.5,1777.5 1377.3,1775.8 1378.2,1775.8 1379.0,1776.4 1379.8,1776.8 1380.6,1776.9 1381.5,1775.6 1382.3,1776.9 1383.1,1776.1 1383.9,1774.9 1384.8,1776.9 1385.6,1776.2 1386.4,1777.2 1387.2,1775.5 1388.1,1776.9 1388.9,1777.1 1389.7,1776.8 1390.5,1775.9 1391.3,1777.2 1392.2,1776.2 1393.0,1777.1 1393.8,1775.1 1394.6,1776.6 1395.5,1774.1 1396.3,1776.6 1397.1,1775.3 1397.9,1776.2 1398.8,1776.5 1399.6,1776.6 1400.4,1775.4 1401.2,1776.6 1402.1,1776.6 1402.9,1776.3 1403.7,1776.6 1404.5,1775.8 1405.4,1776.4 1406.2,1776.5 1407.0,1775.2 1407.8,1775.9 1408.7,1776.9 1409.5,1776.3 1410.3,1776.5 1411.1,1775.6 1412.0,1777.3 1412.8,1776.2 1413.6,1776.5 1414.4,1775.7 1415.3,1777.1 1416.1,1776.8 1416.9,1776.2 1417.7,1778.0 1418.6,1777.2 1419.4,1776.9 1420.2,1777.7 1421.0,1776.4 1421.9,1776.1 1422.7,1778.3 1423.5,1776.7 1424.3,1777.5 1425.2,1777.4 1426.0,1775.6 1426.8,1776.7 1427.6,1777.0 1428.5,1776.0 1429.3,1776.3 1430.1,1776.9 1430.9,1775.3 1431.8,1776.0 1432.6,1776.1 1433.4,1776.4 1434.2,1776.0 1435.0,1777.3 1435.9,1775.8 1436.7,1776.3 1437.5,1776.1 1438.3,1777.1 1439.2,1777.4 1440.0,1777.3 1440.8,1777.3 1441.6,1775.1 1442.5,1775.9 1443.3,1776.5 1444.1,1775.6 1444.9,1776.3 1445.8,1776.4 1446.6,1775.8 1447.4,1775.4 1448.2,1775.6 1449.1,1777.1 1449.9,1776.3 1450.7,1776.0 1451.5,1775.7 1452.4,1776.9 1453.2,1774.4 1454.0,1775.0 1454.8,1776.0 1455.7,1774.0 1456.5,1773.1 1457.3,1772.5 1458.1,1773.8 1459.0,1771.2 1459.8,1771.0 1460.6,1770.6 1461.4,1768.2 1462.3,1766.1 1463.1,1764.2 1463.9,1762.5 1464.7,1757.7 1465.6,1753.2 1466.4,1747.7 1467.2,1739.9 1468.0,1728.5 1468.9,1717.4 1469.7,1702.2 1470.5,1684.3 1471.3,1668.1 1472.2,1651.9 1473.0,1639.9 1473.8,1635.4 1474.6,1640.6 1475.4,1650.5 1476.3,1666.9 1477.1,1685.1 1477.9,1700.1 1478.7,1713.9 1479.6,1726.6 1480.4,1736.7 1481.2,1747.0 1482.0,1754.3 1482.9,1758.1 1483.7,1763.8 1484.5,1765.1 1485.3,1768.3 1486.2,1769.9 1487.0,1770.3 1487.8,1771.7 1488.6,1773.1 1489.5,1772.1 1490.3,1773.7 1491.1,1773.9 1491.9,1774.5 1492.8,1776.0 1493.6,1775.0 1494.4,1777.0 1495.2,1776.4 1496.1,1775.8 1496.9,1775.3 1497.7,1776.7 1498.5,1776.2 1499.4,1775.2 1500.2,1776.7 1501.0,1776.2 1501.8,1777.9 1502.7,1776.9 1503.5,1775.6 1504.3,1776.2 1505.1,1777.6 1506.0,1777.6 1506.8,1776.6 1507.6,1775.8 1508.4,1777.9 1509.3,1776.4 1510.1,1778.6 1510.9,1776.0 1511.7,1776.6 1512.6,1778.2 1513.4,1777.1 1514.2,1777.7 1515.0,1777.8 1515.8,1775.0 1516.7,1775.8 1517.5,1776.8 1518.3,1776.4 1519.1,1775.7 1520.0,1775.3 1520.8,1776.5 1521.6,1777.1 1522.4,1777.2 1523.3,1775.9 1524.1,1776.4 1524.9,1777.7 1525.7,1777.6 1526.6,1777.0 1527.4,1776.3 1528.2,1777.3 1529.0,1776.3 1529.9,1775.0 1530.7,1775.1 1531.5,1774.7 1532.3,1776.3 1533.2,1777.0 1534.0,1776.5 1534.8,1776.3 1535.6,1775.1 1536.5,1776.3 1537.3,1775.1 1538.1,1775.7 1538.9,1777.2 1539.8,1777.5 1540.6,1775.9 1541.4,1776.7 1542.2,1776.1 1543.1,1775.7 1543.9,1775.4 1544.7,1775.6 1545.5,1775.9 1546.4,1777.2 1547.2,1777.4 1548.0,1776.3 1548.8,1776.8 1549.7,1777.1 1550.5,1776.1 1551.3,1777.5 1552.1,1776.7 1553.0,1775.2 1553.8,1776.1 1554.6,1775.6 1555.4,1775.4 1556.2,1775.2 1557.1,1775.7 1557.9,1776.1 1558.7,1779.0 1559.5,1775.7 1560.4,1776.1 1561.2,1776.3 1562.0,1776.6 1562.8,1774.8 1563.7,1774.3 1564.5,1775.6 1565.3,1774.4 1566.1,1774.9 1567.0,1777.0 1567.8,1776.2 1568.6,1777.1 1569.4,1774.5 1570.3,1775.3 1571.1,1776.1 1571.9,1776.8 1572.7,1776.1 1573.6,1775.6 1574.4,1774.8 1575.2,1776.2 1576.0,1774.5 1576.9,1776.5 1577.7,1776.2 1578.5,1776.2 1579.3,1775.7 1580.2,1777.2 1581.0,1776.8 1581.8,1777.4 1582.6,1775.7 1583.5,1777.0 1584.3,1775.8 1585.1,1776.6 1585.9,1776.5 1586.8,1776.5 1587.6,1776.7 1588.4,1776.7 1589.2,1776.2 1590.1,1776.6 1590.9,1775.3 1591.7,1776.6 1592.5,1777.4 1593.4,1775.6 1594.2,1777.2 1595.0,1776.0 1595.8,1777.0 1596.7,1775.5 1597.5,1776.7 1598.3,1775.7 1599.1,1776.9 1599.9,1776.4 1600.8,1776.4 1601.6,1776.6 1602.4,1775.4 1603.2,1775.3 1604.1,1775.9 1604.9,1776.4 1605.7,1776.3 1606.5,1776.3 1607.4,1775.6 1608.2,1776.7 1609.0,1776.1 1609.8,1775.4 1610.7,1775.8 1611.5,1776.3 1612.3,1775.7 1613.1,1775.9 1614.0,1776.1 1614.8,1775.8 1615.6,1775.1 1616.4,1773.2 1617.3,1775.7 1618.1,1773.6 1618.9,1774.3 1619.7,1773.9 1620.6,1774.3 1621.4,1773.3 1622.2,1771.9 1623.0,1770.9 1623.9,1770.0 1624.7,1766.2 1625.5,1766.1 1626.3,1760.2 1627.2,1755.4 1628.0,1749.2 1628.8,1744.8 1629.6,1734.5 1630.5,1728.0 1631.3,1721.6 1632.1,1721.6 1632.9,1722.8 1633.8,1728.5 1634.6,1735.6 1635.4,1744.0 1636.2,1750.9 1637.1,1756.6 1637.9,1760.5 1638.7,1762.9 1639.5,1766.5 1640.3,1767.2 1641.2,1769.3 1642.0,1771.5 1642.8,1772.7 1643.6,1773.5 1644.5,1773.9 1645.3,1774.1 1646.1,1774.9 1646.9,1775.7 1647.8,1775.3 1648.6,1776.1 1649.4,1775.9 1650.2,1775.9 1651.1,1776.1 1651.9,1774.9 1652.7,1775.1 1653.5,1774.7 1654.4,1777.1 1655.2,1775.9 1656.0,1775.8 1656.8,1773.8 1657.7,1775.6 1658.5,1777.7 1659.3,1776.4 1660.1,1775.7 1661.0,1776.6 1661.8,1777.4 1662.6,1775.3 1663.4,1775.5 1664.3,1775.1 1665.1,1775.4 1665.9,1774.5 1666.7,1774.6 1667.6,1776.4 1668.4,1775.5 1669.2,1775.4 1670.0,1775.3 1670.9,1775.3 1671.7,1775.3 1672.5,1775.0 1673.3,1776.5 1674.2,1775.3 1675.0,1775.8 1675.8,1777.4 1676.6,1775.4 1677.5,1777.9 1678.3,1776.8 1679.1,1777.5 1679.9,1776.9 1680.7,1777.7 1681.6,1778.6 1682.4,1776.6 1683.2,1776.7 1684.0,1776.4 1684.9,1778.1 1685.7,1774.9 1686.5,1776.5 1687.3,1776.9 1688.2,1777.0 1689.0,1778.1 1689.8,1777.3 1690.6,1775.9 1691.5,1777.4 1692.3,1775.9 1693.1,1774.7 1693.9,1776.6 1694.8,1775.7 1695.6,1776.6 1696.4,1776.1 1697.2,1775.8 1698.1,1776.8 1698.9,1776.7 1699.7,1776.6 1700.5,1776.6 1701.4,1776.3 1702.2,1775.5 1703.0,1776.4 1703.8,1775.0 1704.7,1775.5 1705.5,1776.1 1706.3,1774.4 1707.1,1775.4 1708.0,1775.5 1708.8,1775.6 1709.6,1775.1 1710.4,1776.1 1711.3,1775.8 1712.1,1773.1 1712.9,1774.9 1713.7,1775.1 1714.6,1774.1 1715.4,1774.3 1716.2,1775.6 1717.0,1774.4 1717.9,1774.5 1718.7,1775.4 1719.5,1772.4 1720.3,1772.8 1721.1,1771.8 1722.0,1771.0 1722.8,1771.4 1723.6,1770.2 1724.4,1767.5 1725.3,1769.3 1726.1,1768.0 1726.9,1767.1 1727.7,1766.4 1728.6,1765.9 1729.4,1765.8 1730.2,1766.3 1731.0,1768.1 1731.9,1770.3 1732.7,1769.1 1733.5,1771.2 1734.3,1772.1 1735.2,1773.1 1736.0,1772.5 1736.8,1774.1 1737.6,1774.8 1738.5,1774.6 1739.3,1775.5 1740.1,1776.3 1740.9,1775.4 1741.8,1775.5 1742.6,1774.9 1743.4,1775.6 1744.2,1774.9 1745.1,1776.5 1745.9,1775.4 1746.7,1775.7 1747.5,1777.3 1748.4,1777.0 1749.2,1778.4 1750.0,1776.7 1750.8,1775.7 1751.7,1776.7 1752.5,1775.1 1753.3,1775.5 1754.1,1775.6 1755.0,1775.2 1755.8,1774.1 1756.6,1775.8 1757.4,1775.2 1758.3,1775.8 1759.1,1775.0 1759.9,1776.4 1760.7,1775.2 1761.6,1777.4 1762.4,1777.5 1763.2,1774.9 1764.0,1778.3 1764.8,1777.5 1765.7,1776.8 1766.5,1776.5 1767.3,1776.0 1768.1,1777.9 1769.0,1777.4 1769.8,1775.2 1770.6,1776.1 1771.4,1776.4 1772.3,1776.3 1773.1,1775.0 1773.9,1776.3 1774.7,1776.6 1775.6,1775.0 1776.4,1775.7 1777.2,1774.1 1778.0,1775.6 1778.9,1776.4 1779.7,1776.7 1780.5,1776.6 1781.3,1776.7 1782.2,1776.7 1783.0,1778.5 1783.8,1777.6 1784.6,1777.2 1785.5,1778.5 1786.3,1775.5 1787.1,1776.7 1787.9,1776.3 1788.8,1775.3 1789.6,1775.7 1790.4,1773.9 1791.2,1776.8 1792.1,1774.9 1792.9,1776.0 1793.7,1776.4 1794.5,1778.5 1795.4,1777.8 1796.2,1778.0 1797.0,1776.3 1797.8,1776.3 1798.7,1777.9 1799.5,1775.9 1800.3,1776.1 1801.1,1775.7 1802.0,1777.5 1802.8,1775.7 1803.6,1776.4 1804.4,1776.5 1805.2,1776.6 1806.1,1775.7 1806.9,1777.1 1807.7,1776.6 1808.5,1777.9 1809.4,1776.2 1810.2,1777.8 1811.0,1776.6 1811.8,1775.4 1812.7,1775.8 1813.5,1776.4 1814.3,1776.7 1815.1,1775.4 1816.0,1776.4 1816.8,1775.4 1817.6,1776.8 1818.4,1776.2 1819.3,1775.9 1820.1,1776.4 1820.9,1775.2 1821.7,1776.8 1822.6,1775.4 1823.4,1775.8 1824.2,1775.6 1825.0,1776.6 1825.9,1778.1 1826.7,1777.5 1827.5,1776.9 1828.3,1775.4 1829.2,1776.9 1830.0,1776.7 1830.8,1776.5 1831.6,1776.8 1832.5,1776.6 1833.3,1776.9 1834.1,1775.9 1834.9,1776.0 1835.8,1775.4 1836.6,1776.1 1837.4,1775.2 1838.2,1776.3 1839.1,1775.5 1839.9,1774.8 1840.7,1774.6 1841.5,1775.2 1842.4,1776.4 1843.2,1777.2 1844.0,1777.4 1844.8,1777.4 1845.6,1776.4 1846.5,1777.3 1847.3,1776.8 1848.1,1777.1 1848.9,1776.3 1849.8,1775.7 1850.6,1776.6 1851.4,1776.2 1852.2,1775.8 1853.1,1776.2 1853.9,1776.2 1854.7,1776.7 1855.5,1775.9 1856.4,1775.5 1857.2,1775.5 1858.0,1775.6 1858.8,1776.2 1859.7,1775.3 1860.5,1776.7 1861.3,1775.6 1862.1,1776.0 1863.0,1773.9 1863.8,1777.3 1864.6,1775.0 1865.4,1776.0 1866.3,1776.6 1867.1,1776.5 1867.9,1775.8 1868.7,1776.3 1869.6,1777.0 1870.4,1775.7 1871.2,1777.3 1872.0,1776.7 1872.9,1775.2 1873.7,1776.6 1874.5,1775.9 1875.3,1776.5 1876.2,1776.6 1877.0,1776.3 1877.8,1776.1 1878.6,1775.1 1879.5,1775.5 1880.3,1775.7 1881.1,1776.6 1881.9,1777.3 1882.8,1775.1 1883.6,1774.1 1884.4,1775.6 1885.2,1775.9 1886.0,1776.7 1886.9,1776.1 1887.7,1776.8 1888.5,1775.1 1889.3,1773.1 1890.2,1774.3 1891.0,1775.2 1891.8,1773.6 1892.6,1774.8 1893.5,1775.3 1894.3,1774.8 1895.1,1775.4 1895.9,1776.3 1896.8,1773.5 1897.6,1774.8 1898.4,1776.6 1899.2,1774.4 1900.1,1774.1 1900.9,1774.1 1901.7,1775.5 1902.5,1773.0 1903.4,1774.8 1904.2,1774.2 1905.0,1773.9 1905.8,1774.7 1906.7,1774.4 1907.5,1775.2 1908.3,1773.4 1909.1,1773.4 1910.0,1772.4 1910.8,1773.6 1911.6,1772.5 1912.4,1772.9 1913.3,1772.1 1914.1,1771.5 1914.9,1771.8 1915.7,1771.6 1916.6,1772.7 1917.4,1771.5 1918.2,1771.7 1919.0,1771.0 1919.9,1769.5 1920.7,1769.7 1921.5,1770.4 1922.3,1771.1 1923.2,1771.3 1924.0,1770.4 1924.8,1771.1 1925.6,1769.2 1926.5,1770.3 1927.3,1767.0 1928.1,1769.5 1928.9,1769.5 1929.7,1769.7 1930.6,1770.5 1931.4,1769.6 1932.2,1771.5 1933.0,1770.6 1933.9,1770.0 1934.7,1770.5 1935.5,1770.2 1936.3,1770.8 1937.2,1771.0 1938.0,1768.7 1938.8,1770.6 1939.6,1770.5 1940.5,1772.6 1941.3,1771.3 1942.1,1771.0 1942.9,1770.7 1943.8,1771.5 1944.6,1772.0 1945.4,1772.5 1946.2,1772.7 1947.1,1773.5 1947.9,1773.5 1948.7,1774.0 1949.5,1774.4 1950.4,1775.3 1951.2,1775.1 1952.0,1774.8 1952.8,1774.3 1953.7,1771.8 1954.5,1773.7 1955.3,1773.0 1956.1,1773.6 1957.0,1773.7 1957.8,1773.7 1958.6,1774.9 1959.4,1774.6 1960.3,1775.2 1961.1,1775.2 1961.9,1777.0 1962.7,1774.9 1963.6,1773.6 1964.4,1774.6 1965.2,1776.0 1966.0,1776.6 1966.9,1774.6 1967.7,1774.6 1968.5,1774.0" fill="none" stroke="#ff0000" stroke-width="4.7" stroke-linejoin="round" stroke-linecap="butt"/>
<polyline points="319.5,2223.8 320.3,2223.9 321.1,2221.2 322.0,2223.1 322.8,2222.8 323.6,2223.1 324.4,2220.4 325.3,2220.9 326.1,2222.1 326.9,2222.2 327.7,2220.7 328.6,2222.5 329.4,2222.3 330.2,2222.1 331.0,2222.4 331.9,2220.5 332.7,2221.3 333.5,2219.2 334.3,2221.9 335.2,2222.2 336.0,2221.6 336.8,2220.6 337.6,2221.7 338.5,2222.4 339.3,2220.4 340.1,2221.4 340.9,2221.5 341.8,2220.4 342.6,2220.7 343.4,2222.9 344.2,2223.1 345.1,2223.7 345.9,2222.6 346.7,2221.1 347.5,2221.4 348.4,2220.8 349.2,2221.1 350.0,2221.6 350.8,2222.4 351.7,2221.0 352.5,2222.4 353.3,2219.6 354.1,2220.7 355.0,2221.1 355.8,2219.5 356.6,2220.2 357.4,2221.7 358.3,2222.1 359.1,2222.4 359.9,2221.8 360.7,2221.3 361.5,2220.2 362.4,2221.3 363.2,2222.7 364.0,2221.7 364.8,2220.8 365.7,2221.6 366.5,2221.9 367.3,2222.6 368.1,2220.9 369.0,2221.6 369.8,2221.7 370.6,2220.9 371.4,2221.1 372.3,2220.8 373.1,2221.3 373.9,2221.5 374.7,2220.2 375.6,2221.2 376.4,2222.9 377.2,2221.6 378.0,2220.1 378.9,2223.1 379.7,2221.6 380.5,2221.9 381.3,2222.2 382.2,2221.4 383.0,2220.6 383.8,2220.6 384.6,2221.2 385.5,2220.8 386.3,2220.7 387.1,2223.0 387.9,2221.4 388.8,2222.1 389.6,2223.3 390.4,2221.6 391.2,2221.4 392.1,2221.7 392.9,2222.0 393.7,2223.5 394.5,2222.6 395.4,2221.2 396.2,2220.6 397.0,2221.5 397.8,2222.6 398.7,2220.6 399.5,2222.7 400.3,2221.9 401.1,2221.3 401.9,2220.8 402.8,2220.0 403.6,2219.7 404.4,2221.2 405.2,2218.8 406.1,2220.0 406.9,2220.6 407.7,2219.9 408.5,2220.7 409.4,2220.1 410.2,2222.0 411.0,2222.2 411.8,2220.7 412.7,2222.9 413.5,2220.6 414.3,2219.5 415.1,2219.2 416.0,2221.1 416.8,2218.6 417.6,2220.7 418.4,2221.1 419.3,2221.5 420.1,2220.1 420.9,2221.3 421.7,2219.8 422.6,2221.1 423.4,2219.5 424.2,2220.7 425.0,2220.2 425.9,2220.6 426.7,2222.2 427.5,2219.5 428.3,2218.7 429.2,2218.0 430.0,2217.1 430.8,2214.3 431.6,2216.1 432.5,2213.4 433.3,2212.0 434.1,2213.8 434.9,2213.1 435.8,2215.2 436.6,2217.2 437.4,2216.7 438.2,2216.2 439.1,2217.5 439.9,2219.4 440.7,2218.2 441.5,2220.2 442.4,2220.6 443.2,2218.8 444.0,2220.8 444.8,2218.9 445.6,2220.4 446.5,2220.3 447.3,2220.0 448.1,2219.1 448.9,2220.5 449.8,2221.0 450.6,2221.6 451.4,2221.0 452.2,2221.4 453.1,2220.6 453.9,2219.5 454.7,2221.0 455.5,2222.3 456.4,2220.4 457.2,2220.1 458.0,2219.1 458.8,2222.1 459.7,2219.2 460.5,2220.9 461.3,2219.9 462.1,2219.6 463.0,2219.7 463.8,2221.5 464.6,2221.5 465.4,2220.7 466.3,2220.1 467.1,2221.6 467.9,2220.8 468.7,2220.1 469.6,2220.3 470.4,2219.1 471.2,2220.3 472.0,2219.5 472.9,2219.7 473.7,2219.0 474.5,2220.3 475.3,2220.5 476.2,2218.7 477.0,2220.2 477.8,2220.3 478.6,2221.3 479.5,2221.3 480.3,2219.9 481.1,2221.7 481.9,2221.1 482.8,2220.4 483.6,2219.6 484.4,2220.7 485.2,2220.4 486.0,2219.0 486.9,2220.0 487.7,2219.7 488.5,2219.7 489.3,2219.8 490.2,2221.1 491.0,2220.7 491.8,2220.7 492.6,2220.6 493.5,2220.6 494.3,2221.5 495.1,2219.0 495.9,2220.9 496.8,2219.1 497.6,2219.8 498.4,2220.1 499.2,2220.0 500.1,2220.3 500.9,2219.1 501.7,2221.4 502.5,2221.0 503.4,2220.1 504.2,2219.9 505.0,2218.4 505.8,2216.6 506.7,2216.9 507.5,2218.8 508.3,2216.5 509.1,2220.6 510.0,2219.3 510.8,2217.6 511.6,2216.5 512.4,2213.9 513.3,2213.5 514.1,2211.5 514.9,2209.1 515.7,2202.5 516.6,2197.7 517.4,2187.6 518.2,2174.6 519.0,2158.6 519.9,2140.5 520.7,2124.0 521.5,2112.4 522.3,2111.7 523.2,2121.8 524.0,2139.8 524.8,2158.9 525.6,2174.0 526.4,2184.9 527.3,2196.1 528.1,2203.5 528.9,2206.8 529.7,2210.0 530.6,2213.2 531.4,2214.1 532.2,2215.2 533.0,2217.4 533.9,2217.4 534.7,2218.8 535.5,2220.9 536.3,2219.1 537.2,2219.0 538.0,2219.7 538.8,2220.5 539.6,2221.9 540.5,2221.2 541.3,2221.8 542.1,2220.2 542.9,2220.0 543.8,2220.4 544.6,2221.4 545.4,2219.7 546.2,2221.8 547.1,2220.1 547.9,2221.2 548.7,2221.1 549.5,2222.5 550.4,2220.2 551.2,2219.9 552.0,2220.1 552.8,2220.5 553.7,2219.8 554.5,2218.0 555.3,2218.2 556.1,2218.1 557.0,2221.1 557.8,2220.0 558.6,2220.3 559.4,2217.6 560.3,2219.5 561.1,2218.9 561.9,2219.7 562.7,2217.5 563.6,2220.3 564.4,2220.1 565.2,2220.6 566.0,2218.9 566.8,2221.6 567.7,2219.8 568.5,2219.6 569.3,2219.5 570.1,2219.3 571.0,2219.9 571.8,2220.1 572.6,2221.1 573.4,2220.9 574.3,2219.9 575.1,2220.9 575.9,2221.1 576.7,2219.2 577.6,2219.3 578.4,2219.9 579.2,2219.4 580.0,2218.6 580.9,2219.7 581.7,2220.2 582.5,2220.1 583.3,2219.8 584.2,2221.4 585.0,2218.5 585.8,2219.9 586.6,2220.1 587.5,2218.6 588.3,2218.7 589.1,2218.7 589.9,2219.5 590.8,2219.3 591.6,2219.8 592.4,2220.5 593.2,2218.9 594.1,2219.3 594.9,2219.4 595.7,2217.2 596.5,2218.6 597.4,2217.3 598.2,2218.2 599.0,2218.1 599.8,2219.9 600.7,2218.4 601.5,2218.3 602.3,2219.3 603.1,2218.2 604.0,2216.6 604.8,2218.3 605.6,2217.8 606.4,2216.2 607.3,2214.5 608.1,2215.0 608.9,2214.7 609.7,2216.9 610.5,2215.4 611.4,2217.4 612.2,2218.3 613.0,2218.0 613.8,2218.3 614.7,2219.4 615.5,2219.1 616.3,2217.1 617.1,2219.5 618.0,2216.6 618.8,2218.0 619.6,2219.3 620.4,2216.9 621.3,2219.3 622.1,2220.6 622.9,2218.6 623.7,2217.3 624.6,2220.5 625.4,2218.0 626.2,2217.5 627.0,2217.3 627.9,2217.6 628.7,2217.7 629.5,2220.1 630.3,2217.9 631.2,2217.6 632.0,2218.0 632.8,2219.2 633.6,2221.1 634.5,2218.3 635.3,2219.1 636.1,2219.6 636.9,2218.5 637.8,2218.4 638.6,2218.5 639.4,2219.3 640.2,2218.3 641.1,2220.2 641.9,2217.3 642.7,2219.7 643.5,2220.0 644.4,2219.3 645.2,2219.0 646.0,2220.5 646.8,2218.2 647.7,2218.6 648.5,2217.7 649.3,2218.4 650.1,2217.1 650.9,2217.2 651.8,2218.4 652.6,2217.8 653.4,2218.3 654.2,2219.8 655.1,2216.9 655.9,2218.4 656.7,2219.1 657.5,2220.4 658.4,2218.0 659.2,2218.8 660.0,2219.4 660.8,2218.0 661.7,2218.7 662.5,2219.3 663.3,2218.3 664.1,2218.8 665.0,2218.7 665.8,2217.2 666.6,2218.4 667.4,2218.4 668.3,2218.2 669.1,2217.7 669.9,2219.6 670.7,2217.0 671.6,2217.8 672.4,2218.0 673.2,2214.9 674.0,2216.4 674.9,2215.3 675.7,2216.9 676.5,2217.2 677.3,2215.7 678.2,2216.1 679.0,2216.5 679.8,2215.4 680.6,2216.0 681.5,2215.6 682.3,2217.2 683.1,2217.0 683.9,2219.0 684.8,2219.2 685.6,2217.3 686.4,2218.6 687.2,2218.5 688.1,2218.4 688.9,2218.4 689.7,2217.9 690.5,2219.0 691.3,2218.8 692.2,2218.7 693.0,2218.1 693.8,2219.8 694.6,2217.5 695.5,2219.6 696.3,2218.9 697.1,2217.3 697.9,2218.3 698.8,2219.9 699.6,2218.0 700.4,2217.7 701.2,2218.6 702.1,2219.2 702.9,2220.1 703.7,2218.3 704.5,2219.0 705.4,2218.0 706.2,2218.8 707.0,2218.0 707.8,2216.9 708.7,2218.6 709.5,2218.7 710.3,2217.3 711.1,2215.5 712.0,2216.4 712.8,2217.5 713.6,2218.3 714.4,2217.5 715.3,2219.0 716.1,2217.6 716.9,2216.8 717.7,2218.2 718.6,2217.1 719.4,2218.9 720.2,2218.6 721.0,2217.1 721.9,2216.8 722.7,2217.4 723.5,2218.1 724.3,2217.3 725.2,2217.3 726.0,2218.5 726.8,2218.4 727.6,2217.3 728.5,2217.5 729.3,2216.2 730.1,2218.0 730.9,2218.1 731.7,2219.0 732.6,2218.0 733.4,2218.3 734.2,2218.4 735.0,2218.3 735.9,2218.6 736.7,2218.3 737.5,2219.7 738.3,2218.3 739.2,2218.7 740.0,2218.6 740.8,2217.3 741.6,2216.5 742.5,2217.0 743.3,2217.4 744.1,2217.8 744.9,2216.6 745.8,2218.5 746.6,2217.8 747.4,2218.8 748.2,2217.2 749.1,2215.4 749.9,2218.3 750.7,2218.0 751.5,2219.4 752.4,2217.5 753.2,2217.7 754.0,2219.3 754.8,2215.5 755.7,2216.9 756.5,2216.7 757.3,2218.7 758.1,2218.1 759.0,2218.6 759.8,2216.5 760.6,2217.3 761.4,2217.8 762.3,2217.8 763.1,2217.8 763.9,2218.8 764.7,2217.0 765.6,2216.8 766.4,2216.5 767.2,2217.6 768.0,2216.4 768.9,2216.6 769.7,2216.9 770.5,2216.1 771.3,2217.2 772.2,2216.8 773.0,2215.5 773.8,2217.0 774.6,2217.6 775.4,2219.0 776.3,2217.5 777.1,2218.6 777.9,2217.4 778.7,2218.2 779.6,2215.7 780.4,2215.3 781.2,2216.2 782.0,2216.5 782.9,2217.1 783.7,2217.7 784.5,2216.4 785.3,2217.5 786.2,2216.6 787.0,2219.0 787.8,2217.2 788.6,2216.9 789.5,2218.8 790.3,2215.4 791.1,2217.9 791.9,2216.7 792.8,2215.9 793.6,2216.2 794.4,2216.9 795.2,2217.2 796.1,2216.3 796.9,2217.1 797.7,2217.1 798.5,2216.4 799.4,2217.6 800.2,2215.7 801.0,2216.8 801.8,2217.9 802.7,2217.8 803.5,2218.7 804.3,2218.3 805.1,2216.5 806.0,2218.7 806.8,2216.9 807.6,2218.4 808.4,2217.3 809.3,2218.2 810.1,2215.0 810.9,2217.7 811.7,2217.3 812.6,2219.2 813.4,2219.6 814.2,2219.8 815.0,2218.2 815.8,2218.1 816.7,2216.9 817.5,2217.2 818.3,2217.3 819.1,2217.6 820.0,2218.6 820.8,2216.8 821.6,2217.6 822.4,2217.8 823.3,2216.4 824.1,2214.4 824.9,2215.5 825.7,2215.5 826.6,2215.5 827.4,2217.3 828.2,2216.7 829.0,2216.7 829.9,2216.7 830.7,2216.2 831.5,2216.8 832.3,2216.8 833.2,2216.5 834.0,2216.7 834.8,2216.7 835.6,2215.4 836.5,2216.5 837.3,2216.6 838.1,2215.3 838.9,2216.6 839.8,2215.4 840.6,2214.9 841.4,2215.4 842.2,2212.1 843.1,2213.8 843.9,2212.3 844.7,2212.9 845.5,2210.7 846.4,2213.2 847.2,2213.3 848.0,2211.2 848.8,2213.4 849.7,2211.0 850.5,2211.0 851.3,2209.4 852.1,2210.2 853.0,2209.6 853.8,2210.0 854.6,2210.7 855.4,2210.2 856.2,2211.5 857.1,2210.6 857.9,2211.6 858.7,2209.9 859.5,2210.4 860.4,2210.3 861.2,2211.1 862.0,2211.6 862.8,2210.1 863.7,2209.0 864.5,2209.7 865.3,2209.1 866.1,2209.8 867.0,2208.4 867.8,2207.7 868.6,2205.7 869.4,2203.3 870.3,2198.8 871.1,2196.2 871.9,2189.1 872.7,2180.7 873.6,2172.7 874.4,2163.2 875.2,2153.6 876.0,2147.3 876.9,2143.7 877.7,2146.9 878.5,2154.7 879.3,2161.9 880.2,2170.9 881.0,2180.2 881.8,2185.0 882.6,2189.2 883.5,2190.5 884.3,2191.5 885.1,2191.1 885.9,2188.9 886.8,2187.9 887.6,2182.3 888.4,2178.3 889.2,2173.0 890.1,2170.4 890.9,2162.7 891.7,2159.7 892.5,2153.6 893.4,2154.4 894.2,2154.8 895.0,2154.3 895.8,2159.4 896.6,2161.8 897.5,2168.0 898.3,2175.2 899.1,2179.1 899.9,2183.2 900.8,2188.0 901.6,2191.2 902.4,2194.8 903.2,2199.5 904.1,2199.7 904.9,2203.2 905.7,2205.5 906.5,2207.9 907.4,2208.6 908.2,2209.2 909.0,2208.6 909.8,2214.0 910.7,2211.6 911.5,2213.6 912.3,2212.3 913.1,2214.5 914.0,2212.8 914.8,2213.8 915.6,2214.9 916.4,2214.2 917.3,2216.4 918.1,2216.2 918.9,2217.5 919.7,2217.6 920.6,2216.2 921.4,2215.2 922.2,2215.5 923.0,2216.4 923.9,2214.2 924.7,2216.7 925.5,2214.5 926.3,2216.5 927.2,2216.2 928.0,2214.8 928.8,2214.5 929.6,2215.8 930.5,2216.5 931.3,2215.2 932.1,2216.7 932.9,2216.6 933.8,2215.4 934.6,2215.0 935.4,2216.5 936.2,2216.0 937.1,2214.9 937.9,2215.3 938.7,2218.3 939.5,2217.2 940.3,2216.9 941.2,2215.5 942.0,2215.9 942.8,2216.6 943.6,2215.1 944.5,2215.7 945.3,2216.2 946.1,2216.4 946.9,2217.4 947.8,2216.2 948.6,2217.1 949.4,2217.3 950.2,2217.4 951.1,2217.4 951.9,2215.7 952.7,2215.5 953.5,2214.9 954.4,2216.4 955.2,2216.5 956.0,2216.2 956.8,2216.9 957.7,2215.1 958.5,2216.6 959.3,2216.2 960.1,2217.0 961.0,2215.7 961.8,2216.1 962.6,2215.2 963.4,2215.1 964.3,2214.4 965.1,2217.2 965.9,2216.6 966.7,2218.5 967.6,2215.7 968.4,2216.3 969.2,2215.3 970.0,2217.5 970.9,2216.1 971.7,2218.4 972.5,2218.5 973.3,2214.7 974.2,2215.9 975.0,2215.3 975.8,2215.8 976.6,2215.1 977.5,2216.3 978.3,2217.2 979.1,2216.3 979.9,2217.5 980.7,2216.7 981.6,2217.1 982.4,2217.4 983.2,2215.3 984.0,2217.6 984.9,2215.1 985.7,2214.9 986.5,2216.3 987.3,2214.5 988.2,2214.3 989.0,2216.0 989.8,2215.2 990.6,2215.1 991.5,2214.9 992.3,2214.7 993.1,2215.5 993.9,2215.0 994.8,2214.3 995.6,2216.5 996.4,2215.1 997.2,2213.2 998.1,2214.8 998.9,2213.9 999.7,2214.1 1000.5,2216.1 1001.4,2215.2 1002.2,2213.7 1003.0,2213.9 1003.8,2210.8 1004.7,2211.7 1005.5,2210.7 1006.3,2208.4 1007.1,2207.2 1008.0,2209.9 1008.8,2210.6 1009.6,2211.5 1010.4,2212.8 1011.3,2213.4 1012.1,2214.6 1012.9,2215.8 1013.7,2214.6 1014.6,2216.7 1015.4,2215.6 1016.2,2215.1 1017.0,2215.3 1017.9,2215.9 1018.7,2215.6 1019.5,2215.3 1020.3,2214.7 1021.1,2216.8 1022.0,2216.0 1022.8,2216.4 1023.6,2215.8 1024.4,2217.8 1025.3,2215.5 1026.1,2214.3 1026.9,2215.8 1027.7,2215.0 1028.6,2215.8 1029.4,2215.9 1030.2,2213.6 1031.0,2214.8 1031.9,2217.0 1032.7,2215.7 1033.5,2216.1 1034.3,2216.9 1035.2,2217.4 1036.0,2216.1 1036.8,2216.6 1037.6,2216.4 1038.5,2215.8 1039.3,2215.4 1040.1,2216.0 1040.9,2215.5 1041.8,2214.3 1042.6,2213.9 1043.4,2215.0 1044.2,2214.8 1045.1,2216.0 1045.9,2215.0 1046.7,2215.3 1047.5,2215.4 1048.4,2216.4 1049.2,2216.6 1050.0,2217.2 1050.8,2215.5 1051.7,2216.2 1052.5,2216.3 1053.3,2213.7 1054.1,2215.5 1055.0,2214.4 1055.8,2214.9 1056.6,2215.4 1057.4,2215.6 1058.3,2215.3 1059.1,2216.2 1059.9,2216.4 1060.7,2215.5 1061.5,2214.6 1062.4,2215.3 1063.2,2217.3 1064.0,2216.2 1064.8,2215.1 1065.7,2214.3 1066.5,2215.1 1067.3,2215.0 1068.1,2216.7 1069.0,2213.4 1069.8,2215.3 1070.6,2215.8 1071.4,2215.8 1072.3,2213.5 1073.1,2214.9 1073.9,2214.7 1074.7,2215.0 1075.6,2215.2 1076.4,2214.2 1077.2,2215.2 1078.0,2213.8 1078.9,2212.9 1079.7,2213.3 1080.5,2213.3 1081.3,2213.7 1082.2,2210.7 1083.0,2210.8 1083.8,2206.5 1084.6,2203.5 1085.5,2198.5 1086.3,2194.4 1087.1,2188.9 1087.9,2185.0 1088.8,2182.3 1089.6,2184.7 1090.4,2188.2 1091.2,2194.7 1092.1,2201.4 1092.9,2203.0 1093.7,2207.0 1094.5,2210.0 1095.4,2211.6 1096.2,2212.1 1097.0,2212.6 1097.8,2212.6 1098.7,2215.5 1099.5,2213.4 1100.3,2214.7 1101.1,2214.0 1102.0,2214.6 1102.8,2213.9 1103.6,2215.2 1104.4,2216.1 1105.2,2214.5 1106.1,2214.6 1106.9,2214.7 1107.7,2214.0 1108.5,2216.1 1109.4,2213.8 1110.2,2214.1 1111.0,2215.3 1111.8,2214.5 1112.7,2214.1 1113.5,2215.0 1114.3,2211.8 1115.1,2213.6 1116.0,2214.0 1116.8,2211.1 1117.6,2214.0 1118.4,2211.0 1119.3,2210.2 1120.1,2209.8 1120.9,2208.9 1121.7,2210.1 1122.6,2206.3 1123.4,2205.5 1124.2,2205.7 1125.0,2204.6 1125.9,2201.9 1126.7,2202.7 1127.5,2199.4 1128.3,2198.9 1129.2,2198.1 1130.0,2198.0 1130.8,2197.2 1131.6,2197.1 1132.5,2197.0 1133.3,2196.3 1134.1,2194.1 1134.9,2194.3 1135.8,2196.0 1136.6,2195.6 1137.4,2196.1 1138.2,2194.8 1139.1,2193.1 1139.9,2197.1 1140.7,2199.4 1141.5,2196.2 1142.4,2199.0 1143.2,2199.6 1144.0,2198.4 1144.8,2202.3 1145.6,2202.2 1146.5,2202.1 1147.3,2204.1 1148.1,2204.1 1148.9,2205.8 1149.8,2207.3 1150.6,2206.1 1151.4,2208.1 1152.2,2210.3 1153.1,2208.5 1153.9,2210.6 1154.7,2209.8 1155.5,2211.5 1156.4,2210.0 1157.2,2211.4 1158.0,2211.2 1158.8,2212.2 1159.7,2211.8 1160.5,2210.2 1161.3,2209.8 1162.1,2211.1 1163.0,2209.1 1163.8,2204.8 1164.6,2201.8 1165.4,2195.5 1166.3,2188.5 1167.1,2177.8 1167.9,2164.5 1168.7,2146.2 1169.6,2115.8 1170.4,2079.8 1171.2,2030.2 1172.0,1969.5 1172.9,1901.7 1173.7,1847.6 1174.5,1827.7 1175.3,1848.8 1176.2,1908.5 1177.0,1977.0 1177.8,2039.3 1178.6,2089.4 1179.5,2124.9 1180.3,2152.9 1181.1,2171.4 1181.9,2182.2 1182.8,2193.0 1183.6,2199.0 1184.4,2204.1 1185.2,2206.8 1186.0,2209.5 1186.9,2212.2 1187.7,2212.1 1188.5,2211.7 1189.3,2213.5 1190.2,2214.4 1191.0,2212.4 1191.8,2213.4 1192.6,2213.5 1193.5,2214.6 1194.3,2213.8 1195.1,2214.0 1195.9,2214.5 1196.8,2214.5 1197.6,2213.2 1198.4,2215.0 1199.2,2212.9 1200.1,2212.3 1200.9,2209.8 1201.7,2208.1 1202.5,2205.8 1203.4,2203.3 1204.2,2205.5 1205.0,2203.9 1205.8,2202.7 1206.7,2203.7 1207.5,2205.3 1208.3,2205.7 1209.1,2208.0 1210.0,2206.9 1210.8,2209.2 1211.6,2209.8 1212.4,2212.0 1213.3,2211.9 1214.1,2213.0 1214.9,2214.3 1215.7,2214.2 1216.6,2212.7 1217.4,2215.6 1218.2,2215.1 1219.0,2214.9 1219.9,2215.8 1220.7,2216.8 1221.5,2216.0 1222.3,2214.7 1223.2,2214.8 1224.0,2213.1 1224.8,2213.9 1225.6,2213.4 1226.4,2213.8 1227.3,2212.1 1228.1,2212.7 1228.9,2216.7 1229.7,2214.3 1230.6,2214.4 1231.4,2215.1 1232.2,2214.4 1233.0,2214.8 1233.9,2212.8 1234.7,2214.2 1235.5,2214.0 1236.3,2212.2 1237.2,2212.6 1238.0,2214.8 1238.8,2213.6 1239.6,2213.9 1240.5,2215.0 1241.3,2214.4 1242.1,2212.7 1242.9,2214.2 1243.8,2214.2 1244.6,2214.0 1245.4,2215.5 1246.2,2214.9 1247.1,2213.9 1247.9,2217.1 1248.7,2214.5 1249.5,2212.9 1250.4,2214.0 1251.2,2213.4 1252.0,2214.1 1252.8,2215.2 1253.7,2214.2 1254.5,2216.0 1255.3,2215.0 1256.1,2214.2 1257.0,2214.1 1257.8,2214.3 1258.6,2214.3 1259.4,2213.6 1260.3,2215.3 1261.1,2213.3 1261.9,2215.1 1262.7,2215.2 1263.6,2214.8 1264.4,2214.9 1265.2,2213.0 1266.0,2214.1 1266.9,2212.0 1267.7,2213.3 1268.5,2213.3 1269.3,2215.4 1270.1,2212.7 1271.0,2215.4 1271.8,2214.6 1272.6,2214.0 1273.4,2213.5 1274.3,2214.6 1275.1,2216.9 1275.9,2212.8 1276.7,2214.2 1277.6,2215.2 1278.4,2215.2 1279.2,2215.3 1280.0,2214.4 1280.9,2214.5 1281.7,2213.2 1282.5,2214.7 1283.3,2213.2 1284.2,2213.3 1285.0,2214.3 1285.8,2213.1 1286.6,2214.1 1287.5,2212.6 1288.3,2212.5 1289.1,2213.0 1289.9,2212.9 1290.8,2212.8 1291.6,2213.4 1292.4,2213.1 1293.2,2212.6 1294.1,2213.1 1294.9,2213.1 1295.7,2213.7 1296.5,2213.1 1297.4,2213.3 1298.2,2213.7 1299.0,2215.4 1299.8,2215.1 1300.7,2213.8 1301.5,2212.7 1302.3,2213.9 1303.1,2214.8 1304.0,2215.4 1304.8,2214.7 1305.6,2213.4 1306.4,2213.4 1307.3,2213.6 1308.1,2215.3 1308.9,2213.9 1309.7,2214.9 1310.5,2213.1 1311.4,2214.5 1312.2,2213.6 1313.0,2212.1 1313.8,2212.2 1314.7,2212.2 1315.5,2213.1 1316.3,2212.7 1317.1,2212.5 1318.0,2213.1 1318.8,2212.7 1319.6,2213.8 1320.4,2213.3 1321.3,2212.8 1322.1,2212.8 1322.9,2212.9 1323.7,2213.1 1324.6,2213.1 1325.4,2212.3 1326.2,2212.9 1327.0,2213.3 1327.9,2214.3 1328.7,2215.0 1329.5,2214.4 1330.3,2215.8 1331.2,2216.3 1332.0,2215.6 1332.8,2216.6 1333.6,2213.4 1334.5,2214.6 1335.3,2213.8 1336.1,2213.6 1336.9,2213.2 1337.8,2213.1 1338.6,2214.0 1339.4,2212.8 1340.2,2213.1 1341.1,2212.4 1341.9,2215.2 1342.7,2213.9 1343.5,2213.4 1344.4,2213.0 1345.2,2212.3 1346.0,2213.3 1346.8,2214.5 1347.7,2213.0 1348.5,2212.9 1349.3,2214.4 1350.1,2213.3 1350.9,2214.1 1351.8,2214.1 1352.6,2214.8 1353.4,2214.2 1354.2,2213.2 1355.1,2213.0 1355.9,2214.2 1356.7,2213.8 1357.5,2213.8 1358.4,2214.8 1359.2,2213.0 1360.0,2214.5 1360.8,2212.3 1361.7,2214.4 1362.5,2213.5 1363.3,2213.8 1364.1,2212.8 1365.0,2214.4 1365.8,2212.4 1366.6,2212.8 1367.4,2211.3 1368.3,2211.9 1369.1,2211.2 1369.9,2210.6 1370.7,2210.7 1371.6,2211.2 1372.4,2212.0 1373.2,2210.9 1374.0,2210.1 1374.9,2212.7 1375.7,2211.6 1376.5,2213.0 1377.3,2211.7 1378.2,2213.0 1379.0,2213.5 1379.8,2213.3 1380.6,2214.2 1381.5,2212.5 1382.3,2214.4 1383.1,2212.0 1383.9,2214.8 1384.8,2214.7 1385.6,2214.3 1386.4,2212.6 1387.2,2214.4 1388.1,2213.2 1388.9,2212.9 1389.7,2213.1 1390.5,2214.5 1391.3,2212.7 1392.2,2211.6 1393.0,2212.1 1393.8,2213.3 1394.6,2212.0 1395.5,2212.4 1396.3,2214.4 1397.1,2212.8 1397.9,2212.8 1398.8,2211.9 1399.6,2211.8 1400.4,2211.9 1401.2,2212.8 1402.1,2213.9 1402.9,2211.6 1403.7,2212.6 1404.5,2213.3 1405.4,2212.0 1406.2,2213.3 1407.0,2213.0 1407.8,2214.2 1408.7,2213.5 1409.5,2213.6 1410.3,2212.3 1411.1,2213.9 1412.0,2213.7 1412.8,2213.8 1413.6,2212.7 1414.4,2213.9 1415.3,2211.5 1416.1,2212.6 1416.9,2212.3 1417.7,2214.6 1418.6,2215.3 1419.4,2214.1 1420.2,2214.7 1421.0,2214.4 1421.9,2212.1 1422.7,2212.4 1423.5,2212.7 1424.3,2212.4 1425.2,2211.7 1426.0,2212.0 1426.8,2215.2 1427.6,2215.0 1428.5,2213.4 1429.3,2213.6 1430.1,2210.9 1430.9,2211.5 1431.8,2211.6 1432.6,2212.5 1433.4,2213.3 1434.2,2214.5 1435.0,2212.1 1435.9,2212.2 1436.7,2210.8 1437.5,2211.5 1438.3,2211.1 1439.2,2214.1 1440.0,2213.8 1440.8,2213.6 1441.6,2213.0 1442.5,2213.5 1443.3,2213.2 1444.1,2212.4 1444.9,2212.3 1445.8,2213.3 1446.6,2211.9 1447.4,2210.5 1448.2,2212.2 1449.1,2213.0 1449.9,2211.3 1450.7,2209.6 1451.5,2209.5 1452.4,2209.9 1453.2,2209.4 1454.0,2208.4 1454.8,2207.4 1455.7,2206.7 1456.5,2205.0 1457.3,2201.7 1458.1,2197.7 1459.0,2196.1 1459.8,2192.0 1460.6,2187.3 1461.4,2178.5 1462.3,2170.2 1463.1,2159.7 1463.9,2148.1 1464.7,2136.2 1465.6,2121.9 1466.4,2102.3 1467.2,2085.1 1468.0,2069.8 1468.9,2057.1 1469.7,2053.8 1470.5,2058.4 1471.3,2066.5 1472.2,2084.2 1473.0,2102.1 1473.8,2119.4 1474.6,2135.3 1475.4,2147.9 1476.3,2161.6 1477.1,2169.1 1477.9,2178.5 1478.7,2186.8 1479.6,2191.7 1480.4,2195.8 1481.2,2199.1 1482.0,2201.9 1482.9,2203.0 1483.7,2207.3 1484.5,2207.5 1485.3,2208.3 1486.2,2209.6 1487.0,2209.7 1487.8,2210.8 1488.6,2209.9 1489.5,2210.4 1490.3,2209.8 1491.1,2210.7 1491.9,2211.5 1492.8,2211.7 1493.6,2214.2 1494.4,2212.9 1495.2,2212.5 1496.1,2213.2 1496.9,2213.5 1497.7,2212.5 1498.5,2210.8 1499.4,2211.4 1500.2,2212.9 1501.0,2210.9 1501.8,2211.8 1502.7,2211.2 1503.5,2211.9 1504.3,2211.4 1505.1,2211.9 1506.0,2212.8 1506.8,2211.1 1507.6,2215.1 1508.4,2213.5 1509.3,2212.7 1510.1,2214.1 1510.9,2213.4 1511.7,2213.2 1512.6,2213.1 1513.4,2213.1 1514.2,2212.7 1515.0,2213.0 1515.8,2213.5 1516.7,2213.1 1517.5,2213.7 1518.3,2213.1 1519.1,2213.7 1520.0,2213.8 1520.8,2212.6 1521.6,2212.1 1522.4,2213.6 1523.3,2212.0 1524.1,2212.5 1524.9,2211.9 1525.7,2211.2 1526.6,2211.3 1527.4,2212.4 1528.2,2211.8 1529.0,2211.8 1529.9,2212.1 1530.7,2214.1 1531.5,2213.6 1532.3,2213.5 1533.2,2212.6 1534.0,2210.5 1534.8,2212.5 1535.6,2214.0 1536.5,2212.5 1537.3,2213.2 1538.1,2211.1 1538.9,2212.5 1539.8,2212.5 1540.6,2213.0 1541.4,2211.9 1542.2,2212.4 1543.1,2210.5 1543.9,2211.0 1544.7,2211.2 1545.5,2212.1 1546.4,2212.3 1547.2,2210.8 1548.0,2212.6 1548.8,2213.9 1549.7,2212.4 1550.5,2213.8 1551.3,2213.7 1552.1,2213.7 1553.0,2212.9 1553.8,2211.2 1554.6,2211.1 1555.4,2212.3 1556.2,2212.6 1557.1,2211.8 1557.9,2213.6 1558.7,2210.7 1559.5,2212.4 1560.4,2212.8 1561.2,2212.3 1562.0,2211.6 1562.8,2211.3 1563.7,2211.5 1564.5,2212.0 1565.3,2212.6 1566.1,2211.0 1567.0,2210.9 1567.8,2212.1 1568.6,2214.1 1569.4,2212.2 1570.3,2211.5 1571.1,2212.7 1571.9,2213.0 1572.7,2212.4 1573.6,2213.2 1574.4,2212.8 1575.2,2212.4 1576.0,2213.1 1576.9,2213.0 1577.7,2212.6 1578.5,2212.6 1579.3,2212.2 1580.2,2212.4 1581.0,2212.3 1581.8,2211.8 1582.6,2212.7 1583.5,2212.0 1584.3,2213.4 1585.1,2212.7 1585.9,2212.7 1586.8,2212.2 1587.6,2211.1 1588.4,2211.9 1589.2,2210.8 1590.1,2212.9 1590.9,2212.7 1591.7,2213.4 1592.5,2214.0 1593.4,2214.2 1594.2,2210.9 1595.0,2211.9 1595.8,2211.5 1596.7,2212.1 1597.5,2213.0 1598.3,2211.6 1599.1,2213.3 1599.9,2212.7 1600.8,2210.2 1601.6,2210.6 1602.4,2211.8 1603.2,2212.4 1604.1,2212.9 1604.9,2213.4 1605.7,2213.5 1606.5,2213.4 1607.4,2211.3 1608.2,2213.1 1609.0,2212.4 1609.8,2212.0 1610.7,2212.1 1611.5,2211.1 1612.3,2212.3 1613.1,2211.6 1614.0,2210.5 1614.8,2211.0 1615.6,2209.9 1616.4,2210.0 1617.3,2211.0 1618.1,2209.6 1618.9,2209.7 1619.7,2208.1 1620.6,2204.5 1621.4,2205.7 1622.2,2201.3 1623.0,2196.8 1623.9,2188.5 1624.7,2183.5 1625.5,2170.9 1626.3,2160.1 1627.2,2143.8 1628.0,2132.9 1628.8,2127.7 1629.6,2132.2 1630.5,2144.1 1631.3,2159.0 1632.1,2168.1 1632.9,2176.4 1633.8,2181.9 1634.6,2180.2 1635.4,2178.9 1636.2,2177.3 1637.1,2176.9 1637.9,2180.7 1638.7,2184.2 1639.5,2187.3 1640.3,2191.7 1641.2,2194.7 1642.0,2198.4 1642.8,2202.4 1643.6,2205.9 1644.5,2209.0 1645.3,2210.4 1646.1,2208.7 1646.9,2211.3 1647.8,2212.3 1648.6,2211.1 1649.4,2212.5 1650.2,2210.4 1651.1,2211.1 1651.9,2210.8 1652.7,2212.3 1653.5,2212.7 1654.4,2211.4 1655.2,2213.4 1656.0,2213.9 1656.8,2213.5 1657.7,2212.7 1658.5,2211.4 1659.3,2212.1 1660.1,2211.4 1661.0,2212.9 1661.8,2210.6 1662.6,2210.4 1663.4,2208.2 1664.3,2211.0 1665.1,2209.5 1665.9,2212.5 1666.7,2211.4 1667.6,2213.0 1668.4,2213.7 1669.2,2213.0 1670.0,2211.2 1670.9,2211.3 1671.7,2210.6 1672.5,2210.1 1673.3,2209.6 1674.2,2210.0 1675.0,2210.7 1675.8,2212.0 1676.6,2211.0 1677.5,2212.4 1678.3,2212.8 1679.1,2212.3 1679.9,2213.2 1680.7,2212.5 1681.6,2212.0 1682.4,2212.0 1683.2,2211.6 1684.0,2210.1 1684.9,2212.3 1685.7,2209.5 1686.5,2211.7 1687.3,2212.2 1688.2,2212.9 1689.0,2212.2 1689.8,2212.8 1690.6,2212.5 1691.5,2211.0 1692.3,2214.2 1693.1,2212.7 1693.9,2209.9 1694.8,2211.0 1695.6,2212.3 1696.4,2210.5 1697.2,2211.2 1698.1,2209.7 1698.9,2211.2 1699.7,2212.2 1700.5,2212.3 1701.4,2212.7 1702.2,2210.9 1703.0,2211.9 1703.8,2210.8 1704.7,2212.5 1705.5,2213.0 1706.3,2211.7 1707.1,2211.6 1708.0,2210.2 1708.8,2212.2 1709.6,2212.6 1710.4,2211.0 1711.3,2213.5 1712.1,2212.0 1712.9,2210.8 1713.7,2211.9 1714.6,2210.1 1715.4,2211.5 1716.2,2208.4 1717.0,2208.5 1717.9,2208.0 1718.7,2204.9 1719.5,2206.4 1720.3,2202.4 1721.1,2198.5 1722.0,2195.1 1722.8,2191.0 1723.6,2187.9 1724.4,2186.8 1725.3,2190.3 1726.1,2193.4 1726.9,2197.4 1727.7,2199.8 1728.6,2199.7 1729.4,2202.4 1730.2,2201.9 1731.0,2200.7 1731.9,2202.0 1732.7,2203.6 1733.5,2202.2 1734.3,2203.6 1735.2,2206.3 1736.0,2205.2 1736.8,2209.2 1737.6,2210.4 1738.5,2209.0 1739.3,2211.6 1740.1,2210.8 1740.9,2210.0 1741.8,2213.8 1742.6,2210.6 1743.4,2210.5 1744.2,2212.0 1745.1,2212.5 1745.9,2210.8 1746.7,2211.5 1747.5,2212.6 1748.4,2212.1 1749.2,2213.1 1750.0,2211.1 1750.8,2212.5 1751.7,2213.3 1752.5,2211.4 1753.3,2211.8 1754.1,2211.8 1755.0,2213.9 1755.8,2211.6 1756.6,2211.4 1757.4,2212.0 1758.3,2210.3 1759.1,2210.3 1759.9,2211.1 1760.7,2213.1 1761.6,2212.4 1762.4,2212.7 1763.2,2212.4 1764.0,2211.6 1764.8,2210.8 1765.7,2211.6 1766.5,2211.5 1767.3,2211.5 1768.1,2211.6 1769.0,2212.2 1769.8,2213.3 1770.6,2212.4 1771.4,2211.4 1772.3,2213.0 1773.1,2210.1 1773.9,2212.7 1774.7,2210.9 1775.6,2213.6 1776.4,2213.6 1777.2,2212.0 1778.0,2212.9 1778.9,2213.3 1779.7,2210.7 1780.5,2209.9 1781.3,2212.5 1782.2,2210.4 1783.0,2211.0 1783.8,2212.3 1784.6,2210.2 1785.5,2211.1 1786.3,2212.2 1787.1,2210.7 1787.9,2212.1 1788.8,2212.3 1789.6,2211.8 1790.4,2211.1 1791.2,2211.4 1792.1,2210.6 1792.9,2211.6 1793.7,2210.2 1794.5,2212.4 1795.4,2211.1 1796.2,2213.0 1797.0,2213.1 1797.8,2211.2 1798.7,2212.4 1799.5,2211.7 1800.3,2211.3 1801.1,2211.4 1802.0,2210.4 1802.8,2209.1 1803.6,2209.5 1804.4,2210.3 1805.2,2211.5 1806.1,2209.7 1806.9,2211.5 1807.7,2212.0 1808.5,2209.6 1809.4,2209.8 1810.2,2211.7 1811.0,2211.2 1811.8,2209.2 1812.7,2212.7 1813.5,2211.6 1814.3,2209.7 1815.1,2210.7 1816.0,2211.6 1816.8,2211.5 1817.6,2212.1 1818.4,2211.4 1819.3,2211.1 1820.1,2210.5 1820.9,2210.4 1821.7,2210.8 1822.6,2210.1 1823.4,2211.5 1824.2,2211.2 1825.0,2209.6 1825.9,2212.2 1826.7,2212.7 1827.5,2214.3 1828.3,2212.6 1829.2,2211.6 1830.0,2210.5 1830.8,2211.4 1831.6,2212.1 1832.5,2212.6 1833.3,2210.9 1834.1,2210.4 1834.9,2211.9 1835.8,2210.0 1836.6,2210.0 1837.4,2211.7 1838.2,2211.7 1839.1,2211.4 1839.9,2211.3 1840.7,2208.8 1841.5,2210.4 1842.4,2210.4 1843.2,2211.1 1844.0,2210.0 1844.8,2210.9 1845.6,2210.9 1846.5,2209.0 1847.3,2208.9 1848.1,2211.7 1848.9,2211.5 1849.8,2211.6 1850.6,2211.4 1851.4,2210.9 1852.2,2211.9 1853.1,2211.0 1853.9,2211.6 1854.7,2211.2 1855.5,2210.0 1856.4,2210.4 1857.2,2211.7 1858.0,2212.7 1858.8,2211.3 1859.7,2211.8 1860.5,2210.8 1861.3,2209.6 1862.1,2211.1 1863.0,2211.6 1863.8,2211.6 1864.6,2211.8 1865.4,2212.5 1866.3,2212.4 1867.1,2212.6 1867.9,2212.2 1868.7,2211.8 1869.6,2211.6 1870.4,2211.2 1871.2,2210.6 1872.0,2212.4 1872.9,2211.2 1873.7,2212.6 1874.5,2212.1 1875.3,2212.0 1876.2,2211.2 1877.0,2210.3 1877.8,2213.3 1878.6,2210.4 1879.5,2210.9 1880.3,2210.7 1881.1,2210.3 1881.9,2210.1 1882.8,2209.7 1883.6,2211.3 1884.4,2211.5 1885.2,2211.4 1886.0,2211.9 1886.9,2211.2 1887.7,2212.1 1888.5,2211.3 1889.3,2212.9 1890.2,2212.9 1891.0,2211.9 1891.8,2210.4 1892.6,2210.2 1893.5,2211.1 1894.3,2211.9 1895.1,2210.0 1895.9,2210.4 1896.8,2211.2 1897.6,2209.2 1898.4,2210.8 1899.2,2211.1 1900.1,2209.2 1900.9,2208.0 1901.7,2207.3 1902.5,2208.5 1903.4,2207.0 1904.2,2207.9 1905.0,2207.3 1905.8,2206.4 1906.7,2205.8 1907.5,2205.4 1908.3,2205.2 1909.1,2206.0 1910.0,2202.6 1910.8,2203.7 1911.6,2202.4 1912.4,2203.3 1913.3,2201.5 1914.1,2204.0 1914.9,2201.2 1915.7,2200.7 1916.6,2198.8 1917.4,2199.0 1918.2,2198.1 1919.0,2198.4 1919.9,2199.4 1920.7,2197.9 1921.5,2195.8 1922.3,2194.7 1923.2,2196.7 1924.0,2195.3 1924.8,2197.2 1925.6,2196.2 1926.5,2197.1 1927.3,2198.4 1928.1,2198.2 1928.9,2197.5 1929.7,2197.3 1930.6,2199.5 1931.4,2198.7 1932.2,2199.4 1933.0,2199.4 1933.9,2200.8 1934.7,2200.5 1935.5,2200.9 1936.3,2203.0 1937.2,2203.0 1938.0,2204.3 1938.8,2204.8 1939.6,2203.7 1940.5,2205.3 1941.3,2205.1 1942.1,2205.7 1942.9,2204.6 1943.8,2205.1 1944.6,2205.8 1945.4,2207.2 1946.2,2205.6 1947.1,2207.1 1947.9,2208.0 1948.7,2208.6 1949.5,2209.2 1950.4,2209.2 1951.2,2207.3 1952.0,2208.5 1952.8,2210.3 1953.7,2207.2 1954.5,2210.2 1955.3,2209.3 1956.1,2210.3 1957.0,2211.4 1957.8,2212.6 1958.6,2211.9 1959.4,2213.1 1960.3,2212.3 1961.1,2211.8 1961.9,2212.7 1962.7,2212.8 1963.6,2211.7 1964.4,2209.6 1965.2,2212.7 1966.0,2209.6 1966.9,2210.2 1967.7,2211.1 1968.5,2211.1" fill="none" stroke="#000" stroke-width="4.7" stroke-linejoin="round" stroke-linecap="butt"/>
<text transform="translate(422.6 2412.8) scale(1 1.04)" font-size="87.5" fill="#000" text-anchor="middle" font-weight="normal">25</text>
<text transform="translate(628.7 2412.8) scale(1 1.04)" font-size="87.5" fill="#000" text-anchor="middle" font-weight="normal">30</text>
<text transform="translate(834.8 2412.8) scale(1 1.04)" font-size="87.5" fill="#000" text-anchor="middle" font-weight="normal">35</text>
<text transform="translate(1040.9 2412.8) scale(1 1.04)" font-size="87.5" fill="#000" text-anchor="middle" font-weight="normal">40</text>
<text transform="translate(1247.1 2412.8) scale(1 1.04)" font-size="87.5" fill="#000" text-anchor="middle" font-weight="normal">45</text>
<text transform="translate(1453.2 2412.8) scale(1 1.04)" font-size="87.5" fill="#000" text-anchor="middle" font-weight="normal">50</text>
<text transform="translate(1659.3 2412.8) scale(1 1.04)" font-size="87.5" fill="#000" text-anchor="middle" font-weight="normal">55</text>
<text transform="translate(1865.4 2412.8) scale(1 1.04)" font-size="87.5" fill="#000" text-anchor="middle" font-weight="normal">60</text>
<text transform="translate(1144.85 2606) scale(1 1.04)" font-size="142" fill="#000" text-anchor="middle" font-weight="normal">2Theta [deg]</text>
<text transform="translate(135 1112.4) rotate(-90) scale(1 1.04)" font-size="142" text-anchor="middle">Intensity [a.u.]</text>
<text transform="translate(1824 140) scale(1 1.04)" font-size="108" fill="#fff" text-anchor="middle" font-weight="bold">XRD</text>
<text transform="translate(975.3 185.5) scale(1.000 0.95)" font-size="73" stroke="#000" stroke-width="1.6">*</text>
<text transform="translate(1031.4 200.2) scale(1 1.04)" font-size="87.2" fill="#000" text-anchor="start" font-weight="normal"><tspan dy="2.8" stroke="#000" stroke-width="1.1">-</tspan><tspan dy="-2.8"> Cu</tspan></text>
<text transform="translate(976.0 309.3) scale(0.838 1.05)" font-size="87.5" stroke="#000" stroke-width="0.9">^</text>
<text transform="translate(1038.1 307.1) scale(1 1.04)" font-size="87.2" fill="#000" text-anchor="start" font-weight="normal"><tspan dy="2.8" stroke="#000" stroke-width="1.1">-</tspan><tspan dy="-2.8"> TiO</tspan><tspan font-size="58.5" dy="24.9">2</tspan><tspan dy="-24.9"> rutile</tspan></text>
<text transform="translate(971.1 433.8) scale(1.000 0.965)" font-size="87.5">|</text>
<text transform="translate(1019.9 435.2) scale(1 1.04)" font-size="87.2" fill="#000" text-anchor="start" font-weight="normal"><tspan dy="2.8" stroke="#000" stroke-width="1.1">-</tspan><tspan dy="-2.8"> TiO</tspan><tspan font-size="58.5" dy="24.9">2</tspan><tspan dy="-24.9"> anatase</tspan></text>
<text transform="translate(974.0 562.7) scale(0.941 0.9)" font-size="87.5" stroke="#000" stroke-width="1.6">+</text>
<text transform="translate(1048.2 563.2) scale(1 1.04)" font-size="87.2" fill="#000" text-anchor="start" font-weight="normal"><tspan dy="2.8" stroke="#000" stroke-width="1.1">-</tspan><tspan dy="-2.8"> Cu</tspan><tspan font-size="58.5" dy="24.9">2</tspan><tspan dy="-24.9" dx="-1">O</tspan></text>
<text transform="translate(1707.6 659.5) scale(1 1.04)" font-size="87.5" fill="#008000" text-anchor="start" font-weight="normal">NTO</text>
<text transform="translate(1629.5 1008) scale(1 1.04)" font-size="87.5" fill="#ff00ff" text-anchor="start" font-weight="normal">10NTO</text>
<text transform="translate(1687.6 1371.5) scale(1 1.04)" font-size="87.5" fill="#0000ff" text-anchor="start" font-weight="normal">5NTO</text>
<text transform="translate(1694 1724) scale(1 1.04)" font-size="87.5" fill="#ff0000" text-anchor="start" font-weight="normal">3NTO</text>
<text transform="translate(1685.5 2143.2) scale(1 1.04)" font-size="87.5" fill="#000" text-anchor="start" font-weight="normal">1NTO</text>
<text transform="translate(508.1 1102.0) scale(0.871 1.05)" font-size="87.5" stroke="#000" stroke-width="0.9">^</text>
<text transform="translate(862.6 1112.1) scale(0.851 1.05)" font-size="87.5" stroke="#000" stroke-width="0.9">^</text>
<text transform="translate(886.6 1119.7) scale(0.927 0.9)" font-size="87.5" stroke="#000" stroke-width="1.6">+</text>
<text transform="translate(1083.4 1134.6) scale(0.843 1.05)" font-size="87.5" stroke="#000" stroke-width="0.9">^</text>
<text transform="translate(1120.1 1124.1) scale(0.908 0.9)" font-size="87.5" stroke="#000" stroke-width="1.6">+</text>
<text transform="translate(1171.3 815.0) scale(1.000 0.95)" font-size="73" stroke="#000" stroke-width="1.6">*</text>
<text transform="translate(1197.6 1140.7) scale(0.833 1.05)" font-size="87.5" stroke="#000" stroke-width="0.9">^</text>
<text transform="translate(1468.5 1043.4) scale(1.000 0.95)" font-size="73" stroke="#000" stroke-width="1.6">*</text>
<text transform="translate(1613.9 1111.6) scale(0.843 1.05)" font-size="87.5" stroke="#000" stroke-width="0.9">^</text>
<text transform="translate(1714.1 1141.2) scale(0.856 1.05)" font-size="87.5" stroke="#000" stroke-width="0.9">^</text>
<text transform="translate(1908.9 1135.7) scale(0.922 0.9)" font-size="87.5" stroke="#000" stroke-width="1.6">+</text>
<text transform="translate(422.6 2155.5) scale(1.000 0.965)" font-size="87.5">|</text>
</svg>
</body></html>
